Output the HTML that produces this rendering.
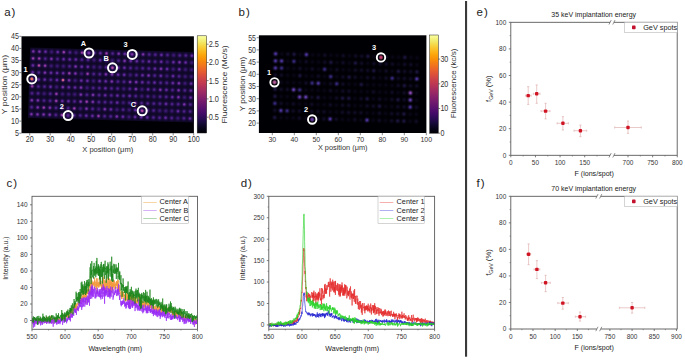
<!DOCTYPE html>
<html><head><meta charset="utf-8"><style>
html,body{margin:0;padding:0;background:#fff;}
svg{display:block;}
text{font-family:"Liberation Sans", sans-serif;}
</style></head><body>
<svg width="685" height="360" viewBox="0 0 685 360">
<defs><linearGradient id="cbar" x1="0" y1="0" x2="0" y2="1"><stop offset="0.00" stop-color="#fcffa4"/><stop offset="0.05" stop-color="#f1ef75"/><stop offset="0.10" stop-color="#f6d746"/><stop offset="0.15" stop-color="#fbbe23"/><stop offset="0.20" stop-color="#fca50a"/><stop offset="0.25" stop-color="#f98e09"/><stop offset="0.30" stop-color="#f37819"/><stop offset="0.35" stop-color="#ea632a"/><stop offset="0.40" stop-color="#dd513a"/><stop offset="0.45" stop-color="#cc4248"/><stop offset="0.50" stop-color="#bc3754"/><stop offset="0.55" stop-color="#a82e5f"/><stop offset="0.60" stop-color="#932667"/><stop offset="0.65" stop-color="#7f1e6c"/><stop offset="0.70" stop-color="#6a176e"/><stop offset="0.75" stop-color="#57106e"/><stop offset="0.80" stop-color="#420a68"/><stop offset="0.85" stop-color="#2b0b57"/><stop offset="0.90" stop-color="#160b39"/><stop offset="0.95" stop-color="#07051b"/><stop offset="1.00" stop-color="#000004"/></linearGradient><clipPath id="cpa"><rect x="21.5" y="36.3" width="172.40" height="96.90"/></clipPath><radialGradient id="ga0"><stop offset="0" stop-color="#3e1a74"/> <stop offset="0.22" stop-color="#3e1a74" stop-opacity="0.9"/><stop offset="0.6" stop-color="#2c1060" stop-opacity="0.55"/><stop offset="1" stop-color="#2c1060" stop-opacity="0"/></radialGradient><radialGradient id="ga1"><stop offset="0" stop-color="#50228c"/> <stop offset="0.22" stop-color="#50228c" stop-opacity="0.9"/><stop offset="0.6" stop-color="#2c1060" stop-opacity="0.55"/><stop offset="1" stop-color="#2c1060" stop-opacity="0"/></radialGradient><radialGradient id="ga2"><stop offset="0" stop-color="#662aa0"/> <stop offset="0.22" stop-color="#662aa0" stop-opacity="0.9"/><stop offset="0.6" stop-color="#2c1060" stop-opacity="0.55"/><stop offset="1" stop-color="#2c1060" stop-opacity="0"/></radialGradient><radialGradient id="ga3"><stop offset="0" stop-color="#7c32a8"/> <stop offset="0.22" stop-color="#7c32a8" stop-opacity="0.9"/><stop offset="0.6" stop-color="#2c1060" stop-opacity="0.55"/><stop offset="1" stop-color="#2c1060" stop-opacity="0"/></radialGradient><radialGradient id="ga4"><stop offset="0" stop-color="#9a3ca8"/> <stop offset="0.22" stop-color="#9a3ca8" stop-opacity="0.9"/><stop offset="0.6" stop-color="#2c1060" stop-opacity="0.55"/><stop offset="1" stop-color="#2c1060" stop-opacity="0"/></radialGradient><radialGradient id="ga5"><stop offset="0" stop-color="#bc4ca2"/> <stop offset="0.22" stop-color="#bc4ca2" stop-opacity="0.9"/><stop offset="0.6" stop-color="#2c1060" stop-opacity="0.55"/><stop offset="1" stop-color="#2c1060" stop-opacity="0"/></radialGradient><radialGradient id="ga6"><stop offset="0" stop-color="#e06694"/> <stop offset="0.22" stop-color="#e06694" stop-opacity="0.9"/><stop offset="0.6" stop-color="#2c1060" stop-opacity="0.55"/><stop offset="1" stop-color="#2c1060" stop-opacity="0"/></radialGradient><radialGradient id="gb0"><stop offset="0" stop-color="#0a0618"/><stop offset="0.2" stop-color="#0a0618" stop-opacity="0.85"/><stop offset="0.45" stop-color="#0a0618" stop-opacity="0.45"/><stop offset="0.7" stop-color="#0a0618" stop-opacity="0.15"/><stop offset="1" stop-color="#0a0618" stop-opacity="0"/></radialGradient><radialGradient id="gb1"><stop offset="0" stop-color="#120c28"/><stop offset="0.2" stop-color="#120c28" stop-opacity="0.85"/><stop offset="0.45" stop-color="#120c28" stop-opacity="0.45"/><stop offset="0.7" stop-color="#120c28" stop-opacity="0.15"/><stop offset="1" stop-color="#120c28" stop-opacity="0"/></radialGradient><radialGradient id="gb2"><stop offset="0" stop-color="#1e1642"/><stop offset="0.2" stop-color="#1e1642" stop-opacity="0.85"/><stop offset="0.45" stop-color="#1e1642" stop-opacity="0.45"/><stop offset="0.7" stop-color="#1e1642" stop-opacity="0.15"/><stop offset="1" stop-color="#1e1642" stop-opacity="0"/></radialGradient><radialGradient id="gb3"><stop offset="0" stop-color="#3a2c86"/><stop offset="0.2" stop-color="#3a2c86" stop-opacity="0.85"/><stop offset="0.45" stop-color="#3a2c86" stop-opacity="0.45"/><stop offset="0.7" stop-color="#3a2c86" stop-opacity="0.15"/><stop offset="1" stop-color="#3a2c86" stop-opacity="0"/></radialGradient><radialGradient id="gb4"><stop offset="0" stop-color="#5238a8"/><stop offset="0.2" stop-color="#5238a8" stop-opacity="0.85"/><stop offset="0.45" stop-color="#5238a8" stop-opacity="0.45"/><stop offset="0.7" stop-color="#5238a8" stop-opacity="0.15"/><stop offset="1" stop-color="#5238a8" stop-opacity="0"/></radialGradient><radialGradient id="gb5"><stop offset="0" stop-color="#6c44bc"/><stop offset="0.2" stop-color="#6c44bc" stop-opacity="0.85"/><stop offset="0.45" stop-color="#6c44bc" stop-opacity="0.45"/><stop offset="0.7" stop-color="#6c44bc" stop-opacity="0.15"/><stop offset="1" stop-color="#6c44bc" stop-opacity="0"/></radialGradient><radialGradient id="gb6"><stop offset="0" stop-color="#9450c4"/><stop offset="0.2" stop-color="#9450c4" stop-opacity="0.85"/><stop offset="0.45" stop-color="#9450c4" stop-opacity="0.45"/><stop offset="0.7" stop-color="#9450c4" stop-opacity="0.15"/><stop offset="1" stop-color="#9450c4" stop-opacity="0"/></radialGradient><radialGradient id="core1"><stop offset="0" stop-color="#c060a0"/><stop offset="0.45" stop-color="#c060a0" stop-opacity="0.8"/><stop offset="1" stop-color="#c060a0" stop-opacity="0"/></radialGradient><radialGradient id="core2"><stop offset="0" stop-color="#7040b0"/><stop offset="0.45" stop-color="#7040b0" stop-opacity="0.8"/><stop offset="1" stop-color="#7040b0" stop-opacity="0"/></radialGradient><radialGradient id="core3"><stop offset="0" stop-color="#d04070"/><stop offset="0.45" stop-color="#d04070" stop-opacity="0.8"/><stop offset="1" stop-color="#d04070" stop-opacity="0"/></radialGradient><clipPath id="cpc"><rect x="32.0" y="196.3" width="165.50" height="133.00"/></clipPath><clipPath id="cpd"><rect x="268.8" y="196.3" width="165.80" height="132.90"/></clipPath></defs>
<rect width="685" height="360" fill="#fff"/>
<text x="4.30" y="15.70" font-size="11.5" text-anchor="start" fill="#222" letter-spacing="0.9">a)</text>
<text x="238.60" y="15.70" font-size="11.5" text-anchor="start" fill="#222" letter-spacing="0.9">b)</text>
<text x="6.60" y="186.60" font-size="11.5" text-anchor="start" fill="#222" letter-spacing="0.9">c)</text>
<text x="240.70" y="186.60" font-size="11.5" text-anchor="start" fill="#222" letter-spacing="0.9">d)</text>
<text x="476.60" y="15.70" font-size="11.5" text-anchor="start" fill="#222" letter-spacing="0.9">e)</text>
<text x="476.60" y="186.60" font-size="11.5" text-anchor="start" fill="#222" letter-spacing="0.9">f)</text>
<rect x="465.00" y="1.00" width="2.10" height="355.70" fill="#3a3a3a"/>
<rect x="21.50" y="36.30" width="172.40" height="96.90" fill="#000004"/>
<g clip-path="url(#cpa)">
<polygon points="30.1,47.5 195.7,52.0 193.6,122.4 27.9,118.0" fill="#0f0826"/>
<circle cx="33.3" cy="51.4" r="3.4" fill="url(#ga3)"/>
<circle cx="39.4" cy="51.6" r="3.4" fill="url(#ga3)"/>
<circle cx="45.5" cy="51.7" r="3.4" fill="url(#ga2)"/>
<circle cx="51.6" cy="51.9" r="3.4" fill="url(#ga0)"/>
<circle cx="57.7" cy="52.1" r="3.4" fill="url(#ga2)"/>
<circle cx="63.8" cy="52.2" r="3.4" fill="url(#ga4)"/>
<circle cx="69.9" cy="52.4" r="3.4" fill="url(#ga1)"/>
<circle cx="76.0" cy="52.6" r="3.4" fill="url(#ga0)"/>
<circle cx="82.1" cy="52.7" r="3.4" fill="url(#ga4)"/>
<circle cx="88.2" cy="52.9" r="3.4" fill="url(#ga2)"/>
<circle cx="94.3" cy="53.0" r="3.4" fill="url(#ga1)"/>
<circle cx="100.4" cy="53.2" r="3.4" fill="url(#ga2)"/>
<circle cx="106.5" cy="53.4" r="3.4" fill="url(#ga4)"/>
<circle cx="112.6" cy="53.5" r="3.4" fill="url(#ga1)"/>
<circle cx="118.7" cy="53.7" r="3.4" fill="url(#ga3)"/>
<circle cx="124.8" cy="53.9" r="3.4" fill="url(#ga2)"/>
<circle cx="130.9" cy="54.0" r="3.4" fill="url(#ga1)"/>
<circle cx="137.0" cy="54.2" r="3.4" fill="url(#ga0)"/>
<circle cx="143.1" cy="54.4" r="3.4" fill="url(#ga3)"/>
<circle cx="149.2" cy="54.5" r="3.4" fill="url(#ga1)"/>
<circle cx="155.3" cy="54.7" r="3.4" fill="url(#ga1)"/>
<circle cx="161.4" cy="54.9" r="3.4" fill="url(#ga2)"/>
<circle cx="167.5" cy="55.0" r="3.4" fill="url(#ga1)"/>
<circle cx="173.6" cy="55.2" r="3.4" fill="url(#ga0)"/>
<circle cx="179.7" cy="55.4" r="3.4" fill="url(#ga1)"/>
<circle cx="185.8" cy="55.5" r="3.4" fill="url(#ga1)"/>
<circle cx="191.9" cy="55.7" r="3.4" fill="url(#ga2)"/>
<circle cx="33.1" cy="58.4" r="3.4" fill="url(#ga4)"/>
<circle cx="39.2" cy="58.5" r="3.4" fill="url(#ga4)"/>
<circle cx="45.3" cy="58.7" r="3.4" fill="url(#ga1)"/>
<circle cx="51.4" cy="58.9" r="3.4" fill="url(#ga3)"/>
<circle cx="57.5" cy="59.0" r="3.4" fill="url(#ga1)"/>
<circle cx="63.6" cy="59.2" r="3.4" fill="url(#ga2)"/>
<circle cx="69.7" cy="59.4" r="3.4" fill="url(#ga2)"/>
<circle cx="75.8" cy="59.5" r="3.4" fill="url(#ga2)"/>
<circle cx="81.9" cy="59.7" r="3.4" fill="url(#ga1)"/>
<circle cx="88.0" cy="59.9" r="3.4" fill="url(#ga1)"/>
<circle cx="94.1" cy="60.0" r="3.4" fill="url(#ga0)"/>
<circle cx="100.2" cy="60.2" r="3.4" fill="url(#ga2)"/>
<circle cx="106.3" cy="60.4" r="3.4" fill="url(#ga1)"/>
<circle cx="112.4" cy="60.5" r="3.4" fill="url(#ga0)"/>
<circle cx="118.5" cy="60.7" r="3.4" fill="url(#ga1)"/>
<circle cx="124.6" cy="60.9" r="3.4" fill="url(#ga3)"/>
<circle cx="130.7" cy="61.0" r="3.4" fill="url(#ga2)"/>
<circle cx="136.8" cy="61.2" r="3.4" fill="url(#ga2)"/>
<circle cx="142.9" cy="61.3" r="3.4" fill="url(#ga1)"/>
<circle cx="149.0" cy="61.5" r="3.4" fill="url(#ga2)"/>
<circle cx="155.1" cy="61.7" r="3.4" fill="url(#ga1)"/>
<circle cx="161.2" cy="61.8" r="3.4" fill="url(#ga2)"/>
<circle cx="167.3" cy="62.0" r="3.4" fill="url(#ga0)"/>
<circle cx="173.4" cy="62.2" r="3.4" fill="url(#ga2)"/>
<circle cx="179.5" cy="62.3" r="3.4" fill="url(#ga3)"/>
<circle cx="185.6" cy="62.5" r="3.4" fill="url(#ga2)"/>
<circle cx="191.7" cy="62.7" r="3.4" fill="url(#ga0)"/>
<circle cx="32.9" cy="65.4" r="3.4" fill="url(#ga2)"/>
<circle cx="39.0" cy="65.5" r="3.4" fill="url(#ga5)"/>
<circle cx="45.1" cy="65.7" r="3.4" fill="url(#ga4)"/>
<circle cx="51.2" cy="65.9" r="3.4" fill="url(#ga0)"/>
<circle cx="57.3" cy="66.0" r="3.4" fill="url(#ga0)"/>
<circle cx="63.4" cy="66.2" r="3.4" fill="url(#ga0)"/>
<circle cx="69.5" cy="66.3" r="3.4" fill="url(#ga1)"/>
<circle cx="75.6" cy="66.5" r="3.4" fill="url(#ga3)"/>
<circle cx="81.7" cy="66.7" r="3.4" fill="url(#ga2)"/>
<circle cx="87.8" cy="66.8" r="3.4" fill="url(#ga2)"/>
<circle cx="93.9" cy="67.0" r="3.4" fill="url(#ga0)"/>
<circle cx="100.0" cy="67.2" r="3.4" fill="url(#ga0)"/>
<circle cx="106.1" cy="67.3" r="3.4" fill="url(#ga1)"/>
<circle cx="112.2" cy="67.5" r="3.4" fill="url(#ga2)"/>
<circle cx="118.3" cy="67.7" r="3.4" fill="url(#ga2)"/>
<circle cx="124.4" cy="67.8" r="3.4" fill="url(#ga2)"/>
<circle cx="130.5" cy="68.0" r="3.4" fill="url(#ga1)"/>
<circle cx="136.6" cy="68.2" r="3.4" fill="url(#ga0)"/>
<circle cx="142.7" cy="68.3" r="3.4" fill="url(#ga1)"/>
<circle cx="148.8" cy="68.5" r="3.4" fill="url(#ga1)"/>
<circle cx="154.9" cy="68.7" r="3.4" fill="url(#ga2)"/>
<circle cx="161.0" cy="68.8" r="3.4" fill="url(#ga3)"/>
<circle cx="167.1" cy="69.0" r="3.4" fill="url(#ga2)"/>
<circle cx="173.2" cy="69.2" r="3.4" fill="url(#ga0)"/>
<circle cx="179.3" cy="69.3" r="3.4" fill="url(#ga2)"/>
<circle cx="185.4" cy="69.5" r="3.4" fill="url(#ga0)"/>
<circle cx="191.5" cy="69.7" r="3.4" fill="url(#ga0)"/>
<circle cx="32.7" cy="72.3" r="3.4" fill="url(#ga2)"/>
<circle cx="38.8" cy="72.5" r="3.4" fill="url(#ga1)"/>
<circle cx="44.9" cy="72.7" r="3.4" fill="url(#ga3)"/>
<circle cx="51.0" cy="72.8" r="3.4" fill="url(#ga2)"/>
<circle cx="57.1" cy="73.0" r="3.4" fill="url(#ga2)"/>
<circle cx="63.2" cy="73.2" r="3.4" fill="url(#ga2)"/>
<circle cx="69.3" cy="73.3" r="3.4" fill="url(#ga4)"/>
<circle cx="75.4" cy="73.5" r="3.4" fill="url(#ga3)"/>
<circle cx="81.5" cy="73.7" r="3.4" fill="url(#ga0)"/>
<circle cx="87.6" cy="73.8" r="3.4" fill="url(#ga4)"/>
<circle cx="93.7" cy="74.0" r="3.4" fill="url(#ga1)"/>
<circle cx="99.8" cy="74.2" r="3.4" fill="url(#ga1)"/>
<circle cx="105.9" cy="74.3" r="3.4" fill="url(#ga3)"/>
<circle cx="112.0" cy="74.5" r="3.4" fill="url(#ga3)"/>
<circle cx="118.1" cy="74.7" r="3.4" fill="url(#ga2)"/>
<circle cx="124.2" cy="74.8" r="3.4" fill="url(#ga2)"/>
<circle cx="130.3" cy="75.0" r="3.4" fill="url(#ga0)"/>
<circle cx="136.4" cy="75.1" r="3.4" fill="url(#ga1)"/>
<circle cx="142.5" cy="75.3" r="3.4" fill="url(#ga2)"/>
<circle cx="148.6" cy="75.5" r="3.4" fill="url(#ga3)"/>
<circle cx="154.7" cy="75.6" r="3.4" fill="url(#ga1)"/>
<circle cx="160.8" cy="75.8" r="3.4" fill="url(#ga2)"/>
<circle cx="166.9" cy="76.0" r="3.4" fill="url(#ga0)"/>
<circle cx="173.0" cy="76.1" r="3.4" fill="url(#ga2)"/>
<circle cx="179.1" cy="76.3" r="3.4" fill="url(#ga1)"/>
<circle cx="185.2" cy="76.5" r="3.4" fill="url(#ga0)"/>
<circle cx="191.3" cy="76.6" r="3.4" fill="url(#ga0)"/>
<circle cx="32.5" cy="79.3" r="3.4" fill="url(#ga6)"/>
<circle cx="38.6" cy="79.5" r="3.4" fill="url(#ga2)"/>
<circle cx="44.7" cy="79.6" r="3.4" fill="url(#ga2)"/>
<circle cx="50.8" cy="79.8" r="3.4" fill="url(#ga1)"/>
<circle cx="56.9" cy="80.0" r="3.4" fill="url(#ga2)"/>
<circle cx="63.0" cy="80.1" r="3.4" fill="url(#ga6)"/>
<circle cx="69.1" cy="80.3" r="3.4" fill="url(#ga3)"/>
<circle cx="75.2" cy="80.5" r="3.4" fill="url(#ga0)"/>
<circle cx="81.3" cy="80.6" r="3.4" fill="url(#ga2)"/>
<circle cx="87.4" cy="80.8" r="3.4" fill="url(#ga2)"/>
<circle cx="93.5" cy="81.0" r="3.4" fill="url(#ga0)"/>
<circle cx="99.6" cy="81.1" r="3.4" fill="url(#ga2)"/>
<circle cx="105.7" cy="81.3" r="3.4" fill="url(#ga2)"/>
<circle cx="111.8" cy="81.5" r="3.4" fill="url(#ga3)"/>
<circle cx="117.9" cy="81.6" r="3.4" fill="url(#ga1)"/>
<circle cx="124.0" cy="81.8" r="3.4" fill="url(#ga1)"/>
<circle cx="130.1" cy="82.0" r="3.4" fill="url(#ga3)"/>
<circle cx="136.2" cy="82.1" r="3.4" fill="url(#ga3)"/>
<circle cx="142.3" cy="82.3" r="3.4" fill="url(#ga2)"/>
<circle cx="148.4" cy="82.5" r="3.4" fill="url(#ga1)"/>
<circle cx="154.5" cy="82.6" r="3.4" fill="url(#ga2)"/>
<circle cx="160.6" cy="82.8" r="3.4" fill="url(#ga1)"/>
<circle cx="166.7" cy="82.9" r="3.4" fill="url(#ga1)"/>
<circle cx="172.8" cy="83.1" r="3.4" fill="url(#ga2)"/>
<circle cx="178.9" cy="83.3" r="3.4" fill="url(#ga3)"/>
<circle cx="185.0" cy="83.4" r="3.4" fill="url(#ga0)"/>
<circle cx="191.1" cy="83.6" r="3.4" fill="url(#ga2)"/>
<circle cx="32.2" cy="86.3" r="3.4" fill="url(#ga4)"/>
<circle cx="38.4" cy="86.5" r="3.4" fill="url(#ga1)"/>
<circle cx="44.5" cy="86.6" r="3.4" fill="url(#ga1)"/>
<circle cx="50.5" cy="86.8" r="3.4" fill="url(#ga2)"/>
<circle cx="56.6" cy="87.0" r="3.4" fill="url(#ga0)"/>
<circle cx="62.8" cy="87.1" r="3.4" fill="url(#ga3)"/>
<circle cx="68.8" cy="87.3" r="3.4" fill="url(#ga2)"/>
<circle cx="75.0" cy="87.5" r="3.4" fill="url(#ga2)"/>
<circle cx="81.0" cy="87.6" r="3.4" fill="url(#ga3)"/>
<circle cx="87.1" cy="87.8" r="3.4" fill="url(#ga0)"/>
<circle cx="93.2" cy="88.0" r="3.4" fill="url(#ga1)"/>
<circle cx="99.3" cy="88.1" r="3.4" fill="url(#ga1)"/>
<circle cx="105.4" cy="88.3" r="3.4" fill="url(#ga2)"/>
<circle cx="111.5" cy="88.4" r="3.4" fill="url(#ga1)"/>
<circle cx="117.6" cy="88.6" r="3.4" fill="url(#ga1)"/>
<circle cx="123.8" cy="88.8" r="3.4" fill="url(#ga0)"/>
<circle cx="129.8" cy="88.9" r="3.4" fill="url(#ga1)"/>
<circle cx="135.9" cy="89.1" r="3.4" fill="url(#ga3)"/>
<circle cx="142.0" cy="89.3" r="3.4" fill="url(#ga0)"/>
<circle cx="148.1" cy="89.4" r="3.4" fill="url(#ga2)"/>
<circle cx="154.2" cy="89.6" r="3.4" fill="url(#ga1)"/>
<circle cx="160.3" cy="89.8" r="3.4" fill="url(#ga3)"/>
<circle cx="166.4" cy="89.9" r="3.4" fill="url(#ga2)"/>
<circle cx="172.5" cy="90.1" r="3.4" fill="url(#ga1)"/>
<circle cx="178.6" cy="90.3" r="3.4" fill="url(#ga3)"/>
<circle cx="184.8" cy="90.4" r="3.4" fill="url(#ga1)"/>
<circle cx="190.8" cy="90.6" r="3.4" fill="url(#ga2)"/>
<circle cx="32.0" cy="93.3" r="3.4" fill="url(#ga1)"/>
<circle cx="38.1" cy="93.4" r="3.4" fill="url(#ga1)"/>
<circle cx="44.2" cy="93.6" r="3.4" fill="url(#ga0)"/>
<circle cx="50.3" cy="93.8" r="3.4" fill="url(#ga1)"/>
<circle cx="56.4" cy="93.9" r="3.4" fill="url(#ga4)"/>
<circle cx="62.5" cy="94.1" r="3.4" fill="url(#ga0)"/>
<circle cx="68.6" cy="94.3" r="3.4" fill="url(#ga0)"/>
<circle cx="74.7" cy="94.4" r="3.4" fill="url(#ga0)"/>
<circle cx="80.8" cy="94.6" r="3.4" fill="url(#ga3)"/>
<circle cx="86.9" cy="94.8" r="3.4" fill="url(#ga1)"/>
<circle cx="93.0" cy="94.9" r="3.4" fill="url(#ga3)"/>
<circle cx="99.1" cy="95.1" r="3.4" fill="url(#ga1)"/>
<circle cx="105.2" cy="95.3" r="3.4" fill="url(#ga2)"/>
<circle cx="111.3" cy="95.4" r="3.4" fill="url(#ga1)"/>
<circle cx="117.4" cy="95.6" r="3.4" fill="url(#ga2)"/>
<circle cx="123.5" cy="95.8" r="3.4" fill="url(#ga1)"/>
<circle cx="129.6" cy="95.9" r="3.4" fill="url(#ga2)"/>
<circle cx="135.7" cy="96.1" r="3.4" fill="url(#ga1)"/>
<circle cx="141.8" cy="96.2" r="3.4" fill="url(#ga0)"/>
<circle cx="147.9" cy="96.4" r="3.4" fill="url(#ga1)"/>
<circle cx="154.0" cy="96.6" r="3.4" fill="url(#ga0)"/>
<circle cx="160.1" cy="96.7" r="3.4" fill="url(#ga1)"/>
<circle cx="166.2" cy="96.9" r="3.4" fill="url(#ga1)"/>
<circle cx="172.3" cy="97.1" r="3.4" fill="url(#ga2)"/>
<circle cx="178.4" cy="97.2" r="3.4" fill="url(#ga3)"/>
<circle cx="184.5" cy="97.4" r="3.4" fill="url(#ga0)"/>
<circle cx="190.6" cy="97.6" r="3.4" fill="url(#ga2)"/>
<circle cx="31.8" cy="100.3" r="3.4" fill="url(#ga3)"/>
<circle cx="37.9" cy="100.4" r="3.4" fill="url(#ga3)"/>
<circle cx="44.0" cy="100.6" r="3.4" fill="url(#ga1)"/>
<circle cx="50.1" cy="100.8" r="3.4" fill="url(#ga1)"/>
<circle cx="56.2" cy="100.9" r="3.4" fill="url(#ga4)"/>
<circle cx="62.3" cy="101.1" r="3.4" fill="url(#ga2)"/>
<circle cx="68.4" cy="101.2" r="3.4" fill="url(#ga2)"/>
<circle cx="74.5" cy="101.4" r="3.4" fill="url(#ga1)"/>
<circle cx="80.6" cy="101.6" r="3.4" fill="url(#ga3)"/>
<circle cx="86.7" cy="101.7" r="3.4" fill="url(#ga4)"/>
<circle cx="92.8" cy="101.9" r="3.4" fill="url(#ga3)"/>
<circle cx="98.9" cy="102.1" r="3.4" fill="url(#ga1)"/>
<circle cx="105.0" cy="102.2" r="3.4" fill="url(#ga1)"/>
<circle cx="111.1" cy="102.4" r="3.4" fill="url(#ga1)"/>
<circle cx="117.2" cy="102.6" r="3.4" fill="url(#ga2)"/>
<circle cx="123.3" cy="102.7" r="3.4" fill="url(#ga0)"/>
<circle cx="129.4" cy="102.9" r="3.4" fill="url(#ga1)"/>
<circle cx="135.5" cy="103.1" r="3.4" fill="url(#ga2)"/>
<circle cx="141.6" cy="103.2" r="3.4" fill="url(#ga1)"/>
<circle cx="147.7" cy="103.4" r="3.4" fill="url(#ga1)"/>
<circle cx="153.8" cy="103.6" r="3.4" fill="url(#ga1)"/>
<circle cx="159.9" cy="103.7" r="3.4" fill="url(#ga1)"/>
<circle cx="166.0" cy="103.9" r="3.4" fill="url(#ga2)"/>
<circle cx="172.1" cy="104.1" r="3.4" fill="url(#ga1)"/>
<circle cx="178.2" cy="104.2" r="3.4" fill="url(#ga1)"/>
<circle cx="184.3" cy="104.4" r="3.4" fill="url(#ga3)"/>
<circle cx="190.4" cy="104.5" r="3.4" fill="url(#ga1)"/>
<circle cx="31.6" cy="107.2" r="3.4" fill="url(#ga1)"/>
<circle cx="37.7" cy="107.4" r="3.4" fill="url(#ga3)"/>
<circle cx="43.8" cy="107.6" r="3.4" fill="url(#ga4)"/>
<circle cx="49.9" cy="107.7" r="3.4" fill="url(#ga3)"/>
<circle cx="56.0" cy="107.9" r="3.4" fill="url(#ga1)"/>
<circle cx="62.1" cy="108.1" r="3.4" fill="url(#ga2)"/>
<circle cx="68.2" cy="108.2" r="3.4" fill="url(#ga1)"/>
<circle cx="74.3" cy="108.4" r="3.4" fill="url(#ga4)"/>
<circle cx="80.4" cy="108.6" r="3.4" fill="url(#ga0)"/>
<circle cx="86.5" cy="108.7" r="3.4" fill="url(#ga3)"/>
<circle cx="92.6" cy="108.9" r="3.4" fill="url(#ga1)"/>
<circle cx="98.7" cy="109.1" r="3.4" fill="url(#ga0)"/>
<circle cx="104.8" cy="109.2" r="3.4" fill="url(#ga3)"/>
<circle cx="110.9" cy="109.4" r="3.4" fill="url(#ga2)"/>
<circle cx="117.0" cy="109.6" r="3.4" fill="url(#ga0)"/>
<circle cx="123.1" cy="109.7" r="3.4" fill="url(#ga1)"/>
<circle cx="129.2" cy="109.9" r="3.4" fill="url(#ga0)"/>
<circle cx="135.3" cy="110.0" r="3.4" fill="url(#ga2)"/>
<circle cx="141.4" cy="110.2" r="3.4" fill="url(#ga3)"/>
<circle cx="147.5" cy="110.4" r="3.4" fill="url(#ga1)"/>
<circle cx="153.6" cy="110.5" r="3.4" fill="url(#ga1)"/>
<circle cx="159.7" cy="110.7" r="3.4" fill="url(#ga0)"/>
<circle cx="165.8" cy="110.9" r="3.4" fill="url(#ga0)"/>
<circle cx="171.9" cy="111.0" r="3.4" fill="url(#ga0)"/>
<circle cx="178.0" cy="111.2" r="3.4" fill="url(#ga2)"/>
<circle cx="184.1" cy="111.4" r="3.4" fill="url(#ga1)"/>
<circle cx="190.2" cy="111.5" r="3.4" fill="url(#ga1)"/>
<circle cx="31.4" cy="114.2" r="3.4" fill="url(#ga3)"/>
<circle cx="37.5" cy="114.4" r="3.4" fill="url(#ga3)"/>
<circle cx="43.6" cy="114.5" r="3.4" fill="url(#ga3)"/>
<circle cx="49.7" cy="114.7" r="3.4" fill="url(#ga3)"/>
<circle cx="55.8" cy="114.9" r="3.4" fill="url(#ga1)"/>
<circle cx="61.9" cy="115.0" r="3.4" fill="url(#ga4)"/>
<circle cx="68.0" cy="115.2" r="3.4" fill="url(#ga4)"/>
<circle cx="74.1" cy="115.4" r="3.4" fill="url(#ga1)"/>
<circle cx="80.2" cy="115.5" r="3.4" fill="url(#ga1)"/>
<circle cx="86.3" cy="115.7" r="3.4" fill="url(#ga2)"/>
<circle cx="92.4" cy="115.9" r="3.4" fill="url(#ga2)"/>
<circle cx="98.5" cy="116.0" r="3.4" fill="url(#ga4)"/>
<circle cx="104.6" cy="116.2" r="3.4" fill="url(#ga1)"/>
<circle cx="110.7" cy="116.4" r="3.4" fill="url(#ga1)"/>
<circle cx="116.8" cy="116.5" r="3.4" fill="url(#ga3)"/>
<circle cx="122.9" cy="116.7" r="3.4" fill="url(#ga2)"/>
<circle cx="129.0" cy="116.9" r="3.4" fill="url(#ga0)"/>
<circle cx="135.1" cy="117.0" r="3.4" fill="url(#ga2)"/>
<circle cx="141.2" cy="117.2" r="3.4" fill="url(#ga2)"/>
<circle cx="147.3" cy="117.4" r="3.4" fill="url(#ga2)"/>
<circle cx="153.4" cy="117.5" r="3.4" fill="url(#ga1)"/>
<circle cx="159.5" cy="117.7" r="3.4" fill="url(#ga1)"/>
<circle cx="165.6" cy="117.8" r="3.4" fill="url(#ga2)"/>
<circle cx="171.7" cy="118.0" r="3.4" fill="url(#ga1)"/>
<circle cx="177.8" cy="118.2" r="3.4" fill="url(#ga0)"/>
<circle cx="183.9" cy="118.3" r="3.4" fill="url(#ga1)"/>
<circle cx="190.0" cy="118.5" r="3.4" fill="url(#ga2)"/>
</g>
<circle cx="31.8" cy="78.9" r="3.4" fill="url(#ga6)"/>
<circle cx="31.8" cy="78.9" r="1.3" fill="#f07a58" opacity="0.85"/>
<circle cx="31.8" cy="78.9" r="4.5" fill="none" stroke="#fff" stroke-width="2.0"/>
<text x="25.60" y="72.30" font-size="7.4" text-anchor="middle" fill="#fff" font-weight="bold">1</text>
<circle cx="89.0" cy="53.0" r="3.4" fill="url(#ga3)"/>
<circle cx="89.0" cy="53.0" r="4.5" fill="none" stroke="#fff" stroke-width="2.0"/>
<text x="83.40" y="45.90" font-size="7.4" text-anchor="middle" fill="#fff" font-weight="bold">A</text>
<circle cx="112.5" cy="67.8" r="3.4" fill="url(#ga5)"/>
<circle cx="112.5" cy="67.8" r="4.5" fill="none" stroke="#fff" stroke-width="2.0"/>
<text x="106.10" y="61.20" font-size="7.4" text-anchor="middle" fill="#fff" font-weight="bold">B</text>
<circle cx="132.2" cy="54.4" r="3.4" fill="url(#ga3)"/>
<circle cx="132.2" cy="54.4" r="4.5" fill="none" stroke="#fff" stroke-width="2.0"/>
<text x="125.60" y="47.30" font-size="7.4" text-anchor="middle" fill="#fff" font-weight="bold">3</text>
<circle cx="68.1" cy="115.6" r="3.4" fill="url(#ga1)"/>
<circle cx="68.1" cy="115.6" r="4.5" fill="none" stroke="#fff" stroke-width="2.0"/>
<text x="61.70" y="109.30" font-size="7.4" text-anchor="middle" fill="#fff" font-weight="bold">2</text>
<circle cx="142.2" cy="110.8" r="3.4" fill="url(#ga5)"/>
<circle cx="142.2" cy="110.8" r="4.5" fill="none" stroke="#fff" stroke-width="2.0"/>
<text x="133.30" y="107.00" font-size="7.4" text-anchor="middle" fill="#fff" font-weight="bold">C</text>
<line x1="19.30" y1="133.20" x2="21.50" y2="133.20" stroke="#333" stroke-width="0.6"/>
<text x="18.90" y="136.10" font-size="8.2" text-anchor="end" fill="#333" textLength="3.97" lengthAdjust="spacingAndGlyphs">5</text>
<line x1="19.30" y1="121.09" x2="21.50" y2="121.09" stroke="#333" stroke-width="0.6"/>
<text x="18.90" y="123.99" font-size="8.2" text-anchor="end" fill="#333" textLength="7.93" lengthAdjust="spacingAndGlyphs">10</text>
<line x1="19.30" y1="108.97" x2="21.50" y2="108.97" stroke="#333" stroke-width="0.6"/>
<text x="18.90" y="111.87" font-size="8.2" text-anchor="end" fill="#333" textLength="7.93" lengthAdjust="spacingAndGlyphs">15</text>
<line x1="19.30" y1="96.86" x2="21.50" y2="96.86" stroke="#333" stroke-width="0.6"/>
<text x="18.90" y="99.76" font-size="8.2" text-anchor="end" fill="#333" textLength="7.93" lengthAdjust="spacingAndGlyphs">20</text>
<line x1="19.30" y1="84.75" x2="21.50" y2="84.75" stroke="#333" stroke-width="0.6"/>
<text x="18.90" y="87.65" font-size="8.2" text-anchor="end" fill="#333" textLength="7.93" lengthAdjust="spacingAndGlyphs">25</text>
<line x1="19.30" y1="72.64" x2="21.50" y2="72.64" stroke="#333" stroke-width="0.6"/>
<text x="18.90" y="75.54" font-size="8.2" text-anchor="end" fill="#333" textLength="7.93" lengthAdjust="spacingAndGlyphs">30</text>
<line x1="19.30" y1="60.52" x2="21.50" y2="60.52" stroke="#333" stroke-width="0.6"/>
<text x="18.90" y="63.42" font-size="8.2" text-anchor="end" fill="#333" textLength="7.93" lengthAdjust="spacingAndGlyphs">35</text>
<line x1="19.30" y1="48.41" x2="21.50" y2="48.41" stroke="#333" stroke-width="0.6"/>
<text x="18.90" y="51.31" font-size="8.2" text-anchor="end" fill="#333" textLength="7.93" lengthAdjust="spacingAndGlyphs">40</text>
<line x1="19.30" y1="36.30" x2="21.50" y2="36.30" stroke="#333" stroke-width="0.6"/>
<text x="18.90" y="39.20" font-size="8.2" text-anchor="end" fill="#333" textLength="7.93" lengthAdjust="spacingAndGlyphs">45</text>
<line x1="29.70" y1="133.20" x2="29.70" y2="135.40" stroke="#333" stroke-width="0.6"/>
<text x="29.70" y="142.00" font-size="8.2" text-anchor="middle" fill="#333" textLength="7.93" lengthAdjust="spacingAndGlyphs">20</text>
<line x1="50.20" y1="133.20" x2="50.20" y2="135.40" stroke="#333" stroke-width="0.6"/>
<text x="50.20" y="142.00" font-size="8.2" text-anchor="middle" fill="#333" textLength="7.93" lengthAdjust="spacingAndGlyphs">30</text>
<line x1="70.70" y1="133.20" x2="70.70" y2="135.40" stroke="#333" stroke-width="0.6"/>
<text x="70.70" y="142.00" font-size="8.2" text-anchor="middle" fill="#333" textLength="7.93" lengthAdjust="spacingAndGlyphs">40</text>
<line x1="91.20" y1="133.20" x2="91.20" y2="135.40" stroke="#333" stroke-width="0.6"/>
<text x="91.20" y="142.00" font-size="8.2" text-anchor="middle" fill="#333" textLength="7.93" lengthAdjust="spacingAndGlyphs">50</text>
<line x1="111.70" y1="133.20" x2="111.70" y2="135.40" stroke="#333" stroke-width="0.6"/>
<text x="111.70" y="142.00" font-size="8.2" text-anchor="middle" fill="#333" textLength="7.93" lengthAdjust="spacingAndGlyphs">60</text>
<line x1="132.20" y1="133.20" x2="132.20" y2="135.40" stroke="#333" stroke-width="0.6"/>
<text x="132.20" y="142.00" font-size="8.2" text-anchor="middle" fill="#333" textLength="7.93" lengthAdjust="spacingAndGlyphs">70</text>
<line x1="152.70" y1="133.20" x2="152.70" y2="135.40" stroke="#333" stroke-width="0.6"/>
<text x="152.70" y="142.00" font-size="8.2" text-anchor="middle" fill="#333" textLength="7.93" lengthAdjust="spacingAndGlyphs">80</text>
<line x1="173.20" y1="133.20" x2="173.20" y2="135.40" stroke="#333" stroke-width="0.6"/>
<text x="173.20" y="142.00" font-size="8.2" text-anchor="middle" fill="#333" textLength="7.93" lengthAdjust="spacingAndGlyphs">90</text>
<line x1="193.70" y1="133.20" x2="193.70" y2="135.40" stroke="#333" stroke-width="0.6"/>
<text x="193.70" y="142.00" font-size="8.2" text-anchor="middle" fill="#333" textLength="11.9" lengthAdjust="spacingAndGlyphs">100</text>
<text x="107.75" y="151.90" font-size="7.6" text-anchor="middle" fill="#333" textLength="51" lengthAdjust="spacingAndGlyphs">X position (μm)</text>
<text x="7.30" y="84.65" font-size="7.6" text-anchor="middle" fill="#333" transform="rotate(-90 7.30 84.65)" textLength="59.5" lengthAdjust="spacingAndGlyphs">Y position (μm)</text>
<rect x="197.20" y="35.80" width="9.50" height="97.20" fill="url(#cbar)" stroke="#222" stroke-width="0.5"/>
<line x1="206.70" y1="44.20" x2="208.60" y2="44.20" stroke="#333" stroke-width="0.6"/>
<text x="208.70" y="47.10" font-size="8.2" text-anchor="start" fill="#333" textLength="10.26" lengthAdjust="spacingAndGlyphs">2.5</text>
<line x1="206.70" y1="62.50" x2="208.60" y2="62.50" stroke="#333" stroke-width="0.6"/>
<text x="208.70" y="65.40" font-size="8.2" text-anchor="start" fill="#333" textLength="10.26" lengthAdjust="spacingAndGlyphs">2.0</text>
<line x1="206.70" y1="80.60" x2="208.60" y2="80.60" stroke="#333" stroke-width="0.6"/>
<text x="208.70" y="83.50" font-size="8.2" text-anchor="start" fill="#333" textLength="10.26" lengthAdjust="spacingAndGlyphs">1.5</text>
<line x1="206.70" y1="98.90" x2="208.60" y2="98.90" stroke="#333" stroke-width="0.6"/>
<text x="208.70" y="101.80" font-size="8.2" text-anchor="start" fill="#333" textLength="10.26" lengthAdjust="spacingAndGlyphs">1.0</text>
<line x1="206.70" y1="117.20" x2="208.60" y2="117.20" stroke="#333" stroke-width="0.6"/>
<text x="208.70" y="120.10" font-size="8.2" text-anchor="start" fill="#333" textLength="10.26" lengthAdjust="spacingAndGlyphs">0.5</text>
<text x="226.80" y="84.40" font-size="7.6" text-anchor="middle" fill="#333" transform="rotate(-90 226.80 84.40)" textLength="78" lengthAdjust="spacingAndGlyphs">Fluorescence (Mc/s)</text>
<rect x="258.90" y="35.30" width="167.50" height="97.70" fill="#000004"/>
<circle cx="275.6" cy="53.8" r="3.6" fill="url(#gb4)"/>
<circle cx="281.8" cy="54.0" r="3.6" fill="url(#gb0)"/>
<circle cx="287.9" cy="54.1" r="3.6" fill="url(#gb1)"/>
<circle cx="294.1" cy="54.3" r="3.6" fill="url(#gb2)"/>
<circle cx="300.2" cy="54.5" r="3.6" fill="url(#gb0)"/>
<circle cx="306.4" cy="54.6" r="3.6" fill="url(#gb4)"/>
<circle cx="312.5" cy="54.8" r="3.6" fill="url(#gb0)"/>
<circle cx="318.7" cy="55.0" r="3.6" fill="url(#gb0)"/>
<circle cx="324.8" cy="55.2" r="3.6" fill="url(#gb1)"/>
<circle cx="331.0" cy="55.3" r="3.6" fill="url(#gb0)"/>
<circle cx="337.1" cy="55.5" r="3.6" fill="url(#gb0)"/>
<circle cx="343.2" cy="55.7" r="3.6" fill="url(#gb1)"/>
<circle cx="349.4" cy="55.8" r="3.6" fill="url(#gb0)"/>
<circle cx="355.6" cy="56.0" r="3.6" fill="url(#gb1)"/>
<circle cx="361.7" cy="56.2" r="3.6" fill="url(#gb1)"/>
<circle cx="367.9" cy="56.3" r="3.6" fill="url(#gb2)"/>
<circle cx="374.0" cy="56.5" r="3.6" fill="url(#gb0)"/>
<circle cx="380.2" cy="56.7" r="3.6" fill="url(#gb1)"/>
<circle cx="386.3" cy="56.9" r="3.6" fill="url(#gb1)"/>
<circle cx="392.5" cy="57.0" r="3.6" fill="url(#gb0)"/>
<circle cx="398.6" cy="57.2" r="3.6" fill="url(#gb0)"/>
<circle cx="404.8" cy="57.4" r="3.6" fill="url(#gb2)"/>
<circle cx="410.9" cy="57.5" r="3.6" fill="url(#gb0)"/>
<circle cx="417.1" cy="57.7" r="3.6" fill="url(#gb0)"/>
<circle cx="275.5" cy="60.9" r="3.6" fill="url(#gb4)"/>
<circle cx="281.6" cy="61.0" r="3.6" fill="url(#gb4)"/>
<circle cx="287.8" cy="61.2" r="3.6" fill="url(#gb0)"/>
<circle cx="293.9" cy="61.4" r="3.6" fill="url(#gb3)"/>
<circle cx="300.1" cy="61.6" r="3.6" fill="url(#gb0)"/>
<circle cx="306.2" cy="61.7" r="3.6" fill="url(#gb1)"/>
<circle cx="312.4" cy="61.9" r="3.6" fill="url(#gb0)"/>
<circle cx="318.6" cy="62.1" r="3.6" fill="url(#gb0)"/>
<circle cx="324.7" cy="62.2" r="3.6" fill="url(#gb1)"/>
<circle cx="330.9" cy="62.4" r="3.6" fill="url(#gb2)"/>
<circle cx="337.0" cy="62.6" r="3.6" fill="url(#gb0)"/>
<circle cx="343.1" cy="62.7" r="3.6" fill="url(#gb1)"/>
<circle cx="349.3" cy="62.9" r="3.6" fill="url(#gb0)"/>
<circle cx="355.4" cy="63.1" r="3.6" fill="url(#gb2)"/>
<circle cx="361.6" cy="63.3" r="3.6" fill="url(#gb1)"/>
<circle cx="367.8" cy="63.4" r="3.6" fill="url(#gb0)"/>
<circle cx="373.9" cy="63.6" r="3.6" fill="url(#gb1)"/>
<circle cx="380.1" cy="63.8" r="3.6" fill="url(#gb1)"/>
<circle cx="386.2" cy="63.9" r="3.6" fill="url(#gb1)"/>
<circle cx="392.4" cy="64.1" r="3.6" fill="url(#gb1)"/>
<circle cx="398.5" cy="64.3" r="3.6" fill="url(#gb0)"/>
<circle cx="404.6" cy="64.4" r="3.6" fill="url(#gb1)"/>
<circle cx="410.8" cy="64.6" r="3.6" fill="url(#gb1)"/>
<circle cx="417.0" cy="64.8" r="3.6" fill="url(#gb0)"/>
<circle cx="275.4" cy="68.0" r="3.6" fill="url(#gb4)"/>
<circle cx="281.6" cy="68.1" r="3.6" fill="url(#gb3)"/>
<circle cx="287.7" cy="68.3" r="3.6" fill="url(#gb0)"/>
<circle cx="293.9" cy="68.5" r="3.6" fill="url(#gb0)"/>
<circle cx="300.0" cy="68.6" r="3.6" fill="url(#gb1)"/>
<circle cx="306.2" cy="68.8" r="3.6" fill="url(#gb0)"/>
<circle cx="312.3" cy="69.0" r="3.6" fill="url(#gb1)"/>
<circle cx="318.5" cy="69.1" r="3.6" fill="url(#gb0)"/>
<circle cx="324.6" cy="69.3" r="3.6" fill="url(#gb3)"/>
<circle cx="330.8" cy="69.5" r="3.6" fill="url(#gb0)"/>
<circle cx="336.9" cy="69.7" r="3.6" fill="url(#gb1)"/>
<circle cx="343.1" cy="69.8" r="3.6" fill="url(#gb0)"/>
<circle cx="349.2" cy="70.0" r="3.6" fill="url(#gb0)"/>
<circle cx="355.4" cy="70.2" r="3.6" fill="url(#gb1)"/>
<circle cx="361.5" cy="70.3" r="3.6" fill="url(#gb1)"/>
<circle cx="367.7" cy="70.5" r="3.6" fill="url(#gb1)"/>
<circle cx="373.8" cy="70.7" r="3.6" fill="url(#gb2)"/>
<circle cx="380.0" cy="70.8" r="3.6" fill="url(#gb0)"/>
<circle cx="386.1" cy="71.0" r="3.6" fill="url(#gb1)"/>
<circle cx="392.3" cy="71.2" r="3.6" fill="url(#gb0)"/>
<circle cx="398.4" cy="71.4" r="3.6" fill="url(#gb2)"/>
<circle cx="404.6" cy="71.5" r="3.6" fill="url(#gb1)"/>
<circle cx="410.7" cy="71.7" r="3.6" fill="url(#gb1)"/>
<circle cx="416.9" cy="71.9" r="3.6" fill="url(#gb2)"/>
<circle cx="275.3" cy="75.0" r="3.6" fill="url(#gb1)"/>
<circle cx="281.4" cy="75.2" r="3.6" fill="url(#gb1)"/>
<circle cx="287.6" cy="75.4" r="3.6" fill="url(#gb0)"/>
<circle cx="293.8" cy="75.5" r="3.6" fill="url(#gb0)"/>
<circle cx="299.9" cy="75.7" r="3.6" fill="url(#gb2)"/>
<circle cx="306.1" cy="75.9" r="3.6" fill="url(#gb0)"/>
<circle cx="312.2" cy="76.1" r="3.6" fill="url(#gb0)"/>
<circle cx="318.4" cy="76.2" r="3.6" fill="url(#gb1)"/>
<circle cx="324.5" cy="76.4" r="3.6" fill="url(#gb0)"/>
<circle cx="330.7" cy="76.6" r="3.6" fill="url(#gb3)"/>
<circle cx="336.8" cy="76.7" r="3.6" fill="url(#gb0)"/>
<circle cx="342.9" cy="76.9" r="3.6" fill="url(#gb1)"/>
<circle cx="349.1" cy="77.1" r="3.6" fill="url(#gb2)"/>
<circle cx="355.2" cy="77.2" r="3.6" fill="url(#gb1)"/>
<circle cx="361.4" cy="77.4" r="3.6" fill="url(#gb0)"/>
<circle cx="367.6" cy="77.6" r="3.6" fill="url(#gb1)"/>
<circle cx="373.7" cy="77.8" r="3.6" fill="url(#gb1)"/>
<circle cx="379.9" cy="77.9" r="3.6" fill="url(#gb0)"/>
<circle cx="386.0" cy="78.1" r="3.6" fill="url(#gb1)"/>
<circle cx="392.2" cy="78.3" r="3.6" fill="url(#gb3)"/>
<circle cx="398.3" cy="78.4" r="3.6" fill="url(#gb1)"/>
<circle cx="404.4" cy="78.6" r="3.6" fill="url(#gb1)"/>
<circle cx="410.6" cy="78.8" r="3.6" fill="url(#gb1)"/>
<circle cx="416.8" cy="78.9" r="3.6" fill="url(#gb4)"/>
<circle cx="275.2" cy="82.1" r="3.6" fill="url(#gb1)"/>
<circle cx="281.4" cy="82.3" r="3.6" fill="url(#gb0)"/>
<circle cx="287.5" cy="82.5" r="3.6" fill="url(#gb0)"/>
<circle cx="293.7" cy="82.6" r="3.6" fill="url(#gb0)"/>
<circle cx="299.8" cy="82.8" r="3.6" fill="url(#gb0)"/>
<circle cx="306.0" cy="83.0" r="3.6" fill="url(#gb1)"/>
<circle cx="312.1" cy="83.1" r="3.6" fill="url(#gb3)"/>
<circle cx="318.3" cy="83.3" r="3.6" fill="url(#gb4)"/>
<circle cx="324.4" cy="83.5" r="3.6" fill="url(#gb0)"/>
<circle cx="330.6" cy="83.7" r="3.6" fill="url(#gb1)"/>
<circle cx="336.7" cy="83.8" r="3.6" fill="url(#gb3)"/>
<circle cx="342.9" cy="84.0" r="3.6" fill="url(#gb1)"/>
<circle cx="349.0" cy="84.2" r="3.6" fill="url(#gb0)"/>
<circle cx="355.2" cy="84.3" r="3.6" fill="url(#gb0)"/>
<circle cx="361.3" cy="84.5" r="3.6" fill="url(#gb2)"/>
<circle cx="367.5" cy="84.7" r="3.6" fill="url(#gb0)"/>
<circle cx="373.6" cy="84.8" r="3.6" fill="url(#gb0)"/>
<circle cx="379.8" cy="85.0" r="3.6" fill="url(#gb0)"/>
<circle cx="385.9" cy="85.2" r="3.6" fill="url(#gb0)"/>
<circle cx="392.1" cy="85.4" r="3.6" fill="url(#gb0)"/>
<circle cx="398.2" cy="85.5" r="3.6" fill="url(#gb1)"/>
<circle cx="404.4" cy="85.7" r="3.6" fill="url(#gb2)"/>
<circle cx="410.5" cy="85.9" r="3.6" fill="url(#gb1)"/>
<circle cx="416.7" cy="86.0" r="3.6" fill="url(#gb1)"/>
<circle cx="275.1" cy="89.2" r="3.6" fill="url(#gb2)"/>
<circle cx="281.2" cy="89.4" r="3.6" fill="url(#gb1)"/>
<circle cx="287.4" cy="89.5" r="3.6" fill="url(#gb1)"/>
<circle cx="293.6" cy="89.7" r="3.6" fill="url(#gb5)"/>
<circle cx="299.7" cy="89.9" r="3.6" fill="url(#gb3)"/>
<circle cx="305.9" cy="90.0" r="3.6" fill="url(#gb0)"/>
<circle cx="312.0" cy="90.2" r="3.6" fill="url(#gb0)"/>
<circle cx="318.2" cy="90.4" r="3.6" fill="url(#gb0)"/>
<circle cx="324.3" cy="90.6" r="3.6" fill="url(#gb0)"/>
<circle cx="330.5" cy="90.7" r="3.6" fill="url(#gb1)"/>
<circle cx="336.6" cy="90.9" r="3.6" fill="url(#gb0)"/>
<circle cx="342.8" cy="91.1" r="3.6" fill="url(#gb1)"/>
<circle cx="348.9" cy="91.2" r="3.6" fill="url(#gb1)"/>
<circle cx="355.1" cy="91.4" r="3.6" fill="url(#gb0)"/>
<circle cx="361.2" cy="91.6" r="3.6" fill="url(#gb0)"/>
<circle cx="367.4" cy="91.7" r="3.6" fill="url(#gb0)"/>
<circle cx="373.5" cy="91.9" r="3.6" fill="url(#gb1)"/>
<circle cx="379.7" cy="92.1" r="3.6" fill="url(#gb0)"/>
<circle cx="385.8" cy="92.3" r="3.6" fill="url(#gb0)"/>
<circle cx="392.0" cy="92.4" r="3.6" fill="url(#gb1)"/>
<circle cx="398.1" cy="92.6" r="3.6" fill="url(#gb0)"/>
<circle cx="404.2" cy="92.8" r="3.6" fill="url(#gb1)"/>
<circle cx="410.4" cy="92.9" r="3.6" fill="url(#gb6)"/>
<circle cx="416.6" cy="93.1" r="3.6" fill="url(#gb0)"/>
<circle cx="275.0" cy="96.3" r="3.6" fill="url(#gb2)"/>
<circle cx="281.1" cy="96.5" r="3.6" fill="url(#gb0)"/>
<circle cx="287.3" cy="96.6" r="3.6" fill="url(#gb0)"/>
<circle cx="293.4" cy="96.8" r="3.6" fill="url(#gb0)"/>
<circle cx="299.6" cy="97.0" r="3.6" fill="url(#gb5)"/>
<circle cx="305.8" cy="97.1" r="3.6" fill="url(#gb5)"/>
<circle cx="311.9" cy="97.3" r="3.6" fill="url(#gb1)"/>
<circle cx="318.1" cy="97.5" r="3.6" fill="url(#gb2)"/>
<circle cx="324.2" cy="97.6" r="3.6" fill="url(#gb0)"/>
<circle cx="330.4" cy="97.8" r="3.6" fill="url(#gb0)"/>
<circle cx="336.5" cy="98.0" r="3.6" fill="url(#gb1)"/>
<circle cx="342.6" cy="98.2" r="3.6" fill="url(#gb2)"/>
<circle cx="348.8" cy="98.3" r="3.6" fill="url(#gb2)"/>
<circle cx="354.9" cy="98.5" r="3.6" fill="url(#gb0)"/>
<circle cx="361.1" cy="98.7" r="3.6" fill="url(#gb1)"/>
<circle cx="367.2" cy="98.8" r="3.6" fill="url(#gb2)"/>
<circle cx="373.4" cy="99.0" r="3.6" fill="url(#gb0)"/>
<circle cx="379.6" cy="99.2" r="3.6" fill="url(#gb1)"/>
<circle cx="385.7" cy="99.3" r="3.6" fill="url(#gb0)"/>
<circle cx="391.9" cy="99.5" r="3.6" fill="url(#gb1)"/>
<circle cx="398.0" cy="99.7" r="3.6" fill="url(#gb2)"/>
<circle cx="404.1" cy="99.8" r="3.6" fill="url(#gb1)"/>
<circle cx="410.3" cy="100.0" r="3.6" fill="url(#gb5)"/>
<circle cx="416.5" cy="100.2" r="3.6" fill="url(#gb0)"/>
<circle cx="274.9" cy="103.4" r="3.6" fill="url(#gb3)"/>
<circle cx="281.1" cy="103.5" r="3.6" fill="url(#gb1)"/>
<circle cx="287.2" cy="103.7" r="3.6" fill="url(#gb0)"/>
<circle cx="293.4" cy="103.9" r="3.6" fill="url(#gb1)"/>
<circle cx="299.5" cy="104.0" r="3.6" fill="url(#gb0)"/>
<circle cx="305.7" cy="104.2" r="3.6" fill="url(#gb0)"/>
<circle cx="311.8" cy="104.4" r="3.6" fill="url(#gb1)"/>
<circle cx="318.0" cy="104.5" r="3.6" fill="url(#gb0)"/>
<circle cx="324.1" cy="104.7" r="3.6" fill="url(#gb0)"/>
<circle cx="330.3" cy="104.9" r="3.6" fill="url(#gb1)"/>
<circle cx="336.4" cy="105.1" r="3.6" fill="url(#gb0)"/>
<circle cx="342.6" cy="105.2" r="3.6" fill="url(#gb1)"/>
<circle cx="348.7" cy="105.4" r="3.6" fill="url(#gb1)"/>
<circle cx="354.9" cy="105.6" r="3.6" fill="url(#gb0)"/>
<circle cx="361.0" cy="105.7" r="3.6" fill="url(#gb0)"/>
<circle cx="367.2" cy="105.9" r="3.6" fill="url(#gb1)"/>
<circle cx="373.3" cy="106.1" r="3.6" fill="url(#gb1)"/>
<circle cx="379.5" cy="106.2" r="3.6" fill="url(#gb2)"/>
<circle cx="385.6" cy="106.4" r="3.6" fill="url(#gb0)"/>
<circle cx="391.8" cy="106.6" r="3.6" fill="url(#gb0)"/>
<circle cx="397.9" cy="106.8" r="3.6" fill="url(#gb1)"/>
<circle cx="404.1" cy="106.9" r="3.6" fill="url(#gb1)"/>
<circle cx="410.2" cy="107.1" r="3.6" fill="url(#gb4)"/>
<circle cx="416.4" cy="107.3" r="3.6" fill="url(#gb1)"/>
<circle cx="274.8" cy="110.4" r="3.6" fill="url(#gb1)"/>
<circle cx="280.9" cy="110.6" r="3.6" fill="url(#gb4)"/>
<circle cx="287.1" cy="110.8" r="3.6" fill="url(#gb3)"/>
<circle cx="293.2" cy="111.0" r="3.6" fill="url(#gb1)"/>
<circle cx="299.4" cy="111.1" r="3.6" fill="url(#gb1)"/>
<circle cx="305.6" cy="111.3" r="3.6" fill="url(#gb0)"/>
<circle cx="311.7" cy="111.5" r="3.6" fill="url(#gb1)"/>
<circle cx="317.9" cy="111.6" r="3.6" fill="url(#gb1)"/>
<circle cx="324.0" cy="111.8" r="3.6" fill="url(#gb1)"/>
<circle cx="330.2" cy="112.0" r="3.6" fill="url(#gb0)"/>
<circle cx="336.3" cy="112.1" r="3.6" fill="url(#gb0)"/>
<circle cx="342.4" cy="112.3" r="3.6" fill="url(#gb1)"/>
<circle cx="348.6" cy="112.5" r="3.6" fill="url(#gb1)"/>
<circle cx="354.8" cy="112.6" r="3.6" fill="url(#gb1)"/>
<circle cx="360.9" cy="112.8" r="3.6" fill="url(#gb1)"/>
<circle cx="367.1" cy="113.0" r="3.6" fill="url(#gb0)"/>
<circle cx="373.2" cy="113.2" r="3.6" fill="url(#gb0)"/>
<circle cx="379.4" cy="113.3" r="3.6" fill="url(#gb1)"/>
<circle cx="385.5" cy="113.5" r="3.6" fill="url(#gb0)"/>
<circle cx="391.7" cy="113.7" r="3.6" fill="url(#gb1)"/>
<circle cx="397.8" cy="113.8" r="3.6" fill="url(#gb1)"/>
<circle cx="403.9" cy="114.0" r="3.6" fill="url(#gb2)"/>
<circle cx="410.1" cy="114.2" r="3.6" fill="url(#gb0)"/>
<circle cx="416.3" cy="114.3" r="3.6" fill="url(#gb0)"/>
<circle cx="274.7" cy="117.5" r="3.6" fill="url(#gb2)"/>
<circle cx="280.9" cy="117.7" r="3.6" fill="url(#gb0)"/>
<circle cx="287.0" cy="117.9" r="3.6" fill="url(#gb0)"/>
<circle cx="293.2" cy="118.0" r="3.6" fill="url(#gb0)"/>
<circle cx="299.3" cy="118.2" r="3.6" fill="url(#gb1)"/>
<circle cx="305.5" cy="118.4" r="3.6" fill="url(#gb0)"/>
<circle cx="311.6" cy="118.5" r="3.6" fill="url(#gb0)"/>
<circle cx="317.8" cy="118.7" r="3.6" fill="url(#gb1)"/>
<circle cx="323.9" cy="118.9" r="3.6" fill="url(#gb1)"/>
<circle cx="330.1" cy="119.0" r="3.6" fill="url(#gb4)"/>
<circle cx="336.2" cy="119.2" r="3.6" fill="url(#gb1)"/>
<circle cx="342.4" cy="119.4" r="3.6" fill="url(#gb0)"/>
<circle cx="348.5" cy="119.6" r="3.6" fill="url(#gb0)"/>
<circle cx="354.7" cy="119.7" r="3.6" fill="url(#gb1)"/>
<circle cx="360.8" cy="119.9" r="3.6" fill="url(#gb0)"/>
<circle cx="367.0" cy="120.1" r="3.6" fill="url(#gb4)"/>
<circle cx="373.1" cy="120.2" r="3.6" fill="url(#gb0)"/>
<circle cx="379.3" cy="120.4" r="3.6" fill="url(#gb1)"/>
<circle cx="385.4" cy="120.6" r="3.6" fill="url(#gb0)"/>
<circle cx="391.6" cy="120.8" r="3.6" fill="url(#gb1)"/>
<circle cx="397.7" cy="120.9" r="3.6" fill="url(#gb2)"/>
<circle cx="403.9" cy="121.1" r="3.6" fill="url(#gb2)"/>
<circle cx="410.0" cy="121.3" r="3.6" fill="url(#gb0)"/>
<circle cx="416.2" cy="121.4" r="3.6" fill="url(#gb1)"/>
<circle cx="274.5" cy="82.3" r="2.6" fill="url(#core1)"/>
<circle cx="274.5" cy="82.3" r="4.2" fill="none" stroke="#fff" stroke-width="1.9"/>
<text x="269.00" y="74.70" font-size="7.4" text-anchor="middle" fill="#fff" font-weight="bold">1</text>
<circle cx="312.2" cy="119.5" r="2.6" fill="url(#core2)"/>
<circle cx="312.2" cy="119.5" r="4.2" fill="none" stroke="#fff" stroke-width="1.9"/>
<text x="306.10" y="111.90" font-size="7.4" text-anchor="middle" fill="#fff" font-weight="bold">2</text>
<circle cx="381.0" cy="57.4" r="2.6" fill="url(#core3)"/>
<circle cx="381.0" cy="57.4" r="4.2" fill="none" stroke="#fff" stroke-width="1.9"/>
<text x="374.10" y="50.00" font-size="7.4" text-anchor="middle" fill="#fff" font-weight="bold">3</text>
<line x1="256.70" y1="123.10" x2="258.90" y2="123.10" stroke="#333" stroke-width="0.6"/>
<text x="256.00" y="126.00" font-size="8.2" text-anchor="end" fill="#333" textLength="7.75" lengthAdjust="spacingAndGlyphs">20</text>
<line x1="256.70" y1="110.90" x2="258.90" y2="110.90" stroke="#333" stroke-width="0.6"/>
<text x="256.00" y="113.80" font-size="8.2" text-anchor="end" fill="#333" textLength="7.75" lengthAdjust="spacingAndGlyphs">25</text>
<line x1="256.70" y1="98.70" x2="258.90" y2="98.70" stroke="#333" stroke-width="0.6"/>
<text x="256.00" y="101.60" font-size="8.2" text-anchor="end" fill="#333" textLength="7.75" lengthAdjust="spacingAndGlyphs">30</text>
<line x1="256.70" y1="86.50" x2="258.90" y2="86.50" stroke="#333" stroke-width="0.6"/>
<text x="256.00" y="89.40" font-size="8.2" text-anchor="end" fill="#333" textLength="7.75" lengthAdjust="spacingAndGlyphs">35</text>
<line x1="256.70" y1="74.30" x2="258.90" y2="74.30" stroke="#333" stroke-width="0.6"/>
<text x="256.00" y="77.20" font-size="8.2" text-anchor="end" fill="#333" textLength="7.75" lengthAdjust="spacingAndGlyphs">40</text>
<line x1="256.70" y1="62.10" x2="258.90" y2="62.10" stroke="#333" stroke-width="0.6"/>
<text x="256.00" y="65.00" font-size="8.2" text-anchor="end" fill="#333" textLength="7.75" lengthAdjust="spacingAndGlyphs">45</text>
<line x1="256.70" y1="49.90" x2="258.90" y2="49.90" stroke="#333" stroke-width="0.6"/>
<text x="256.00" y="52.80" font-size="8.2" text-anchor="end" fill="#333" textLength="7.75" lengthAdjust="spacingAndGlyphs">50</text>
<line x1="256.70" y1="37.70" x2="258.90" y2="37.70" stroke="#333" stroke-width="0.6"/>
<text x="256.00" y="40.60" font-size="8.2" text-anchor="end" fill="#333" textLength="7.75" lengthAdjust="spacingAndGlyphs">55</text>
<line x1="272.30" y1="133.00" x2="272.30" y2="135.20" stroke="#333" stroke-width="0.6"/>
<text x="272.30" y="141.60" font-size="8.0" text-anchor="middle" fill="#333" textLength="7.74" lengthAdjust="spacingAndGlyphs">30</text>
<line x1="294.30" y1="133.00" x2="294.30" y2="135.20" stroke="#333" stroke-width="0.6"/>
<text x="294.30" y="141.60" font-size="8.0" text-anchor="middle" fill="#333" textLength="7.74" lengthAdjust="spacingAndGlyphs">40</text>
<line x1="316.30" y1="133.00" x2="316.30" y2="135.20" stroke="#333" stroke-width="0.6"/>
<text x="316.30" y="141.60" font-size="8.0" text-anchor="middle" fill="#333" textLength="7.74" lengthAdjust="spacingAndGlyphs">50</text>
<line x1="338.30" y1="133.00" x2="338.30" y2="135.20" stroke="#333" stroke-width="0.6"/>
<text x="338.30" y="141.60" font-size="8.0" text-anchor="middle" fill="#333" textLength="7.74" lengthAdjust="spacingAndGlyphs">60</text>
<line x1="360.30" y1="133.00" x2="360.30" y2="135.20" stroke="#333" stroke-width="0.6"/>
<text x="360.30" y="141.60" font-size="8.0" text-anchor="middle" fill="#333" textLength="7.74" lengthAdjust="spacingAndGlyphs">70</text>
<line x1="382.30" y1="133.00" x2="382.30" y2="135.20" stroke="#333" stroke-width="0.6"/>
<text x="382.30" y="141.60" font-size="8.0" text-anchor="middle" fill="#333" textLength="7.74" lengthAdjust="spacingAndGlyphs">80</text>
<line x1="404.30" y1="133.00" x2="404.30" y2="135.20" stroke="#333" stroke-width="0.6"/>
<text x="404.30" y="141.60" font-size="8.0" text-anchor="middle" fill="#333" textLength="7.74" lengthAdjust="spacingAndGlyphs">90</text>
<line x1="426.30" y1="133.00" x2="426.30" y2="135.20" stroke="#333" stroke-width="0.6"/>
<text x="426.30" y="141.60" font-size="8.0" text-anchor="middle" fill="#333" textLength="11.61" lengthAdjust="spacingAndGlyphs">100</text>
<text x="342.70" y="149.80" font-size="7.3" text-anchor="middle" fill="#333" textLength="49.5" lengthAdjust="spacingAndGlyphs">X position (μm)</text>
<text x="244.70" y="84.00" font-size="7.3" text-anchor="middle" fill="#333" transform="rotate(-90 244.70 84.00)" textLength="54.3" lengthAdjust="spacingAndGlyphs">Y position (μm)</text>
<rect x="429.70" y="35.00" width="8.60" height="98.20" fill="url(#cbar)" stroke="#222" stroke-width="0.5"/>
<line x1="438.30" y1="133.20" x2="440.20" y2="133.20" stroke="#333" stroke-width="0.6"/>
<text x="440.40" y="136.10" font-size="8.2" text-anchor="start" fill="#333" textLength="3.97" lengthAdjust="spacingAndGlyphs">0</text>
<line x1="438.30" y1="108.50" x2="440.20" y2="108.50" stroke="#333" stroke-width="0.6"/>
<text x="440.40" y="111.40" font-size="8.2" text-anchor="start" fill="#333" textLength="7.93" lengthAdjust="spacingAndGlyphs">10</text>
<line x1="438.30" y1="83.80" x2="440.20" y2="83.80" stroke="#333" stroke-width="0.6"/>
<text x="440.40" y="86.70" font-size="8.2" text-anchor="start" fill="#333" textLength="7.93" lengthAdjust="spacingAndGlyphs">20</text>
<line x1="438.30" y1="59.10" x2="440.20" y2="59.10" stroke="#333" stroke-width="0.6"/>
<text x="440.40" y="62.00" font-size="8.2" text-anchor="start" fill="#333" textLength="7.93" lengthAdjust="spacingAndGlyphs">30</text>
<text x="455.60" y="83.50" font-size="7.3" text-anchor="middle" fill="#333" transform="rotate(-90 455.60 83.50)" textLength="69.7" lengthAdjust="spacingAndGlyphs">Fluorescence (kc/s)</text>
<g clip-path="url(#cpc)">
<polyline points="32.0,320.5 32.2,318.3 32.3,318.5 32.5,321.4 32.7,321.0 32.8,321.4 33.0,319.6 33.2,320.6 33.3,319.3 33.5,323.6 33.7,317.9 33.8,320.6 34.0,319.3 34.2,320.7 34.3,321.1 34.5,319.7 34.7,319.1 34.8,320.8 35.0,320.7 35.1,319.3 35.3,321.9 35.5,322.9 35.6,319.8 35.8,321.5 36.0,323.6 36.1,321.8 36.3,321.2 36.5,322.4 36.6,322.9 36.8,320.3 37.0,318.9 37.1,320.8 37.3,321.6 37.5,319.7 37.6,319.2 37.8,320.9 38.0,319.4 38.1,318.6 38.3,320.7 38.5,321.7 38.6,319.8 38.8,319.9 39.0,318.5 39.1,322.5 39.3,321.4 39.5,321.7 39.6,323.2 39.8,320.1 40.0,319.4 40.1,321.5 40.3,318.0 40.4,318.9 40.6,319.2 40.8,319.6 40.9,318.7 41.1,322.5 41.3,319.2 41.4,319.2 41.6,323.2 41.8,319.7 41.9,320.6 42.1,318.9 42.3,321.0 42.4,320.2 42.6,319.6 42.8,321.7 42.9,319.2 43.1,320.4 43.3,319.4 43.4,321.1 43.6,318.4 43.8,319.2 43.9,320.5 44.1,319.1 44.3,318.0 44.4,317.1 44.6,322.8 44.8,318.7 44.9,319.4 45.1,320.3 45.3,321.8 45.4,318.0 45.6,322.2 45.8,319.2 45.9,317.9 46.1,322.8 46.2,320.6 46.4,322.3 46.6,319.7 46.7,317.5 46.9,316.7 47.1,323.1 47.2,321.0 47.4,318.9 47.6,317.4 47.7,319.3 47.9,321.3 48.1,319.5 48.2,320.1 48.4,320.4 48.6,321.3 48.7,319.4 48.9,319.5 49.1,320.2 49.2,320.4 49.4,322.2 49.6,320.8 49.7,318.0 49.9,320.3 50.1,322.4 50.2,317.7 50.4,319.1 50.6,316.4 50.7,319.8 50.9,320.7 51.1,322.4 51.2,317.7 51.4,315.6 51.5,321.3 51.7,321.0 51.9,318.9 52.0,321.3 52.2,320.4 52.4,320.5 52.5,319.6 52.7,318.0 52.9,319.8 53.0,318.3 53.2,320.6 53.4,319.3 53.5,323.5 53.7,322.3 53.9,318.5 54.0,320.9 54.2,318.9 54.4,318.9 54.5,317.6 54.7,318.5 54.9,318.1 55.0,320.0 55.2,321.0 55.4,321.1 55.5,320.6 55.7,321.7 55.9,320.7 56.0,319.9 56.2,319.4 56.4,320.4 56.5,323.0 56.7,319.9 56.8,319.4 57.0,317.9 57.2,318.8 57.3,320.8 57.5,321.0 57.7,316.3 57.8,318.4 58.0,316.6 58.2,316.1 58.3,321.1 58.5,319.0 58.7,318.9 58.8,318.6 59.0,318.6 59.2,319.1 59.3,319.1 59.5,321.9 59.7,319.6 59.8,320.5 60.0,318.9 60.2,319.9 60.3,317.9 60.5,317.5 60.7,318.4 60.8,318.3 61.0,318.6 61.2,319.5 61.3,318.9 61.5,319.5 61.7,317.8 61.8,318.4 62.0,317.4 62.2,320.7 62.3,316.7 62.5,319.6 62.6,319.5 62.8,318.4 63.0,319.0 63.1,317.4 63.3,318.9 63.5,319.8 63.6,319.3 63.8,315.3 64.0,317.6 64.1,319.7 64.3,317.5 64.5,320.3 64.6,314.1 64.8,320.2 65.0,316.4 65.1,316.2 65.3,319.8 65.5,316.4 65.6,314.9 65.8,315.8 66.0,316.1 66.1,314.6 66.3,316.0 66.5,315.5 66.6,316.3 66.8,314.7 67.0,317.6 67.1,314.1 67.3,316.5 67.5,317.5 67.6,314.5 67.8,311.8 67.9,313.1 68.1,315.9 68.3,313.4 68.4,315.5 68.6,314.7 68.8,314.2 68.9,318.9 69.1,313.7 69.3,316.1 69.4,315.3 69.6,316.8 69.8,316.7 69.9,315.4 70.1,311.6 70.3,309.7 70.4,313.1 70.6,310.6 70.8,313.3 70.9,316.6 71.1,312.0 71.3,311.2 71.4,312.9 71.6,311.2 71.8,310.4 71.9,313.4 72.1,314.5 72.3,311.6 72.4,311.4 72.6,311.5 72.8,308.4 72.9,306.5 73.1,311.2 73.3,308.4 73.4,307.7 73.6,308.0 73.7,307.1 73.9,310.2 74.1,307.4 74.2,304.2 74.4,306.9 74.6,310.1 74.7,307.0 74.9,305.3 75.1,307.2 75.2,309.2 75.4,303.9 75.6,310.5 75.7,306.0 75.9,307.1 76.1,309.8 76.2,303.6 76.4,305.6 76.6,309.2 76.7,304.5 76.9,306.9 77.1,310.5 77.2,307.2 77.4,304.5 77.6,303.3 77.7,304.3 77.9,304.5 78.1,303.1 78.2,304.7 78.4,300.8 78.6,303.1 78.7,302.4 78.9,301.3 79.0,305.4 79.2,304.1 79.4,297.5 79.5,300.4 79.7,301.8 79.9,299.7 80.0,301.7 80.2,299.1 80.4,301.5 80.5,298.4 80.7,303.5 80.9,294.5 81.0,299.7 81.2,302.8 81.4,298.6 81.5,298.9 81.7,297.3 81.9,301.1 82.0,296.3 82.2,286.3 82.4,301.1 82.5,296.1 82.7,298.0 82.9,296.3 83.0,302.3 83.2,300.2 83.4,295.1 83.5,296.5 83.7,291.2 83.9,298.4 84.0,295.5 84.2,286.8 84.4,298.2 84.5,298.5 84.7,295.7 84.8,295.6 85.0,292.7 85.2,294.8 85.3,297.5 85.5,294.3 85.7,286.5 85.8,290.7 86.0,303.6 86.2,295.0 86.3,297.3 86.5,292.4 86.7,294.8 86.8,287.9 87.0,291.0 87.2,291.1 87.3,293.2 87.5,293.9 87.7,292.5 87.8,289.3 88.0,291.7 88.2,294.5 88.3,288.8 88.5,291.7 88.7,292.0 88.8,293.8 89.0,292.4 89.2,292.0 89.3,299.0 89.5,284.9 89.7,285.8 89.8,288.0 90.0,282.7 90.1,284.3 90.3,283.8 90.5,294.0 90.6,285.1 90.8,282.1 91.0,278.0 91.1,277.1 91.3,278.7 91.5,288.6 91.6,292.6 91.8,282.0 92.0,284.1 92.1,280.5 92.3,284.7 92.5,283.4 92.6,290.0 92.8,282.5 93.0,285.9 93.1,282.9 93.3,282.5 93.5,284.7 93.6,283.0 93.8,284.3 94.0,281.4 94.1,282.4 94.3,286.4 94.5,286.5 94.6,277.6 94.8,284.7 95.0,280.5 95.1,282.8 95.3,286.5 95.4,287.2 95.6,283.9 95.8,283.3 95.9,282.0 96.1,289.2 96.3,286.6 96.4,284.7 96.6,278.2 96.8,293.4 96.9,282.7 97.1,286.4 97.3,282.7 97.4,286.2 97.6,283.0 97.8,278.4 97.9,283.0 98.1,282.7 98.3,283.0 98.4,287.3 98.6,282.3 98.8,285.2 98.9,287.5 99.1,284.6 99.3,285.3 99.4,281.5 99.6,284.6 99.8,286.5 99.9,278.9 100.1,280.7 100.3,279.6 100.4,282.1 100.6,284.9 100.8,286.1 100.9,285.5 101.1,280.9 101.2,284.1 101.4,290.1 101.6,284.6 101.7,289.9 101.9,283.9 102.1,289.1 102.2,289.3 102.4,284.1 102.6,284.8 102.7,290.9 102.9,281.7 103.1,276.3 103.2,290.2 103.4,277.6 103.6,287.2 103.7,286.4 103.9,285.2 104.1,290.1 104.2,279.6 104.4,282.7 104.6,287.4 104.7,285.6 104.9,290.4 105.1,285.9 105.2,281.0 105.4,291.1 105.6,286.3 105.7,284.1 105.9,280.6 106.1,279.5 106.2,286.4 106.4,287.5 106.5,282.9 106.7,286.0 106.9,285.8 107.0,280.5 107.2,278.2 107.4,283.6 107.5,285.4 107.7,282.5 107.9,291.9 108.0,284.7 108.2,288.7 108.4,275.6 108.5,282.0 108.7,284.2 108.9,285.4 109.0,294.3 109.2,282.0 109.4,278.5 109.5,287.5 109.7,282.1 109.9,282.0 110.0,290.6 110.2,281.2 110.4,279.6 110.5,283.9 110.7,285.0 110.9,281.8 111.0,290.6 111.2,284.4 111.4,280.8 111.5,289.5 111.7,281.0 111.9,286.4 112.0,292.7 112.2,285.2 112.3,288.5 112.5,283.6 112.7,289.3 112.8,280.8 113.0,287.6 113.2,283.5 113.3,287.1 113.5,286.1 113.7,280.3 113.8,284.0 114.0,286.4 114.2,289.6 114.3,280.5 114.5,282.1 114.7,286.1 114.8,284.0 115.0,288.8 115.2,288.7 115.3,288.0 115.5,283.6 115.7,283.8 115.8,287.7 116.0,282.1 116.2,281.9 116.3,284.3 116.5,281.0 116.7,286.0 116.8,285.4 117.0,283.2 117.2,285.1 117.3,281.9 117.5,289.7 117.6,279.6 117.8,287.9 118.0,285.6 118.1,290.2 118.3,282.7 118.5,280.2 118.6,280.9 118.8,282.3 119.0,291.9 119.1,289.8 119.3,289.3 119.5,291.8 119.6,285.2 119.8,289.3 120.0,290.8 120.1,289.8 120.3,295.4 120.5,296.0 120.6,296.6 120.8,292.5 121.0,293.1 121.1,292.5 121.3,291.0 121.5,298.9 121.6,296.5 121.8,294.3 122.0,299.2 122.1,296.7 122.3,291.8 122.5,291.7 122.6,291.9 122.8,295.2 123.0,296.2 123.1,292.2 123.3,296.9 123.4,294.7 123.6,291.8 123.8,297.2 123.9,298.0 124.1,296.2 124.3,294.5 124.4,294.9 124.6,296.0 124.8,294.9 124.9,301.6 125.1,299.4 125.3,296.3 125.4,299.8 125.6,301.1 125.8,300.8 125.9,300.0 126.1,297.8 126.3,300.4 126.4,296.7 126.6,292.3 126.8,298.0 126.9,293.8 127.1,296.8 127.3,301.2 127.4,298.6 127.6,300.9 127.8,295.7 127.9,301.5 128.1,294.2 128.3,296.5 128.4,304.4 128.6,296.1 128.7,293.8 128.9,300.9 129.1,295.7 129.2,304.0 129.4,298.0 129.6,303.8 129.7,297.5 129.9,304.3 130.1,306.8 130.2,298.0 130.4,292.5 130.6,301.0 130.7,296.9 130.9,299.0 131.1,300.4 131.2,297.7 131.4,294.8 131.6,303.2 131.7,298.0 131.9,298.7 132.1,303.9 132.2,295.2 132.4,294.3 132.6,302.7 132.7,295.0 132.9,299.9 133.1,300.6 133.2,295.9 133.4,299.6 133.6,299.4 133.7,296.0 133.9,296.7 134.1,297.9 134.2,304.5 134.4,305.1 134.5,297.5 134.7,303.4 134.9,300.4 135.0,303.9 135.2,301.4 135.4,304.6 135.5,296.4 135.7,303.9 135.9,301.5 136.0,301.7 136.2,297.9 136.4,305.3 136.5,301.5 136.7,302.0 136.9,300.0 137.0,300.2 137.2,302.9 137.4,301.0 137.5,302.8 137.7,300.5 137.9,302.1 138.0,303.7 138.2,302.0 138.4,301.0 138.5,295.8 138.7,303.5 138.9,301.3 139.0,298.2 139.2,308.0 139.4,307.1 139.5,305.7 139.7,302.8 139.8,295.9 140.0,301.5 140.2,299.4 140.3,303.3 140.5,309.5 140.7,309.1 140.8,300.1 141.0,302.4 141.2,306.5 141.3,300.0 141.5,307.3 141.7,300.1 141.8,299.3 142.0,305.3 142.2,306.3 142.3,301.1 142.5,306.4 142.7,301.2 142.8,306.8 143.0,301.5 143.2,303.4 143.3,304.9 143.5,306.2 143.7,303.2 143.8,308.9 144.0,304.7 144.2,305.1 144.3,302.3 144.5,307.5 144.7,299.7 144.8,305.1 145.0,307.3 145.1,300.8 145.3,300.1 145.5,305.0 145.6,306.9 145.8,304.6 146.0,306.5 146.1,305.6 146.3,300.8 146.5,303.9 146.6,304.6 146.8,304.1 147.0,305.2 147.1,302.9 147.3,302.9 147.5,306.2 147.6,305.0 147.8,299.1 148.0,304.3 148.1,305.9 148.3,300.3 148.5,305.5 148.6,308.4 148.8,304.0 149.0,308.0 149.1,307.1 149.3,305.0 149.5,306.2 149.6,307.9 149.8,307.4 150.0,307.6 150.1,303.2 150.3,308.0 150.5,307.7 150.6,301.2 150.8,307.8 150.9,302.7 151.1,303.2 151.3,306.9 151.4,310.2 151.6,305.6 151.8,305.1 151.9,304.4 152.1,306.7 152.3,303.9 152.4,303.5 152.6,309.6 152.8,303.6 152.9,306.7 153.1,308.6 153.3,308.0 153.4,302.7 153.6,305.0 153.8,311.8 153.9,307.3 154.1,307.9 154.3,308.0 154.4,308.9 154.6,311.3 154.8,305.7 154.9,310.1 155.1,308.8 155.3,309.4 155.4,309.8 155.6,306.3 155.8,307.2 155.9,309.8 156.1,310.5 156.2,309.4 156.4,306.1 156.6,308.1 156.7,307.9 156.9,309.3 157.1,309.2 157.2,308.2 157.4,313.1 157.6,305.0 157.7,310.7 157.9,310.2 158.1,305.8 158.2,308.5 158.4,309.0 158.6,310.5 158.7,312.8 158.9,308.8 159.1,306.5 159.2,311.5 159.4,306.3 159.6,312.1 159.7,311.2 159.9,308.4 160.1,309.7 160.2,308.1 160.4,311.5 160.6,312.2 160.7,314.2 160.9,312.7 161.1,312.4 161.2,313.3 161.4,309.4 161.6,311.6 161.7,314.7 161.9,304.6 162.0,312.2 162.2,313.2 162.4,307.6 162.5,307.8 162.7,313.1 162.9,313.8 163.0,312.8 163.2,308.1 163.4,311.3 163.5,312.5 163.7,310.8 163.9,308.1 164.0,313.9 164.2,311.7 164.4,314.0 164.5,306.1 164.7,307.0 164.9,309.0 165.0,311.4 165.2,309.7 165.4,315.9 165.5,310.7 165.7,314.3 165.9,314.3 166.0,313.0 166.2,312.2 166.4,310.2 166.5,310.0 166.7,311.0 166.9,313.7 167.0,310.2 167.2,312.0 167.3,309.2 167.5,313.8 167.7,317.9 167.8,313.0 168.0,307.3 168.2,311.0 168.3,312.5 168.5,310.2 168.7,311.1 168.8,311.2 169.0,313.4 169.2,312.2 169.3,311.9 169.5,313.8 169.7,314.9 169.8,312.2 170.0,310.5 170.2,311.2 170.3,311.6 170.5,311.6 170.7,307.3 170.8,312.3 171.0,310.7 171.2,308.8 171.3,312.8 171.5,312.4 171.7,310.9 171.8,309.6 172.0,312.5 172.2,312.4 172.3,313.0 172.5,315.8 172.7,311.0 172.8,313.9 173.0,317.0 173.1,313.8 173.3,317.1 173.5,315.7 173.6,313.6 173.8,315.6 174.0,311.5 174.1,316.8 174.3,313.3 174.5,312.7 174.6,310.9 174.8,312.1 175.0,313.5 175.1,313.9 175.3,314.2 175.5,311.8 175.6,315.5 175.8,313.2 176.0,314.5 176.1,313.8 176.3,314.9 176.5,310.1 176.6,315.8 176.8,314.0 177.0,314.0 177.1,313.4 177.3,313.8 177.5,313.9 177.6,312.8 177.8,317.8 178.0,314.8 178.1,317.4 178.3,314.5 178.4,317.3 178.6,316.9 178.8,315.2 178.9,312.4 179.1,314.0 179.3,314.6 179.4,312.5 179.6,317.2 179.8,319.5 179.9,316.3 180.1,316.0 180.3,313.1 180.4,311.4 180.6,318.2 180.8,310.8 180.9,312.7 181.1,314.1 181.3,315.1 181.4,311.2 181.6,315.7 181.8,316.9 181.9,315.7 182.1,318.7 182.3,315.2 182.4,316.4 182.6,315.6 182.8,315.5 182.9,318.3 183.1,313.8 183.3,318.3 183.4,314.7 183.6,319.5 183.7,315.8 183.9,318.1 184.1,316.5 184.2,317.9 184.4,320.8 184.6,318.9 184.7,316.7 184.9,315.7 185.1,319.7 185.2,320.9 185.4,318.6 185.6,317.4 185.7,318.3 185.9,318.6 186.1,315.6 186.2,315.5 186.4,315.9 186.6,319.1 186.7,317.2 186.9,317.8 187.1,320.1 187.2,315.9 187.4,317.4 187.6,318.5 187.7,315.1 187.9,316.3 188.1,316.2 188.2,315.6 188.4,316.6 188.6,320.2 188.7,318.7 188.9,316.2 189.1,319.4 189.2,318.0 189.4,317.4 189.5,315.6 189.7,315.9 189.9,316.7 190.0,318.7 190.2,316.8 190.4,317.5 190.5,318.8 190.7,316.1 190.9,317.7 191.0,320.0 191.2,316.5 191.4,319.2 191.5,317.7 191.7,321.5 191.9,318.9 192.0,320.6 192.2,320.7 192.4,322.4 192.5,315.3 192.7,319.4 192.9,318.8 193.0,317.3 193.2,319.5 193.4,318.4 193.5,321.7 193.7,319.1 193.9,320.2 194.0,318.7 194.2,319.3 194.4,322.0 194.5,322.8 194.7,321.4 194.8,318.5 195.0,319.1 195.2,319.2 195.3,323.3 195.5,324.5 195.7,321.0 195.8,320.6 196.0,321.1 196.2,319.5 196.3,320.5 196.5,322.2 196.7,321.8 196.8,320.1 197.0,320.3 197.2,320.6 197.3,316.7 197.5,321.0" fill="none" stroke="#f39a3c" stroke-width="0.7" stroke-linejoin="bevel"/>
<polyline points="32.0,322.0 32.2,323.8 32.3,322.8 32.5,321.3 32.7,321.2 32.8,322.4 33.0,321.5 33.2,322.1 33.3,325.3 33.5,327.6 33.7,318.3 33.8,320.8 34.0,322.2 34.2,325.0 34.3,324.2 34.5,319.9 34.7,326.7 34.8,322.6 35.0,320.7 35.1,321.9 35.3,320.8 35.5,322.3 35.6,318.1 35.8,323.8 36.0,324.3 36.1,321.6 36.3,319.7 36.5,322.1 36.6,320.3 36.8,322.9 37.0,324.0 37.1,319.7 37.3,319.4 37.5,319.5 37.6,322.7 37.8,323.9 38.0,323.9 38.1,322.4 38.3,321.0 38.5,321.1 38.6,324.4 38.8,321.7 39.0,321.9 39.1,321.8 39.3,322.0 39.5,322.3 39.6,321.0 39.8,321.7 40.0,321.6 40.1,323.1 40.3,321.3 40.4,322.1 40.6,325.4 40.8,321.1 40.9,322.3 41.1,320.4 41.3,322.2 41.4,322.1 41.6,321.5 41.8,321.9 41.9,322.6 42.1,324.8 42.3,318.8 42.4,324.5 42.6,322.4 42.8,320.8 42.9,321.2 43.1,320.9 43.3,320.6 43.4,319.7 43.6,321.3 43.8,317.0 43.9,323.5 44.1,321.4 44.3,322.4 44.4,322.7 44.6,321.3 44.8,319.4 44.9,323.0 45.1,323.0 45.3,320.6 45.4,320.9 45.6,318.5 45.8,320.1 45.9,321.4 46.1,322.3 46.2,321.4 46.4,322.0 46.6,324.0 46.7,321.7 46.9,322.0 47.1,322.1 47.2,322.4 47.4,318.9 47.6,320.6 47.7,320.2 47.9,322.7 48.1,323.4 48.2,322.2 48.4,321.3 48.6,322.2 48.7,322.0 48.9,320.1 49.1,321.2 49.2,323.3 49.4,322.4 49.6,322.7 49.7,321.3 49.9,323.6 50.1,321.9 50.2,320.5 50.4,321.6 50.6,323.1 50.7,322.6 50.9,321.4 51.1,320.8 51.2,320.2 51.4,321.8 51.5,323.8 51.7,319.2 51.9,321.1 52.0,320.9 52.2,321.1 52.4,323.3 52.5,322.1 52.7,321.1 52.9,319.8 53.0,321.4 53.2,326.7 53.4,321.9 53.5,320.9 53.7,319.4 53.9,320.3 54.0,317.4 54.2,319.1 54.4,319.3 54.5,319.9 54.7,323.8 54.9,320.1 55.0,320.5 55.2,322.3 55.4,320.5 55.5,320.8 55.7,322.2 55.9,321.7 56.0,321.9 56.2,321.1 56.4,322.1 56.5,320.5 56.7,324.6 56.8,321.9 57.0,324.2 57.2,322.2 57.3,320.5 57.5,321.4 57.7,321.6 57.8,321.3 58.0,318.8 58.2,323.2 58.3,319.9 58.5,323.9 58.7,322.1 58.8,321.0 59.0,322.6 59.2,320.9 59.3,319.9 59.5,323.1 59.7,321.2 59.8,321.6 60.0,324.2 60.2,321.3 60.3,322.2 60.5,318.6 60.7,322.3 60.8,318.0 61.0,321.6 61.2,317.5 61.3,319.8 61.5,319.9 61.7,319.2 61.8,319.0 62.0,318.2 62.2,317.6 62.3,321.0 62.5,322.4 62.6,324.8 62.8,320.9 63.0,319.0 63.1,319.6 63.3,320.0 63.5,320.7 63.6,321.2 63.8,320.5 64.0,319.3 64.1,322.9 64.3,318.7 64.5,322.3 64.6,320.1 64.8,320.9 65.0,320.4 65.1,321.5 65.3,321.6 65.5,319.9 65.6,321.3 65.8,315.1 66.0,320.0 66.1,320.4 66.3,320.1 66.5,321.0 66.6,323.3 66.8,319.4 67.0,318.3 67.1,321.5 67.3,318.7 67.5,320.8 67.6,318.6 67.8,317.8 67.9,317.5 68.1,317.5 68.3,319.5 68.4,316.6 68.6,318.9 68.8,317.4 68.9,316.6 69.1,318.4 69.3,320.1 69.4,316.6 69.6,319.7 69.8,319.2 69.9,319.5 70.1,315.8 70.3,317.6 70.4,321.4 70.6,315.6 70.8,312.8 70.9,313.1 71.1,317.5 71.3,316.0 71.4,315.0 71.6,314.0 71.8,315.5 71.9,317.6 72.1,313.6 72.3,313.7 72.4,317.5 72.6,315.3 72.8,313.7 72.9,314.1 73.1,312.8 73.3,312.0 73.4,312.3 73.6,313.5 73.7,316.0 73.9,311.5 74.1,309.6 74.2,308.1 74.4,312.3 74.6,312.1 74.7,308.6 74.9,308.3 75.1,310.6 75.2,309.6 75.4,312.8 75.6,309.4 75.7,312.5 75.9,310.7 76.1,310.5 76.2,311.1 76.4,314.9 76.6,311.6 76.7,308.5 76.9,309.3 77.1,309.9 77.2,307.7 77.4,306.8 77.6,306.2 77.7,310.2 77.9,307.9 78.1,308.6 78.2,309.8 78.4,311.1 78.6,307.2 78.7,308.9 78.9,300.6 79.0,306.3 79.2,306.3 79.4,306.5 79.5,300.0 79.7,307.4 79.9,304.9 80.0,306.3 80.2,304.2 80.4,303.7 80.5,300.1 80.7,307.0 80.9,302.7 81.0,297.6 81.2,303.8 81.4,302.7 81.5,304.7 81.7,309.8 81.9,302.2 82.0,298.4 82.2,303.1 82.4,307.2 82.5,300.8 82.7,301.3 82.9,298.4 83.0,298.6 83.2,302.0 83.4,299.9 83.5,306.5 83.7,297.6 83.9,300.3 84.0,297.5 84.2,297.5 84.4,301.5 84.5,301.0 84.7,303.1 84.8,306.7 85.0,300.7 85.2,299.7 85.3,303.4 85.5,297.8 85.7,299.6 85.8,298.3 86.0,302.0 86.2,304.9 86.3,296.8 86.5,297.2 86.7,299.3 86.8,300.1 87.0,299.5 87.2,298.9 87.3,300.0 87.5,304.7 87.7,295.5 87.8,302.7 88.0,298.8 88.2,298.6 88.3,296.5 88.5,302.3 88.7,292.6 88.8,294.1 89.0,293.3 89.2,291.2 89.3,297.9 89.5,305.7 89.7,293.3 89.8,289.5 90.0,289.7 90.1,295.3 90.3,293.4 90.5,291.7 90.6,299.0 90.8,294.9 91.0,294.8 91.1,286.7 91.3,294.8 91.5,286.8 91.6,292.4 91.8,298.5 92.0,284.5 92.1,296.0 92.3,290.3 92.5,286.3 92.6,294.4 92.8,296.9 93.0,288.7 93.1,292.3 93.3,296.9 93.5,296.4 93.6,293.9 93.8,289.0 94.0,293.6 94.1,290.2 94.3,286.6 94.5,288.0 94.6,287.4 94.8,288.1 95.0,298.4 95.1,288.2 95.3,291.4 95.4,293.0 95.6,296.5 95.8,298.3 95.9,296.6 96.1,292.7 96.3,296.8 96.4,295.6 96.6,294.8 96.8,290.2 96.9,293.7 97.1,293.2 97.3,287.8 97.4,293.8 97.6,290.5 97.8,296.5 97.9,291.5 98.1,292.2 98.3,292.0 98.4,294.3 98.6,296.4 98.8,293.8 98.9,294.4 99.1,289.0 99.3,289.4 99.4,297.0 99.6,290.4 99.8,294.4 99.9,291.1 100.1,294.4 100.3,298.0 100.4,289.1 100.6,291.1 100.8,297.1 100.9,299.5 101.1,294.7 101.2,297.0 101.4,294.1 101.6,290.5 101.7,287.5 101.9,294.0 102.1,287.8 102.2,288.6 102.4,294.3 102.6,298.8 102.7,289.7 102.9,290.6 103.1,284.3 103.2,287.7 103.4,290.0 103.6,286.7 103.7,296.6 103.9,292.1 104.1,293.8 104.2,286.6 104.4,290.8 104.6,303.8 104.7,287.9 104.9,296.1 105.1,290.0 105.2,294.6 105.4,292.0 105.6,290.6 105.7,292.1 105.9,296.3 106.1,287.8 106.2,291.4 106.4,292.9 106.5,290.3 106.7,294.8 106.9,286.1 107.0,292.1 107.2,291.6 107.4,291.6 107.5,296.1 107.7,297.1 107.9,292.1 108.0,291.6 108.2,288.1 108.4,291.3 108.5,296.8 108.7,291.0 108.9,289.9 109.0,289.3 109.2,291.7 109.4,297.3 109.5,288.8 109.7,295.5 109.9,290.9 110.0,298.6 110.2,290.2 110.4,295.8 110.5,289.1 110.7,286.6 110.9,288.8 111.0,297.1 111.2,296.4 111.4,296.1 111.5,290.6 111.7,291.8 111.9,292.4 112.0,291.9 112.2,290.9 112.3,290.7 112.5,287.0 112.7,293.2 112.8,292.3 113.0,299.7 113.2,297.8 113.3,295.5 113.5,297.3 113.7,292.3 113.8,289.4 114.0,294.6 114.2,294.8 114.3,294.9 114.5,292.6 114.7,295.1 114.8,291.6 115.0,292.1 115.2,291.9 115.3,290.4 115.5,293.0 115.7,292.6 115.8,286.9 116.0,293.3 116.2,290.3 116.3,293.0 116.5,294.8 116.7,294.8 116.8,296.1 117.0,293.2 117.2,295.4 117.3,294.7 117.5,288.9 117.6,293.7 117.8,289.2 118.0,292.3 118.1,290.2 118.3,295.4 118.5,292.7 118.6,283.9 118.8,290.7 119.0,290.7 119.1,294.0 119.3,292.5 119.5,300.0 119.6,299.5 119.8,295.9 120.0,295.3 120.1,299.9 120.3,299.8 120.5,300.9 120.6,301.0 120.8,304.4 121.0,305.2 121.1,301.2 121.3,306.3 121.5,304.1 121.6,303.3 121.8,304.6 122.0,300.8 122.1,303.0 122.3,302.0 122.5,304.8 122.6,304.1 122.8,300.5 123.0,301.1 123.1,303.6 123.3,301.3 123.4,301.9 123.6,302.1 123.8,298.1 123.9,304.0 124.1,301.7 124.3,301.8 124.4,303.8 124.6,306.6 124.8,301.3 124.9,302.6 125.1,303.2 125.3,303.3 125.4,303.3 125.6,306.0 125.8,302.6 125.9,308.6 126.1,303.6 126.3,307.8 126.4,304.6 126.6,301.6 126.8,304.4 126.9,305.0 127.1,302.2 127.3,304.5 127.4,304.9 127.6,304.9 127.8,299.5 127.9,301.9 128.1,302.5 128.3,307.3 128.4,302.2 128.6,307.6 128.7,302.6 128.9,307.1 129.1,298.5 129.2,308.8 129.4,300.6 129.6,301.9 129.7,309.1 129.9,304.8 130.1,300.1 130.2,301.1 130.4,309.0 130.6,305.8 130.7,307.7 130.9,307.3 131.1,306.3 131.2,299.4 131.4,304.3 131.6,305.3 131.7,305.7 131.9,302.9 132.1,302.9 132.2,307.4 132.4,300.9 132.6,308.0 132.7,305.8 132.9,303.9 133.1,300.5 133.2,306.1 133.4,304.5 133.6,301.7 133.7,303.7 133.9,302.3 134.1,302.6 134.2,304.8 134.4,303.8 134.5,303.1 134.7,305.7 134.9,301.4 135.0,311.1 135.2,308.3 135.4,302.0 135.5,304.8 135.7,307.7 135.9,305.0 136.0,303.2 136.2,307.6 136.4,304.1 136.5,306.6 136.7,306.6 136.9,306.5 137.0,303.4 137.2,309.4 137.4,307.5 137.5,304.8 137.7,309.8 137.9,310.8 138.0,305.2 138.2,306.7 138.4,307.2 138.5,306.5 138.7,309.4 138.9,299.3 139.0,309.6 139.2,308.2 139.4,310.8 139.5,308.2 139.7,303.2 139.8,307.2 140.0,305.8 140.2,308.6 140.3,302.7 140.5,307.0 140.7,310.7 140.8,305.6 141.0,308.6 141.2,306.1 141.3,307.4 141.5,307.1 141.7,307.5 141.8,310.2 142.0,311.7 142.2,305.5 142.3,308.4 142.5,307.4 142.7,309.3 142.8,313.3 143.0,311.5 143.2,304.8 143.3,310.3 143.5,309.3 143.7,312.1 143.8,309.8 144.0,309.5 144.2,309.1 144.3,308.8 144.5,310.3 144.7,310.2 144.8,308.8 145.0,308.1 145.1,309.3 145.3,304.6 145.5,308.5 145.6,308.7 145.8,310.7 146.0,306.6 146.1,311.7 146.3,313.2 146.5,311.7 146.6,307.9 146.8,312.2 147.0,306.3 147.1,309.6 147.3,313.3 147.5,310.2 147.6,305.4 147.8,311.8 148.0,313.0 148.1,308.6 148.3,306.7 148.5,307.5 148.6,310.8 148.8,309.6 149.0,309.3 149.1,307.3 149.3,305.1 149.5,310.5 149.6,307.2 149.8,311.2 150.0,309.0 150.1,312.7 150.3,312.3 150.5,309.6 150.6,312.7 150.8,308.6 150.9,312.0 151.1,310.6 151.3,311.0 151.4,311.7 151.6,310.6 151.8,308.5 151.9,303.8 152.1,313.8 152.3,310.4 152.4,311.6 152.6,313.4 152.8,310.6 152.9,313.4 153.1,311.6 153.3,308.6 153.4,316.1 153.6,311.0 153.8,310.6 153.9,313.8 154.1,310.5 154.3,310.9 154.4,312.6 154.6,309.1 154.8,314.9 154.9,310.5 155.1,312.5 155.3,314.4 155.4,312.5 155.6,312.9 155.8,310.4 155.9,315.6 156.1,312.8 156.2,313.4 156.4,308.9 156.6,315.0 156.7,310.2 156.9,316.5 157.1,311.9 157.2,313.0 157.4,311.9 157.6,314.3 157.7,317.1 157.9,316.3 158.1,310.1 158.2,312.5 158.4,314.9 158.6,311.1 158.7,314.8 158.9,314.8 159.1,315.9 159.2,310.8 159.4,309.1 159.6,315.5 159.7,312.9 159.9,311.4 160.1,309.0 160.2,318.8 160.4,313.4 160.6,312.4 160.7,316.9 160.9,313.0 161.1,313.4 161.2,312.4 161.4,315.2 161.6,313.1 161.7,315.3 161.9,312.8 162.0,313.8 162.2,315.0 162.4,317.2 162.5,310.8 162.7,312.0 162.9,312.5 163.0,315.8 163.2,315.2 163.4,311.0 163.5,313.0 163.7,316.3 163.9,314.5 164.0,314.3 164.2,315.1 164.4,316.7 164.5,312.2 164.7,313.6 164.9,315.2 165.0,318.1 165.2,316.1 165.4,315.0 165.5,313.2 165.7,315.8 165.9,312.8 166.0,314.8 166.2,316.7 166.4,320.9 166.5,317.6 166.7,318.3 166.9,315.6 167.0,314.7 167.2,312.6 167.3,315.5 167.5,317.8 167.7,310.8 167.8,314.9 168.0,316.1 168.2,316.2 168.3,318.4 168.5,314.5 168.7,315.0 168.8,312.6 169.0,313.7 169.2,314.2 169.3,313.4 169.5,316.5 169.7,316.9 169.8,316.2 170.0,318.6 170.2,316.4 170.3,316.8 170.5,314.9 170.7,316.3 170.8,320.0 171.0,316.3 171.2,313.6 171.3,320.0 171.5,317.9 171.7,316.5 171.8,319.1 172.0,317.6 172.2,316.5 172.3,319.2 172.5,316.1 172.7,316.0 172.8,319.2 173.0,316.8 173.1,314.8 173.3,317.2 173.5,316.1 173.6,315.8 173.8,317.5 174.0,315.2 174.1,316.4 174.3,319.0 174.5,316.2 174.6,315.6 174.8,315.8 175.0,318.5 175.1,316.5 175.3,314.8 175.5,317.0 175.6,315.3 175.8,315.1 176.0,317.6 176.1,316.4 176.3,318.2 176.5,315.7 176.6,317.9 176.8,318.8 177.0,317.8 177.1,318.0 177.3,317.2 177.5,317.1 177.6,320.1 177.8,319.2 178.0,317.4 178.1,317.2 178.3,318.0 178.4,313.4 178.6,316.2 178.8,318.4 178.9,317.0 179.1,315.9 179.3,317.7 179.4,321.6 179.6,318.3 179.8,318.4 179.9,314.7 180.1,321.9 180.3,315.8 180.4,318.9 180.6,317.0 180.8,319.2 180.9,318.5 181.1,316.8 181.3,318.7 181.4,317.0 181.6,319.1 181.8,319.7 181.9,319.4 182.1,319.9 182.3,319.3 182.4,316.8 182.6,321.2 182.8,322.1 182.9,319.3 183.1,316.4 183.3,317.5 183.4,317.1 183.6,317.3 183.7,320.7 183.9,319.3 184.1,324.1 184.2,320.6 184.4,318.6 184.6,322.3 184.7,323.2 184.9,322.0 185.1,319.4 185.2,317.8 185.4,315.5 185.6,317.5 185.7,322.5 185.9,323.9 186.1,319.8 186.2,318.3 186.4,322.8 186.6,321.0 186.7,320.9 186.9,320.2 187.1,320.6 187.2,319.4 187.4,318.6 187.6,320.3 187.7,319.2 187.9,317.2 188.1,322.2 188.2,322.3 188.4,319.7 188.6,317.6 188.7,320.4 188.9,318.9 189.1,321.3 189.2,319.3 189.4,321.9 189.5,319.7 189.7,320.2 189.9,320.3 190.0,318.7 190.2,319.3 190.4,322.0 190.5,319.6 190.7,323.9 190.9,319.5 191.0,316.7 191.2,320.4 191.4,320.4 191.5,321.2 191.7,320.0 191.9,322.1 192.0,320.3 192.2,321.9 192.4,322.2 192.5,321.3 192.7,321.7 192.9,324.5 193.0,318.2 193.2,321.5 193.4,324.6 193.5,320.0 193.7,321.9 193.9,321.5 194.0,320.8 194.2,323.4 194.4,326.9 194.5,322.2 194.7,321.7 194.8,320.5 195.0,323.4 195.2,322.7 195.3,321.6 195.5,322.8 195.7,322.8 195.8,322.0 196.0,324.1 196.2,319.9 196.3,324.0 196.5,322.5 196.7,323.1 196.8,323.8 197.0,321.8 197.2,321.1 197.3,320.4 197.5,321.9" fill="none" stroke="#9a2cf6" stroke-width="0.7" stroke-linejoin="bevel"/>
<polyline points="32.0,320.3 32.2,317.9 32.3,322.2 32.5,319.4 32.7,318.5 32.8,318.4 33.0,321.6 33.2,322.2 33.3,316.3 33.5,320.4 33.7,322.5 33.8,321.7 34.0,319.4 34.2,317.2 34.3,319.4 34.5,317.1 34.7,318.9 34.8,318.5 35.0,317.5 35.1,320.0 35.3,318.8 35.5,320.1 35.6,320.5 35.8,318.1 36.0,320.8 36.1,319.1 36.3,320.8 36.5,319.4 36.6,320.3 36.8,317.2 37.0,319.1 37.1,319.1 37.3,316.1 37.5,324.7 37.6,321.4 37.8,324.4 38.0,319.2 38.1,318.4 38.3,318.0 38.5,318.7 38.6,320.9 38.8,315.9 39.0,318.6 39.1,319.7 39.3,321.3 39.5,318.4 39.6,320.1 39.8,320.0 40.0,318.7 40.1,318.7 40.3,320.7 40.4,316.7 40.6,321.0 40.8,321.2 40.9,318.5 41.1,318.8 41.3,318.9 41.4,319.9 41.6,319.0 41.8,320.1 41.9,322.2 42.1,317.6 42.3,321.0 42.4,319.5 42.6,317.6 42.8,319.0 42.9,313.7 43.1,321.7 43.3,320.4 43.4,318.8 43.6,316.3 43.8,319.4 43.9,321.7 44.1,316.7 44.3,320.7 44.4,319.3 44.6,317.2 44.8,320.2 44.9,319.8 45.1,317.9 45.3,319.3 45.4,318.3 45.6,320.7 45.8,319.1 45.9,320.9 46.1,321.8 46.2,315.4 46.4,317.9 46.6,317.0 46.7,320.7 46.9,318.8 47.1,319.2 47.2,321.5 47.4,317.7 47.6,320.1 47.7,319.1 47.9,321.7 48.1,316.8 48.2,317.2 48.4,317.9 48.6,320.4 48.7,319.7 48.9,316.3 49.1,319.2 49.2,318.1 49.4,318.3 49.6,320.8 49.7,315.6 49.9,322.5 50.1,318.1 50.2,318.7 50.4,321.7 50.6,317.9 50.7,317.5 50.9,318.4 51.1,320.1 51.2,317.6 51.4,316.3 51.5,318.0 51.7,315.1 51.9,316.8 52.0,316.9 52.2,315.7 52.4,319.7 52.5,319.4 52.7,317.4 52.9,317.4 53.0,315.4 53.2,316.1 53.4,318.0 53.5,317.9 53.7,318.9 53.9,319.0 54.0,319.2 54.2,316.5 54.4,319.2 54.5,319.0 54.7,318.0 54.9,319.3 55.0,318.7 55.2,322.5 55.4,317.5 55.5,318.8 55.7,317.8 55.9,317.4 56.0,321.8 56.2,313.4 56.4,317.8 56.5,317.7 56.7,321.6 56.8,316.8 57.0,317.2 57.2,318.7 57.3,317.4 57.5,315.4 57.7,318.5 57.8,319.7 58.0,315.2 58.2,317.3 58.3,318.1 58.5,313.2 58.7,317.4 58.8,318.0 59.0,317.0 59.2,318.3 59.3,317.0 59.5,317.1 59.7,318.6 59.8,317.8 60.0,316.6 60.2,316.4 60.3,315.9 60.5,315.4 60.7,316.5 60.8,315.8 61.0,317.6 61.2,317.3 61.3,314.6 61.5,320.8 61.7,315.8 61.8,310.0 62.0,320.4 62.2,313.3 62.3,320.1 62.5,315.6 62.6,312.9 62.8,313.1 63.0,318.1 63.1,318.9 63.3,319.1 63.5,314.5 63.6,316.8 63.8,315.9 64.0,315.3 64.1,314.9 64.3,314.6 64.5,315.4 64.6,319.1 64.8,312.4 65.0,321.5 65.1,312.8 65.3,316.6 65.5,315.6 65.6,316.1 65.8,315.6 66.0,314.7 66.1,315.1 66.3,316.8 66.5,312.3 66.6,315.4 66.8,310.9 67.0,314.1 67.1,315.2 67.3,312.4 67.5,311.2 67.6,315.3 67.8,313.6 67.9,309.5 68.1,315.0 68.3,314.5 68.4,312.0 68.6,315.1 68.8,318.0 68.9,315.9 69.1,310.8 69.3,310.0 69.4,310.0 69.6,310.3 69.8,314.2 69.9,309.3 70.1,307.9 70.3,312.4 70.4,308.1 70.6,311.1 70.8,309.4 70.9,308.7 71.1,313.2 71.3,305.3 71.4,311.1 71.6,308.9 71.8,309.6 71.9,306.8 72.1,306.6 72.3,307.5 72.4,303.4 72.6,306.2 72.8,307.8 72.9,314.5 73.1,307.0 73.3,306.7 73.4,308.1 73.6,307.9 73.7,303.4 73.9,301.8 74.1,299.0 74.2,301.0 74.4,306.1 74.6,303.0 74.7,307.6 74.9,301.0 75.1,301.9 75.2,304.6 75.4,302.8 75.6,303.0 75.7,304.0 75.9,297.6 76.1,291.7 76.2,298.6 76.4,297.6 76.6,300.2 76.7,301.6 76.9,293.2 77.1,301.2 77.2,298.5 77.4,299.9 77.6,297.3 77.7,299.2 77.9,296.8 78.1,302.7 78.2,298.6 78.4,293.3 78.6,301.1 78.7,299.4 78.9,292.0 79.0,294.9 79.2,292.1 79.4,303.4 79.5,294.5 79.7,299.3 79.9,299.3 80.0,292.3 80.2,289.0 80.4,298.6 80.5,296.7 80.7,294.4 80.9,292.2 81.0,296.5 81.2,282.5 81.4,288.8 81.5,292.4 81.7,292.8 81.9,281.6 82.0,281.8 82.2,292.3 82.4,288.9 82.5,285.1 82.7,294.6 82.9,292.1 83.0,284.3 83.2,292.3 83.4,291.1 83.5,294.6 83.7,292.1 83.9,286.2 84.0,292.1 84.2,294.0 84.4,291.1 84.5,281.1 84.7,287.5 84.8,290.4 85.0,287.3 85.2,286.0 85.3,287.1 85.5,295.0 85.7,286.1 85.8,288.0 86.0,283.4 86.2,292.4 86.3,282.1 86.5,288.4 86.7,293.4 86.8,280.2 87.0,287.9 87.2,283.9 87.3,286.0 87.5,280.4 87.7,280.1 87.8,279.8 88.0,281.4 88.2,291.4 88.3,291.3 88.5,282.1 88.7,286.4 88.8,279.1 89.0,279.5 89.2,286.1 89.3,283.5 89.5,283.2 89.7,281.1 89.8,276.9 90.0,271.6 90.1,267.3 90.3,278.3 90.5,275.3 90.6,263.6 90.8,267.0 91.0,270.5 91.1,284.1 91.3,277.0 91.5,270.8 91.6,274.8 91.8,261.1 92.0,271.1 92.1,270.1 92.3,277.4 92.5,277.1 92.6,275.1 92.8,274.8 93.0,272.8 93.1,269.5 93.3,270.2 93.5,266.1 93.6,278.6 93.8,270.3 94.0,270.1 94.1,262.9 94.3,272.5 94.5,269.6 94.6,275.7 94.8,269.0 95.0,269.2 95.1,274.6 95.3,273.6 95.4,271.4 95.6,268.1 95.8,277.3 95.9,266.4 96.1,272.9 96.3,261.0 96.4,263.3 96.6,273.2 96.8,274.4 96.9,257.9 97.1,267.7 97.3,268.0 97.4,273.3 97.6,271.7 97.8,266.6 97.9,267.6 98.1,275.3 98.3,264.2 98.4,269.2 98.6,275.9 98.8,265.5 98.9,271.8 99.1,266.6 99.3,273.7 99.4,268.8 99.6,279.4 99.8,268.7 99.9,278.8 100.1,269.8 100.3,284.3 100.4,271.0 100.6,266.7 100.8,268.0 100.9,264.2 101.1,276.3 101.2,262.1 101.4,261.9 101.6,277.0 101.7,274.8 101.9,273.5 102.1,270.6 102.2,269.4 102.4,283.7 102.6,267.2 102.7,271.7 102.9,275.8 103.1,265.2 103.2,272.2 103.4,264.2 103.6,267.4 103.7,272.0 103.9,263.9 104.1,265.9 104.2,272.9 104.4,278.9 104.6,273.1 104.7,266.8 104.9,271.4 105.1,260.7 105.2,268.8 105.4,269.2 105.6,268.1 105.7,275.0 105.9,270.9 106.1,273.8 106.2,282.9 106.4,279.9 106.5,266.4 106.7,272.8 106.9,271.0 107.0,278.4 107.2,273.6 107.4,266.2 107.5,269.9 107.7,273.3 107.9,262.3 108.0,270.9 108.2,272.4 108.4,264.4 108.5,279.9 108.7,267.7 108.9,276.6 109.0,274.9 109.2,274.3 109.4,270.0 109.5,270.1 109.7,269.1 109.9,269.6 110.0,263.3 110.2,261.7 110.4,267.0 110.5,266.8 110.7,272.8 110.9,276.7 111.0,267.7 111.2,270.7 111.4,266.3 111.5,280.7 111.7,256.7 111.9,277.8 112.0,270.8 112.2,265.7 112.3,278.4 112.5,274.0 112.7,281.8 112.8,278.7 113.0,281.4 113.2,270.6 113.3,269.6 113.5,272.9 113.7,264.5 113.8,263.8 114.0,271.3 114.2,272.4 114.3,272.7 114.5,273.7 114.7,264.4 114.8,270.1 115.0,273.1 115.2,272.6 115.3,268.5 115.5,273.5 115.7,269.7 115.8,271.6 116.0,264.3 116.2,265.3 116.3,279.0 116.5,272.3 116.7,267.8 116.8,273.9 117.0,267.3 117.2,269.8 117.3,268.5 117.5,271.9 117.6,270.0 117.8,268.9 118.0,279.4 118.1,276.5 118.3,277.1 118.5,262.9 118.6,270.2 118.8,270.4 119.0,272.5 119.1,277.2 119.3,279.4 119.5,272.6 119.6,279.7 119.8,271.4 120.0,279.1 120.1,280.7 120.3,283.2 120.5,283.7 120.6,284.3 120.8,278.5 121.0,275.2 121.1,290.5 121.3,284.6 121.5,282.9 121.6,290.0 121.8,289.0 122.0,288.5 122.1,296.9 122.3,284.2 122.5,287.3 122.6,287.7 122.8,287.2 123.0,286.7 123.1,278.4 123.3,287.4 123.4,285.0 123.6,290.7 123.8,287.4 123.9,290.3 124.1,289.8 124.3,293.0 124.4,292.9 124.6,288.0 124.8,287.0 124.9,288.2 125.1,292.8 125.3,289.0 125.4,300.4 125.6,286.8 125.8,290.7 125.9,289.6 126.1,286.2 126.3,292.5 126.4,287.2 126.6,292.8 126.8,289.1 126.9,292.9 127.1,290.2 127.3,285.9 127.4,294.1 127.6,294.0 127.8,293.0 127.9,290.7 128.1,281.5 128.3,294.3 128.4,300.0 128.6,294.8 128.7,298.4 128.9,294.6 129.1,292.5 129.2,296.3 129.4,295.4 129.6,299.9 129.7,292.3 129.9,295.9 130.1,289.1 130.2,289.3 130.4,296.6 130.6,294.8 130.7,293.3 130.9,290.7 131.1,299.8 131.2,293.9 131.4,286.8 131.6,294.1 131.7,293.0 131.9,293.9 132.1,298.4 132.2,290.5 132.4,293.1 132.6,293.6 132.7,291.6 132.9,291.4 133.1,301.3 133.2,292.7 133.4,296.6 133.6,294.0 133.7,297.2 133.9,297.8 134.1,291.3 134.2,294.9 134.4,295.9 134.5,296.0 134.7,294.7 134.9,295.1 135.0,303.6 135.2,298.3 135.4,296.1 135.5,292.7 135.7,290.5 135.9,298.8 136.0,288.6 136.2,295.2 136.4,293.9 136.5,297.6 136.7,297.9 136.9,290.7 137.0,296.7 137.2,296.3 137.4,291.9 137.5,290.0 137.7,301.4 137.9,296.9 138.0,296.3 138.2,290.0 138.4,287.8 138.5,296.6 138.7,295.2 138.9,293.6 139.0,292.6 139.2,297.8 139.4,293.8 139.5,299.2 139.7,306.1 139.8,301.7 140.0,296.3 140.2,294.4 140.3,304.9 140.5,303.4 140.7,297.4 140.8,308.9 141.0,295.5 141.2,293.9 141.3,307.7 141.5,295.0 141.7,298.3 141.8,292.9 142.0,296.8 142.2,298.6 142.3,297.5 142.5,294.8 142.7,297.4 142.8,297.9 143.0,303.0 143.2,296.6 143.3,298.1 143.5,292.2 143.7,298.4 143.8,298.7 144.0,300.6 144.2,296.2 144.3,299.3 144.5,301.0 144.7,293.5 144.8,292.9 145.0,300.4 145.1,302.3 145.3,295.3 145.5,301.8 145.6,289.9 145.8,299.7 146.0,296.1 146.1,303.6 146.3,299.5 146.5,295.9 146.6,298.1 146.8,301.4 147.0,291.7 147.1,297.4 147.3,300.6 147.5,301.9 147.6,300.8 147.8,295.7 148.0,302.6 148.1,300.1 148.3,302.9 148.5,296.3 148.6,300.9 148.8,297.7 149.0,298.7 149.1,302.4 149.3,298.4 149.5,297.7 149.6,304.4 149.8,298.6 150.0,289.6 150.1,301.9 150.3,299.0 150.5,305.3 150.6,299.7 150.8,303.1 150.9,298.9 151.1,301.5 151.3,305.1 151.4,298.1 151.6,302.3 151.8,304.8 151.9,301.5 152.1,304.8 152.3,300.6 152.4,302.1 152.6,303.1 152.8,300.0 152.9,306.1 153.1,299.2 153.3,308.5 153.4,297.4 153.6,301.8 153.8,303.3 153.9,304.8 154.1,300.9 154.3,303.2 154.4,303.3 154.6,299.7 154.8,304.2 154.9,303.7 155.1,301.7 155.3,299.8 155.4,303.6 155.6,302.7 155.8,303.1 155.9,301.1 156.1,298.9 156.2,306.3 156.4,304.0 156.6,303.8 156.7,301.9 156.9,299.3 157.1,303.9 157.2,303.3 157.4,300.6 157.6,307.7 157.7,306.4 157.9,305.5 158.1,304.3 158.2,303.6 158.4,305.9 158.6,299.3 158.7,306.6 158.9,305.2 159.1,301.5 159.2,302.5 159.4,304.8 159.6,303.8 159.7,302.6 159.9,305.0 160.1,303.2 160.2,307.8 160.4,305.0 160.6,310.0 160.7,307.9 160.9,308.7 161.1,301.9 161.2,306.9 161.4,304.7 161.6,308.3 161.7,306.3 161.9,306.6 162.0,308.3 162.2,303.5 162.4,310.7 162.5,304.3 162.7,298.5 162.9,308.5 163.0,306.1 163.2,310.7 163.4,306.4 163.5,311.3 163.7,304.7 163.9,308.0 164.0,311.8 164.2,310.3 164.4,311.2 164.5,307.6 164.7,304.5 164.9,308.1 165.0,310.3 165.2,309.4 165.4,306.9 165.5,314.0 165.7,305.7 165.9,306.3 166.0,314.3 166.2,304.3 166.4,312.1 166.5,308.3 166.7,304.5 166.9,312.3 167.0,312.9 167.2,311.0 167.3,311.0 167.5,308.4 167.7,309.6 167.8,309.5 168.0,309.6 168.2,308.8 168.3,310.7 168.5,307.5 168.7,308.5 168.8,311.3 169.0,303.7 169.2,312.1 169.3,306.8 169.5,310.8 169.7,307.9 169.8,307.5 170.0,306.7 170.2,305.2 170.3,311.3 170.5,301.5 170.7,308.1 170.8,311.4 171.0,312.9 171.2,303.1 171.3,305.0 171.5,309.5 171.7,307.5 171.8,306.1 172.0,309.3 172.2,310.8 172.3,309.8 172.5,307.6 172.7,309.8 172.8,313.1 173.0,308.0 173.1,314.5 173.3,312.0 173.5,306.9 173.6,309.6 173.8,309.6 174.0,310.0 174.1,307.7 174.3,310.5 174.5,315.5 174.6,309.9 174.8,318.4 175.0,315.9 175.1,306.7 175.3,308.1 175.5,312.0 175.6,311.1 175.8,310.7 176.0,308.5 176.1,313.0 176.3,313.4 176.5,312.8 176.6,310.9 176.8,310.7 177.0,312.4 177.1,309.5 177.3,314.1 177.5,311.8 177.6,313.3 177.8,314.2 178.0,308.7 178.1,312.6 178.3,314.3 178.4,311.8 178.6,314.4 178.8,310.6 178.9,310.0 179.1,309.6 179.3,314.8 179.4,312.6 179.6,307.8 179.8,312.9 179.9,309.4 180.1,308.8 180.3,315.9 180.4,309.7 180.6,310.9 180.8,310.6 180.9,308.7 181.1,311.8 181.3,312.7 181.4,311.5 181.6,313.9 181.8,311.9 181.9,317.9 182.1,309.1 182.3,314.5 182.4,312.1 182.6,312.7 182.8,313.2 182.9,313.2 183.1,313.4 183.3,317.5 183.4,315.0 183.6,311.0 183.7,316.2 183.9,316.3 184.1,309.0 184.2,311.2 184.4,310.4 184.6,314.1 184.7,313.6 184.9,312.5 185.1,313.0 185.2,314.6 185.4,317.8 185.6,316.1 185.7,318.0 185.9,311.0 186.1,315.6 186.2,315.1 186.4,314.1 186.6,314.8 186.7,313.7 186.9,316.4 187.1,318.5 187.2,311.2 187.4,316.8 187.6,316.3 187.7,317.1 187.9,316.6 188.1,315.4 188.2,313.8 188.4,317.9 188.6,315.0 188.7,317.1 188.9,313.1 189.1,318.5 189.2,315.6 189.4,314.4 189.5,318.9 189.7,315.8 189.9,315.8 190.0,317.9 190.2,316.7 190.4,314.2 190.5,315.8 190.7,317.3 190.9,316.9 191.0,315.6 191.2,313.9 191.4,315.0 191.5,315.2 191.7,313.5 191.9,320.1 192.0,319.9 192.2,321.7 192.4,315.3 192.5,321.8 192.7,317.2 192.9,315.6 193.0,320.1 193.2,318.7 193.4,317.9 193.5,315.9 193.7,320.6 193.9,316.9 194.0,316.2 194.2,317.4 194.4,317.4 194.5,315.3 194.7,317.4 194.8,318.0 195.0,318.7 195.2,316.7 195.3,318.7 195.5,316.9 195.7,318.0 195.8,316.0 196.0,319.9 196.2,318.3 196.3,317.8 196.5,317.7 196.7,316.4 196.8,317.9 197.0,316.9 197.2,314.9 197.3,317.2 197.5,320.9" fill="none" stroke="#1c861c" stroke-width="0.7" stroke-linejoin="bevel"/>
</g>
<rect x="32.00" y="196.30" width="165.50" height="133.00" fill="none" stroke="#5a5a5a" stroke-width="0.9"/>
<line x1="30.00" y1="320.54" x2="32.00" y2="320.54" stroke="#5a5a5a" stroke-width="0.8"/>
<text x="27.50" y="322.94" font-size="7.6" text-anchor="end" fill="#333" textLength="3.59" lengthAdjust="spacingAndGlyphs">0</text>
<line x1="30.00" y1="304.01" x2="32.00" y2="304.01" stroke="#5a5a5a" stroke-width="0.8"/>
<text x="27.50" y="306.41" font-size="7.6" text-anchor="end" fill="#333" textLength="7.18" lengthAdjust="spacingAndGlyphs">20</text>
<line x1="30.00" y1="287.47" x2="32.00" y2="287.47" stroke="#5a5a5a" stroke-width="0.8"/>
<text x="27.50" y="289.87" font-size="7.6" text-anchor="end" fill="#333" textLength="7.18" lengthAdjust="spacingAndGlyphs">40</text>
<line x1="30.00" y1="270.94" x2="32.00" y2="270.94" stroke="#5a5a5a" stroke-width="0.8"/>
<text x="27.50" y="273.34" font-size="7.6" text-anchor="end" fill="#333" textLength="7.18" lengthAdjust="spacingAndGlyphs">60</text>
<line x1="30.00" y1="254.41" x2="32.00" y2="254.41" stroke="#5a5a5a" stroke-width="0.8"/>
<text x="27.50" y="256.81" font-size="7.6" text-anchor="end" fill="#333" textLength="7.18" lengthAdjust="spacingAndGlyphs">80</text>
<line x1="30.00" y1="237.88" x2="32.00" y2="237.88" stroke="#5a5a5a" stroke-width="0.8"/>
<text x="27.50" y="240.28" font-size="7.6" text-anchor="end" fill="#333" textLength="10.78" lengthAdjust="spacingAndGlyphs">100</text>
<line x1="30.00" y1="221.35" x2="32.00" y2="221.35" stroke="#5a5a5a" stroke-width="0.8"/>
<text x="27.50" y="223.75" font-size="7.6" text-anchor="end" fill="#333" textLength="10.78" lengthAdjust="spacingAndGlyphs">120</text>
<line x1="30.00" y1="204.81" x2="32.00" y2="204.81" stroke="#5a5a5a" stroke-width="0.8"/>
<text x="27.50" y="207.21" font-size="7.6" text-anchor="end" fill="#333" textLength="10.78" lengthAdjust="spacingAndGlyphs">140</text>
<line x1="30.80" y1="312.27" x2="32.00" y2="312.27" stroke="#5a5a5a" stroke-width="0.6"/>
<line x1="30.80" y1="295.74" x2="32.00" y2="295.74" stroke="#5a5a5a" stroke-width="0.6"/>
<line x1="30.80" y1="279.21" x2="32.00" y2="279.21" stroke="#5a5a5a" stroke-width="0.6"/>
<line x1="30.80" y1="262.68" x2="32.00" y2="262.68" stroke="#5a5a5a" stroke-width="0.6"/>
<line x1="30.80" y1="246.14" x2="32.00" y2="246.14" stroke="#5a5a5a" stroke-width="0.6"/>
<line x1="30.80" y1="229.61" x2="32.00" y2="229.61" stroke="#5a5a5a" stroke-width="0.6"/>
<line x1="30.80" y1="213.08" x2="32.00" y2="213.08" stroke="#5a5a5a" stroke-width="0.6"/>
<line x1="32.00" y1="329.30" x2="32.00" y2="331.30" stroke="#5a5a5a" stroke-width="0.8"/>
<text x="32.00" y="339.20" font-size="7.6" text-anchor="middle" fill="#333" textLength="10.78" lengthAdjust="spacingAndGlyphs">550</text>
<line x1="65.10" y1="329.30" x2="65.10" y2="331.30" stroke="#5a5a5a" stroke-width="0.8"/>
<text x="65.10" y="339.20" font-size="7.6" text-anchor="middle" fill="#333" textLength="10.78" lengthAdjust="spacingAndGlyphs">600</text>
<line x1="98.20" y1="329.30" x2="98.20" y2="331.30" stroke="#5a5a5a" stroke-width="0.8"/>
<text x="98.20" y="339.20" font-size="7.6" text-anchor="middle" fill="#333" textLength="10.78" lengthAdjust="spacingAndGlyphs">650</text>
<line x1="131.30" y1="329.30" x2="131.30" y2="331.30" stroke="#5a5a5a" stroke-width="0.8"/>
<text x="131.30" y="339.20" font-size="7.6" text-anchor="middle" fill="#333" textLength="10.78" lengthAdjust="spacingAndGlyphs">700</text>
<line x1="164.40" y1="329.30" x2="164.40" y2="331.30" stroke="#5a5a5a" stroke-width="0.8"/>
<text x="164.40" y="339.20" font-size="7.6" text-anchor="middle" fill="#333" textLength="10.78" lengthAdjust="spacingAndGlyphs">750</text>
<line x1="197.50" y1="329.30" x2="197.50" y2="331.30" stroke="#5a5a5a" stroke-width="0.8"/>
<text x="197.50" y="339.20" font-size="7.6" text-anchor="middle" fill="#333" textLength="10.78" lengthAdjust="spacingAndGlyphs">800</text>
<line x1="48.55" y1="329.30" x2="48.55" y2="330.50" stroke="#5a5a5a" stroke-width="0.6"/>
<line x1="81.65" y1="329.30" x2="81.65" y2="330.50" stroke="#5a5a5a" stroke-width="0.6"/>
<line x1="114.75" y1="329.30" x2="114.75" y2="330.50" stroke="#5a5a5a" stroke-width="0.6"/>
<line x1="147.85" y1="329.30" x2="147.85" y2="330.50" stroke="#5a5a5a" stroke-width="0.6"/>
<line x1="180.95" y1="329.30" x2="180.95" y2="330.50" stroke="#5a5a5a" stroke-width="0.6"/>
<text x="115.25" y="351.00" font-size="7.1" text-anchor="middle" fill="#222">Wavelength (nm)</text>
<text x="8.30" y="258.20" font-size="7.2" text-anchor="middle" fill="#222" transform="rotate(-90 8.30 258.20)" textLength="43.2" lengthAdjust="spacingAndGlyphs">Intensity (a.u.)</text>
<rect x="141.30" y="196.30" width="47.00" height="27.00" fill="#fff" stroke="#aaa" stroke-width="0.5"/>
<line x1="143.30" y1="202.50" x2="156.70" y2="202.50" stroke="#f7d09a" stroke-width="0.9"/>
<text x="159.60" y="204.30" font-size="7.3" text-anchor="start" fill="#222">Center A</text>
<line x1="143.30" y1="210.50" x2="156.70" y2="210.50" stroke="#d0a8f4" stroke-width="0.9"/>
<text x="159.60" y="212.60" font-size="7.3" text-anchor="start" fill="#222">Center B</text>
<line x1="143.30" y1="218.50" x2="156.70" y2="218.50" stroke="#a8d4a8" stroke-width="0.9"/>
<text x="159.60" y="220.90" font-size="7.3" text-anchor="start" fill="#222">Center C</text>
<g clip-path="url(#cpd)">
<polyline points="268.8,325.5 269.0,326.0 269.1,325.0 269.3,324.4 269.5,323.7 269.6,324.7 269.8,325.3 270.0,325.5 270.1,324.0 270.3,323.2 270.5,324.5 270.6,325.9 270.8,325.6 271.0,323.2 271.1,324.5 271.3,326.3 271.5,324.8 271.6,325.8 271.8,325.3 272.0,325.1 272.1,325.3 272.3,324.1 272.5,324.7 272.6,325.2 272.8,324.2 272.9,323.8 273.1,326.2 273.3,324.8 273.4,325.5 273.6,324.7 273.8,325.8 273.9,324.5 274.1,324.6 274.3,324.8 274.4,325.5 274.6,324.9 274.8,325.6 274.9,325.8 275.1,324.3 275.3,325.6 275.4,323.4 275.6,323.8 275.8,326.4 275.9,324.2 276.1,325.5 276.3,324.4 276.4,324.4 276.6,326.4 276.8,324.6 276.9,324.7 277.1,323.5 277.3,325.5 277.4,323.7 277.6,325.4 277.8,324.7 277.9,325.2 278.1,322.9 278.3,323.8 278.4,322.0 278.6,323.7 278.8,323.5 278.9,323.5 279.1,324.9 279.3,324.3 279.4,322.9 279.6,324.6 279.8,324.1 279.9,324.3 280.1,323.6 280.3,324.6 280.4,324.4 280.6,324.0 280.7,324.1 280.9,325.0 281.1,323.3 281.2,325.4 281.4,325.3 281.6,325.4 281.7,323.2 281.9,324.5 282.1,325.1 282.2,325.2 282.4,323.7 282.6,325.1 282.7,325.3 282.9,323.4 283.1,325.2 283.2,324.3 283.4,324.0 283.6,324.4 283.7,324.0 283.9,322.7 284.1,324.5 284.2,325.2 284.4,325.8 284.6,324.1 284.7,324.3 284.9,323.6 285.1,324.4 285.2,324.4 285.4,324.6 285.6,324.4 285.7,323.7 285.9,324.2 286.1,323.7 286.2,321.9 286.4,323.3 286.6,325.3 286.7,322.0 286.9,323.4 287.1,324.7 287.2,322.8 287.4,323.7 287.6,324.3 287.7,324.3 287.9,324.6 288.1,323.6 288.2,322.5 288.4,323.9 288.5,323.1 288.7,321.6 288.9,324.7 289.0,323.2 289.2,323.8 289.4,324.5 289.5,324.5 289.7,323.4 289.9,322.9 290.0,323.9 290.2,323.3 290.4,322.6 290.5,323.0 290.7,322.4 290.9,322.8 291.0,322.7 291.2,321.3 291.4,322.5 291.5,323.0 291.7,322.4 291.9,324.0 292.0,323.3 292.2,322.1 292.4,322.2 292.5,321.2 292.7,322.7 292.9,324.1 293.0,320.5 293.2,321.3 293.4,323.5 293.5,320.8 293.7,322.2 293.9,324.0 294.0,322.5 294.2,322.5 294.4,320.1 294.5,322.6 294.7,321.9 294.9,321.8 295.0,321.8 295.2,322.3 295.4,320.9 295.5,319.8 295.7,320.2 295.9,321.8 296.0,321.9 296.2,320.4 296.4,321.1 296.5,320.9 296.7,321.9 296.8,317.5 297.0,318.4 297.2,320.3 297.3,317.7 297.5,316.9 297.7,321.1 297.8,318.5 298.0,317.9 298.2,316.3 298.3,316.8 298.5,316.6 298.7,315.9 298.8,312.9 299.0,312.0 299.2,315.1 299.3,315.1 299.5,309.5 299.7,314.0 299.8,312.7 300.0,311.1 300.2,309.7 300.3,308.0 300.5,308.0 300.7,308.8 300.8,305.3 301.0,304.2 301.2,299.9 301.3,301.1 301.5,301.4 301.7,298.7 301.8,291.9 302.0,292.7 302.2,292.6 302.3,286.6 302.5,281.9 302.7,275.6 302.8,275.7 303.0,268.0 303.2,263.3 303.3,262.1 303.5,257.2 303.7,249.9 303.8,248.0 303.9,251.0 304.0,250.2 304.2,249.6 304.3,255.6 304.5,259.8 304.6,266.5 304.8,269.4 305.0,274.1 305.1,271.0 305.3,281.8 305.5,280.9 305.6,283.1 305.8,289.1 306.0,287.1 306.1,297.5 306.3,292.5 306.5,291.4 306.6,301.2 306.8,298.4 307.0,292.7 307.1,296.8 307.3,299.6 307.5,297.8 307.6,298.5 307.8,294.8 308.0,295.7 308.1,298.0 308.3,299.2 308.5,297.3 308.6,292.9 308.8,295.9 309.0,294.9 309.1,297.3 309.3,300.8 309.5,298.8 309.6,294.2 309.8,295.8 310.0,299.1 310.1,301.5 310.3,295.8 310.5,297.4 310.6,297.5 310.8,297.5 311.0,295.5 311.1,295.5 311.3,293.3 311.5,293.4 311.6,292.1 311.8,293.9 312.0,297.7 312.1,296.8 312.3,295.0 312.4,297.7 312.6,294.8 312.8,292.7 312.9,299.4 313.1,302.7 313.3,292.6 313.4,296.6 313.6,294.2 313.8,301.2 313.9,290.7 314.1,294.1 314.3,297.0 314.4,297.8 314.6,296.2 314.8,297.1 314.9,297.5 315.1,300.4 315.3,292.2 315.4,296.6 315.6,296.2 315.8,296.2 315.9,304.6 316.1,294.6 316.3,297.5 316.4,297.4 316.6,296.1 316.8,299.7 316.9,293.4 317.1,298.7 317.3,299.4 317.4,299.3 317.6,295.7 317.8,293.6 317.9,298.2 318.1,301.4 318.3,292.4 318.4,299.8 318.6,291.8 318.8,296.2 318.9,298.4 319.1,298.2 319.3,294.2 319.4,292.7 319.6,296.5 319.8,292.4 319.9,288.3 320.1,296.4 320.2,299.7 320.4,299.3 320.6,300.5 320.7,297.8 320.9,298.0 321.1,300.1 321.2,293.5 321.4,304.7 321.6,300.0 321.7,288.0 321.9,291.5 322.1,293.3 322.2,293.5 322.4,288.7 322.6,293.1 322.7,294.7 322.9,299.4 323.1,295.2 323.2,297.5 323.4,297.4 323.6,297.4 323.7,294.9 323.9,295.7 324.1,290.6 324.2,298.2 324.4,293.2 324.6,284.7 324.7,291.1 324.9,285.8 325.1,285.4 325.2,283.9 325.4,285.6 325.6,293.9 325.7,288.6 325.9,288.6 326.1,293.5 326.2,288.6 326.4,291.9 326.6,293.6 326.7,285.2 326.9,286.1 327.1,288.8 327.2,289.8 327.4,287.9 327.6,287.0 327.7,286.9 327.9,285.2 328.0,286.7 328.2,282.8 328.4,282.0 328.5,282.6 328.7,287.1 328.9,286.8 329.0,281.7 329.2,284.6 329.4,284.0 329.5,295.5 329.7,296.6 329.9,282.8 330.0,282.9 330.2,278.3 330.4,281.5 330.5,283.9 330.7,285.0 330.9,291.7 331.0,281.4 331.2,288.2 331.4,283.4 331.5,285.0 331.7,284.8 331.9,282.2 332.0,288.5 332.2,288.2 332.4,290.4 332.5,288.4 332.7,279.7 332.9,288.7 333.0,282.1 333.2,283.8 333.4,284.4 333.5,284.3 333.7,292.2 333.9,286.4 334.0,281.3 334.2,291.0 334.4,288.3 334.5,291.1 334.7,286.9 334.9,292.8 335.0,281.5 335.2,289.9 335.4,294.9 335.5,280.9 335.7,284.4 335.9,286.4 336.0,286.4 336.2,290.2 336.3,289.6 336.5,285.7 336.7,285.0 336.8,284.9 337.0,288.0 337.2,290.9 337.3,289.8 337.5,284.4 337.7,283.1 337.8,290.6 338.0,291.2 338.2,284.1 338.3,286.3 338.5,286.4 338.7,294.8 338.8,291.0 339.0,291.6 339.2,288.7 339.3,296.5 339.5,284.4 339.7,288.4 339.8,287.9 340.0,294.6 340.2,290.0 340.3,284.4 340.5,296.4 340.7,288.8 340.8,287.2 341.0,293.0 341.2,286.9 341.3,291.6 341.5,285.4 341.7,288.3 341.8,289.6 342.0,282.4 342.2,287.2 342.3,285.4 342.5,295.5 342.7,293.4 342.8,287.5 343.0,287.3 343.2,291.2 343.3,287.9 343.5,295.3 343.7,290.3 343.8,295.8 344.0,289.9 344.1,293.3 344.3,293.9 344.5,291.2 344.6,284.3 344.8,295.6 345.0,294.0 345.1,287.5 345.3,293.4 345.5,284.9 345.6,291.0 345.8,291.6 346.0,290.6 346.1,285.3 346.3,289.6 346.5,290.2 346.6,291.3 346.8,298.4 347.0,295.8 347.1,286.7 347.3,289.3 347.5,290.6 347.6,290.2 347.8,294.8 348.0,291.4 348.1,296.3 348.3,291.4 348.5,295.7 348.6,293.8 348.8,291.3 349.0,294.4 349.1,290.7 349.3,291.5 349.5,292.0 349.6,288.5 349.8,299.1 350.0,299.6 350.1,291.4 350.3,290.3 350.5,286.4 350.6,291.1 350.8,291.0 351.0,297.4 351.1,291.4 351.3,291.8 351.5,298.3 351.6,297.8 351.8,295.0 351.9,293.6 352.1,305.5 352.3,294.6 352.4,294.1 352.6,295.6 352.8,294.1 352.9,293.5 353.1,298.9 353.3,293.8 353.4,296.3 353.6,298.9 353.8,294.9 353.9,290.4 354.1,301.0 354.3,301.7 354.4,301.8 354.6,289.0 354.8,297.0 354.9,296.4 355.1,299.1 355.3,299.7 355.4,303.6 355.6,296.0 355.8,295.9 355.9,304.0 356.1,301.2 356.3,300.6 356.4,298.6 356.6,298.2 356.8,295.7 356.9,295.5 357.1,296.9 357.3,296.5 357.4,304.7 357.6,303.2 357.8,298.5 357.9,301.5 358.1,302.8 358.3,309.0 358.4,309.0 358.6,302.1 358.8,303.6 358.9,305.8 359.1,306.3 359.3,309.9 359.4,304.3 359.6,302.6 359.7,301.0 359.9,305.4 360.1,306.1 360.2,308.6 360.4,302.4 360.6,301.2 360.7,307.4 360.9,305.1 361.1,305.7 361.2,307.5 361.4,312.6 361.6,307.1 361.7,304.6 361.9,310.0 362.1,308.5 362.2,314.9 362.4,303.1 362.6,305.2 362.7,306.4 362.9,307.3 363.1,308.3 363.2,306.9 363.4,307.6 363.6,307.5 363.7,307.0 363.9,306.7 364.1,303.1 364.2,310.8 364.4,306.5 364.6,308.8 364.7,310.2 364.9,313.3 365.1,305.9 365.2,310.0 365.4,309.4 365.6,306.4 365.7,310.4 365.9,307.7 366.1,308.0 366.2,305.9 366.4,305.4 366.6,310.1 366.7,305.8 366.9,308.3 367.1,307.9 367.2,308.8 367.4,306.4 367.5,311.3 367.7,307.8 367.9,305.6 368.0,309.2 368.2,303.7 368.4,310.4 368.5,308.2 368.7,309.9 368.9,310.3 369.0,311.5 369.2,310.2 369.4,309.0 369.5,310.9 369.7,306.9 369.9,305.4 370.0,312.7 370.2,307.2 370.4,308.7 370.5,308.6 370.7,303.5 370.9,306.5 371.0,308.6 371.2,309.0 371.4,314.5 371.5,307.6 371.7,311.2 371.9,309.1 372.0,309.3 372.2,307.4 372.4,305.0 372.5,307.4 372.7,306.8 372.9,310.3 373.0,308.8 373.2,308.1 373.4,313.2 373.5,305.3 373.7,311.6 373.9,313.0 374.0,306.4 374.2,305.3 374.4,311.8 374.5,311.6 374.7,303.2 374.9,310.1 375.0,314.8 375.2,311.8 375.4,305.9 375.5,309.0 375.7,308.8 375.8,307.8 376.0,309.1 376.2,311.4 376.3,314.2 376.5,309.7 376.7,313.2 376.8,310.9 377.0,307.0 377.2,309.7 377.3,310.8 377.5,310.8 377.7,309.4 377.8,309.1 378.0,314.0 378.2,310.8 378.3,307.5 378.5,309.6 378.7,313.0 378.8,312.8 379.0,315.8 379.2,313.1 379.3,308.0 379.5,311.7 379.7,313.4 379.8,312.8 380.0,311.9 380.2,311.9 380.3,312.5 380.5,313.4 380.7,310.5 380.8,308.6 381.0,313.1 381.2,313.1 381.3,309.5 381.5,315.1 381.7,313.3 381.8,312.9 382.0,311.8 382.2,312.8 382.3,314.1 382.5,311.6 382.7,314.8 382.8,316.0 383.0,316.6 383.2,310.9 383.3,316.1 383.5,311.6 383.6,311.2 383.8,311.0 384.0,313.0 384.1,313.8 384.3,312.6 384.5,314.0 384.6,315.4 384.8,310.3 385.0,314.7 385.1,309.3 385.3,312.0 385.5,314.0 385.6,312.2 385.8,310.7 386.0,315.9 386.1,315.1 386.3,315.4 386.5,313.0 386.6,312.6 386.8,313.3 387.0,314.9 387.1,314.5 387.3,311.2 387.5,311.4 387.6,313.4 387.8,316.2 388.0,312.5 388.1,313.2 388.3,313.3 388.5,310.5 388.6,312.3 388.8,315.8 389.0,315.8 389.1,311.3 389.3,313.6 389.5,312.4 389.6,314.3 389.8,316.0 390.0,313.6 390.1,311.2 390.3,313.5 390.5,316.4 390.6,314.9 390.8,315.2 391.0,314.0 391.1,312.5 391.3,310.7 391.4,314.0 391.6,315.3 391.8,314.4 391.9,314.5 392.1,315.4 392.3,314.6 392.4,314.7 392.6,316.9 392.8,313.8 392.9,315.5 393.1,316.7 393.3,314.0 393.4,315.8 393.6,311.8 393.8,314.2 393.9,314.9 394.1,316.5 394.3,315.9 394.4,313.7 394.6,316.5 394.8,313.9 394.9,319.1 395.1,315.0 395.3,314.0 395.4,314.9 395.6,315.5 395.8,313.7 395.9,317.1 396.1,317.3 396.3,315.4 396.4,313.5 396.6,314.9 396.8,316.1 396.9,315.2 397.1,315.0 397.3,318.0 397.4,320.8 397.6,317.7 397.8,318.5 397.9,317.0 398.1,318.1 398.3,317.5 398.4,315.3 398.6,315.9 398.8,316.1 398.9,313.3 399.1,317.0 399.2,316.8 399.4,314.1 399.6,318.1 399.7,319.1 399.9,314.1 400.1,315.8 400.2,315.3 400.4,315.3 400.6,314.9 400.7,317.3 400.9,316.6 401.1,318.4 401.2,316.3 401.4,316.2 401.6,317.4 401.7,315.5 401.9,311.7 402.1,318.6 402.2,315.3 402.4,315.2 402.6,315.0 402.7,318.1 402.9,314.9 403.1,315.8 403.2,317.1 403.4,317.5 403.6,316.5 403.7,315.4 403.9,315.6 404.1,313.3 404.2,317.6 404.4,316.1 404.6,317.8 404.7,315.9 404.9,317.0 405.1,318.2 405.2,319.4 405.4,318.5 405.6,316.9 405.7,315.0 405.9,316.1 406.1,319.3 406.2,318.2 406.4,317.4 406.6,317.7 406.7,317.5 406.9,316.4 407.0,317.4 407.2,318.8 407.4,320.8 407.5,318.4 407.7,320.5 407.9,318.2 408.0,317.5 408.2,320.1 408.4,318.3 408.5,318.6 408.7,315.2 408.9,317.5 409.0,321.2 409.2,317.6 409.4,317.7 409.5,318.7 409.7,319.0 409.9,317.5 410.0,317.5 410.2,317.9 410.4,320.1 410.5,319.0 410.7,321.0 410.9,321.0 411.0,319.6 411.2,320.4 411.4,319.4 411.5,315.1 411.7,318.1 411.9,320.2 412.0,322.2 412.2,320.2 412.4,321.2 412.5,322.3 412.7,318.0 412.9,319.9 413.0,318.5 413.2,314.7 413.4,318.9 413.5,319.1 413.7,318.8 413.9,319.7 414.0,320.6 414.2,319.7 414.4,317.8 414.5,319.9 414.7,321.5 414.9,321.3 415.0,321.0 415.2,319.6 415.3,318.9 415.5,319.0 415.7,318.0 415.8,320.0 416.0,318.5 416.2,319.3 416.3,318.8 416.5,322.4 416.7,318.1 416.8,322.0 417.0,321.4 417.2,318.8 417.3,320.4 417.5,317.5 417.7,319.7 417.8,321.4 418.0,319.8 418.2,320.6 418.3,317.9 418.5,317.9 418.7,319.1 418.8,320.7 419.0,320.1 419.2,318.8 419.3,321.3 419.5,321.4 419.7,319.2 419.8,319.3 420.0,320.7 420.2,320.8 420.3,323.1 420.5,318.9 420.7,320.7 420.8,322.4 421.0,322.1 421.2,321.8 421.3,318.4 421.5,319.7 421.7,322.5 421.8,318.3 422.0,319.0 422.2,322.2 422.3,324.3 422.5,319.6 422.7,321.7 422.8,321.1 423.0,321.6 423.1,319.3 423.3,319.1 423.5,320.0 423.6,321.3 423.8,320.8 424.0,320.3 424.1,323.2 424.3,319.6 424.5,321.6 424.6,320.9 424.8,321.1 425.0,320.2 425.1,320.0 425.3,318.6 425.5,321.9 425.6,322.6 425.8,321.3 426.0,322.3 426.1,320.5 426.3,322.6 426.5,321.4 426.6,320.5 426.8,320.4 427.0,321.4 427.1,320.0 427.3,320.2 427.5,323.9 427.6,321.4 427.8,321.6 428.0,322.2 428.1,322.7 428.3,321.9 428.5,321.5 428.6,321.7 428.8,320.4 429.0,320.9 429.1,322.8 429.3,323.0 429.5,321.1 429.6,323.0 429.8,322.0 430.0,321.7 430.1,321.1 430.3,321.7 430.5,320.7 430.6,322.9 430.8,321.6 430.9,323.2 431.1,322.3 431.3,322.4 431.4,323.6 431.6,325.6 431.8,321.5 431.9,322.2 432.1,322.5 432.3,323.5 432.4,323.1 432.6,322.2 432.8,322.8 432.9,321.5 433.1,322.7 433.3,323.8 433.4,322.2 433.6,323.7 433.8,322.7 433.9,325.0 434.1,323.4 434.3,322.5 434.4,323.8 434.6,323.2" fill="none" stroke="#e42a2a" stroke-width="0.65" stroke-linejoin="bevel"/>
<polyline points="268.8,325.2 269.0,325.6 269.1,324.3 269.3,325.9 269.5,325.8 269.6,325.8 269.8,327.2 270.0,326.9 270.1,325.3 270.3,325.9 270.5,324.6 270.6,325.7 270.8,325.8 271.0,324.9 271.1,325.4 271.3,324.4 271.5,326.5 271.6,325.3 271.8,325.1 272.0,325.2 272.1,324.7 272.3,324.8 272.5,325.6 272.6,326.0 272.8,324.9 272.9,325.6 273.1,324.9 273.3,324.5 273.4,325.4 273.6,326.3 273.8,325.8 273.9,325.0 274.1,325.7 274.3,324.6 274.4,325.5 274.6,325.4 274.8,326.0 274.9,325.6 275.1,324.7 275.3,325.8 275.4,325.8 275.6,326.1 275.8,324.9 275.9,326.7 276.1,326.0 276.3,324.8 276.4,324.4 276.6,325.7 276.8,324.8 276.9,327.0 277.1,324.9 277.3,325.3 277.4,326.4 277.6,326.9 277.8,325.9 277.9,325.3 278.1,325.2 278.3,325.4 278.4,324.9 278.6,324.9 278.8,326.5 278.9,325.8 279.1,325.8 279.3,324.7 279.4,325.8 279.6,324.7 279.8,325.4 279.9,323.6 280.1,325.5 280.3,325.4 280.4,325.5 280.6,325.3 280.7,323.5 280.9,325.8 281.1,326.1 281.2,325.6 281.4,324.9 281.6,326.2 281.7,324.8 281.9,324.8 282.1,325.5 282.2,325.6 282.4,326.0 282.6,325.6 282.7,326.0 282.9,324.4 283.1,324.1 283.2,325.6 283.4,325.4 283.6,326.8 283.7,325.7 283.9,325.1 284.1,325.1 284.2,325.2 284.4,324.7 284.6,325.2 284.7,325.6 284.9,324.1 285.1,326.8 285.2,326.2 285.4,325.9 285.6,325.8 285.7,325.9 285.9,325.4 286.1,325.8 286.2,325.3 286.4,324.8 286.6,325.2 286.7,325.1 286.9,326.0 287.1,326.1 287.2,325.5 287.4,324.5 287.6,324.9 287.7,324.4 287.9,324.4 288.1,324.3 288.2,325.8 288.4,324.2 288.5,324.6 288.7,323.6 288.9,324.7 289.0,324.9 289.2,325.2 289.4,325.0 289.5,326.4 289.7,325.3 289.9,325.1 290.0,324.3 290.2,325.6 290.4,325.0 290.5,323.7 290.7,325.5 290.9,324.4 291.0,325.4 291.2,325.1 291.4,324.7 291.5,324.3 291.7,325.4 291.9,325.8 292.0,323.8 292.2,324.7 292.4,324.2 292.5,324.0 292.7,324.1 292.9,324.8 293.0,324.6 293.2,325.6 293.4,324.2 293.5,324.7 293.7,324.2 293.9,322.7 294.0,323.5 294.2,323.9 294.4,325.0 294.5,323.2 294.7,322.5 294.9,324.3 295.0,323.2 295.2,323.9 295.4,323.5 295.5,323.6 295.7,324.5 295.9,323.5 296.0,324.4 296.2,321.8 296.4,322.0 296.5,322.7 296.7,322.4 296.8,322.5 297.0,322.2 297.2,322.1 297.3,322.3 297.5,322.1 297.7,322.9 297.8,322.5 298.0,322.0 298.2,321.1 298.3,321.5 298.5,319.3 298.7,320.9 298.8,320.9 299.0,320.0 299.2,319.2 299.3,318.3 299.5,318.8 299.7,319.9 299.8,319.3 300.0,317.9 300.2,318.3 300.3,317.4 300.5,317.8 300.7,315.9 300.8,315.5 301.0,315.2 301.2,315.4 301.3,316.4 301.5,315.4 301.7,313.0 301.8,311.7 302.0,314.1 302.2,310.5 302.3,307.6 302.5,306.3 302.7,306.1 302.8,303.1 303.0,301.8 303.2,300.1 303.3,296.7 303.5,294.9 303.7,295.2 303.8,294.7 303.9,293.4 304.0,294.9 304.2,292.6 304.3,293.6 304.5,297.6 304.6,299.0 304.8,303.2 305.0,304.5 305.1,305.1 305.3,307.2 305.5,308.7 305.6,311.5 305.8,312.0 306.0,311.4 306.1,312.2 306.3,312.1 306.5,313.1 306.6,313.0 306.8,312.9 307.0,312.6 307.1,313.3 307.3,314.2 307.5,314.1 307.6,312.8 307.8,314.2 308.0,315.2 308.1,315.3 308.3,313.8 308.5,313.5 308.6,312.7 308.8,314.6 309.0,312.6 309.1,314.7 309.3,314.6 309.5,315.0 309.6,313.6 309.8,313.0 310.0,314.3 310.1,314.9 310.3,316.3 310.5,314.2 310.6,314.9 310.8,314.7 311.0,315.3 311.1,315.6 311.3,315.1 311.5,314.1 311.6,313.5 311.8,314.7 312.0,314.3 312.1,315.0 312.3,314.9 312.4,316.5 312.6,313.7 312.8,314.1 312.9,313.1 313.1,315.6 313.3,314.7 313.4,316.0 313.6,314.6 313.8,315.1 313.9,314.1 314.1,315.2 314.3,314.2 314.4,315.6 314.6,314.3 314.8,315.4 314.9,315.6 315.1,315.0 315.3,314.7 315.4,316.8 315.6,317.0 315.8,314.9 315.9,315.2 316.1,317.6 316.3,317.2 316.4,316.1 316.6,314.8 316.8,315.0 316.9,314.0 317.1,313.8 317.3,312.4 317.4,317.0 317.6,315.3 317.8,314.0 317.9,316.8 318.1,317.0 318.3,315.1 318.4,314.0 318.6,313.8 318.8,317.5 318.9,316.8 319.1,315.4 319.3,316.0 319.4,314.9 319.6,315.2 319.8,313.2 319.9,315.4 320.1,315.1 320.2,315.2 320.4,314.0 320.6,316.7 320.7,314.9 320.9,316.3 321.1,317.1 321.2,313.9 321.4,314.7 321.6,313.7 321.7,315.0 321.9,314.6 322.1,315.2 322.2,314.7 322.4,315.8 322.6,313.3 322.7,316.4 322.9,313.3 323.1,315.6 323.2,314.3 323.4,315.2 323.6,314.8 323.7,313.5 323.9,315.2 324.1,316.4 324.2,314.9 324.4,314.4 324.6,318.1 324.7,313.8 324.9,313.6 325.1,317.1 325.2,315.0 325.4,313.8 325.6,316.2 325.7,315.2 325.9,315.0 326.1,313.8 326.2,313.1 326.4,314.5 326.6,314.3 326.7,313.1 326.9,313.5 327.1,314.3 327.2,312.4 327.4,315.9 327.6,313.8 327.7,314.5 327.9,314.5 328.0,313.6 328.2,313.7 328.4,310.5 328.5,312.8 328.7,313.3 328.9,311.7 329.0,312.6 329.2,316.4 329.4,313.9 329.5,313.2 329.7,315.0 329.9,313.9 330.0,314.9 330.2,313.9 330.4,316.5 330.5,317.0 330.7,315.3 330.9,314.4 331.0,313.1 331.2,315.2 331.4,315.9 331.5,313.9 331.7,315.0 331.9,312.9 332.0,315.3 332.2,317.7 332.4,316.3 332.5,316.6 332.7,317.2 332.9,316.5 333.0,316.5 333.2,316.1 333.4,316.5 333.5,315.4 333.7,315.5 333.9,315.9 334.0,315.9 334.2,318.5 334.4,318.3 334.5,317.4 334.7,316.2 334.9,318.3 335.0,317.1 335.2,316.4 335.4,314.5 335.5,316.6 335.7,317.6 335.9,315.8 336.0,316.9 336.2,317.5 336.3,316.0 336.5,318.4 336.7,317.2 336.8,317.4 337.0,316.6 337.2,318.9 337.3,319.2 337.5,318.3 337.7,318.2 337.8,317.9 338.0,318.5 338.2,317.7 338.3,317.5 338.5,318.1 338.7,319.5 338.8,317.2 339.0,320.2 339.2,318.8 339.3,317.7 339.5,319.4 339.7,317.5 339.8,316.9 340.0,317.3 340.2,318.5 340.3,317.9 340.5,319.5 340.7,318.6 340.8,318.6 341.0,319.0 341.2,318.9 341.3,319.3 341.5,321.2 341.7,318.7 341.8,318.8 342.0,317.0 342.2,318.5 342.3,319.2 342.5,318.4 342.7,318.6 342.8,319.3 343.0,319.7 343.2,320.9 343.3,319.3 343.5,317.7 343.7,321.4 343.8,320.4 344.0,318.7 344.1,319.3 344.3,319.1 344.5,321.5 344.6,320.2 344.8,319.1 345.0,319.0 345.1,319.3 345.3,320.6 345.5,319.1 345.6,320.9 345.8,320.7 346.0,320.9 346.1,318.3 346.3,320.2 346.5,319.8 346.6,322.1 346.8,318.7 347.0,319.4 347.1,321.6 347.3,321.6 347.5,318.3 347.6,320.9 347.8,318.1 348.0,320.5 348.1,322.5 348.3,318.9 348.5,319.6 348.6,319.4 348.8,320.6 349.0,320.4 349.1,319.2 349.3,321.0 349.5,322.2 349.6,319.3 349.8,320.9 350.0,319.0 350.1,320.8 350.3,320.8 350.5,320.6 350.6,322.7 350.8,319.2 351.0,321.0 351.1,320.6 351.3,319.0 351.5,320.4 351.6,319.6 351.8,320.2 351.9,319.8 352.1,320.3 352.3,319.5 352.4,320.8 352.6,320.2 352.8,321.4 352.9,319.5 353.1,322.9 353.3,320.6 353.4,320.4 353.6,320.4 353.8,320.8 353.9,319.5 354.1,318.8 354.3,321.4 354.4,322.7 354.6,322.0 354.8,321.7 354.9,321.1 355.1,321.0 355.3,320.0 355.4,321.4 355.6,321.1 355.8,321.0 355.9,321.9 356.1,321.4 356.3,318.4 356.4,321.2 356.6,322.0 356.8,323.2 356.9,320.1 357.1,321.4 357.3,321.7 357.4,318.8 357.6,319.7 357.8,322.8 357.9,321.5 358.1,320.2 358.3,320.3 358.4,322.2 358.6,319.5 358.8,319.4 358.9,322.2 359.1,322.9 359.3,322.5 359.4,320.5 359.6,320.2 359.7,321.0 359.9,321.8 360.1,321.3 360.2,320.7 360.4,322.4 360.6,322.9 360.7,321.3 360.9,320.1 361.1,321.1 361.2,321.1 361.4,321.9 361.6,320.4 361.7,322.9 361.9,321.3 362.1,321.9 362.2,321.4 362.4,322.2 362.6,320.6 362.7,321.4 362.9,321.9 363.1,320.8 363.2,321.4 363.4,321.8 363.6,321.9 363.7,320.6 363.9,322.3 364.1,321.6 364.2,321.6 364.4,321.1 364.6,321.6 364.7,319.3 364.9,323.1 365.1,320.8 365.2,321.4 365.4,320.4 365.6,323.0 365.7,320.3 365.9,322.7 366.1,320.8 366.2,321.0 366.4,321.4 366.6,322.2 366.7,322.2 366.9,321.4 367.1,322.2 367.2,323.3 367.4,323.2 367.5,320.7 367.7,320.7 367.9,321.0 368.0,321.5 368.2,321.1 368.4,321.0 368.5,321.3 368.7,322.3 368.9,322.2 369.0,322.6 369.2,321.4 369.4,322.4 369.5,321.7 369.7,320.3 369.9,321.9 370.0,320.6 370.2,320.0 370.4,323.2 370.5,322.8 370.7,321.0 370.9,322.2 371.0,321.0 371.2,320.8 371.4,322.0 371.5,320.7 371.7,319.8 371.9,320.6 372.0,322.3 372.2,321.6 372.4,322.0 372.5,320.0 372.7,321.7 372.9,322.1 373.0,321.4 373.2,321.0 373.4,321.8 373.5,321.4 373.7,321.5 373.9,320.8 374.0,320.6 374.2,321.2 374.4,321.9 374.5,321.1 374.7,322.3 374.9,320.5 375.0,321.1 375.2,321.2 375.4,323.8 375.5,319.2 375.7,320.1 375.8,320.3 376.0,321.3 376.2,320.8 376.3,318.8 376.5,322.1 376.7,320.7 376.8,320.9 377.0,321.3 377.2,321.1 377.3,322.4 377.5,320.8 377.7,322.7 377.8,319.7 378.0,320.7 378.2,322.2 378.3,323.4 378.5,321.3 378.7,320.9 378.8,322.4 379.0,319.8 379.2,321.2 379.3,321.9 379.5,322.7 379.7,321.5 379.8,321.6 380.0,320.8 380.2,320.4 380.3,321.4 380.5,321.0 380.7,320.1 380.8,320.8 381.0,321.6 381.2,320.8 381.3,321.9 381.5,321.0 381.7,321.4 381.8,322.4 382.0,320.8 382.2,321.3 382.3,320.7 382.5,322.7 382.7,320.4 382.8,320.3 383.0,321.7 383.2,321.5 383.3,321.4 383.5,321.4 383.6,320.6 383.8,322.1 384.0,322.5 384.1,321.6 384.3,319.6 384.5,321.8 384.6,322.4 384.8,322.3 385.0,321.3 385.1,320.3 385.3,322.1 385.5,321.3 385.6,321.2 385.8,321.0 386.0,321.3 386.1,320.4 386.3,320.8 386.5,322.0 386.6,319.2 386.8,322.7 387.0,322.7 387.1,320.5 387.3,321.3 387.5,321.7 387.6,321.3 387.8,320.8 388.0,321.8 388.1,322.0 388.3,322.4 388.5,322.3 388.6,322.2 388.8,320.4 389.0,321.2 389.1,320.9 389.3,322.0 389.5,320.5 389.6,322.9 389.8,321.0 390.0,320.8 390.1,322.0 390.3,322.4 390.5,321.0 390.6,322.1 390.8,322.3 391.0,321.5 391.1,322.5 391.3,321.6 391.4,319.5 391.6,321.9 391.8,320.6 391.9,322.5 392.1,321.4 392.3,321.7 392.4,321.6 392.6,320.7 392.8,319.4 392.9,321.6 393.1,320.2 393.3,321.1 393.4,320.8 393.6,321.9 393.8,322.1 393.9,321.7 394.1,322.2 394.3,321.5 394.4,322.5 394.6,321.5 394.8,321.3 394.9,319.8 395.1,319.8 395.3,321.0 395.4,321.9 395.6,320.9 395.8,320.7 395.9,321.6 396.1,322.3 396.3,323.2 396.4,321.5 396.6,319.6 396.8,321.7 396.9,321.1 397.1,321.1 397.3,321.0 397.4,320.7 397.6,323.4 397.8,321.6 397.9,321.1 398.1,321.5 398.3,320.3 398.4,321.8 398.6,320.6 398.8,319.8 398.9,321.7 399.1,321.4 399.2,321.7 399.4,320.7 399.6,323.5 399.7,322.8 399.9,321.7 400.1,320.6 400.2,320.9 400.4,322.3 400.6,320.1 400.7,321.5 400.9,322.2 401.1,321.2 401.2,320.5 401.4,321.9 401.6,323.2 401.7,322.4 401.9,321.8 402.1,321.1 402.2,322.9 402.4,321.8 402.6,323.2 402.7,322.1 402.9,323.4 403.1,322.7 403.2,323.7 403.4,323.2 403.6,323.8 403.7,324.2 403.9,321.4 404.1,321.5 404.2,322.1 404.4,322.9 404.6,321.3 404.7,322.9 404.9,322.3 405.1,321.8 405.2,322.6 405.4,321.6 405.6,323.0 405.7,323.1 405.9,322.9 406.1,324.0 406.2,324.0 406.4,322.4 406.6,324.6 406.7,322.2 406.9,323.0 407.0,322.3 407.2,322.7 407.4,322.9 407.5,322.0 407.7,323.5 407.9,323.6 408.0,322.6 408.2,324.1 408.4,322.6 408.5,323.0 408.7,324.0 408.9,324.6 409.0,325.3 409.2,322.0 409.4,324.8 409.5,324.6 409.7,322.9 409.9,323.2 410.0,323.4 410.2,323.5 410.4,324.0 410.5,324.4 410.7,324.2 410.9,323.1 411.0,322.7 411.2,322.6 411.4,323.7 411.5,325.5 411.7,323.2 411.9,323.8 412.0,325.9 412.2,322.5 412.4,323.5 412.5,323.7 412.7,323.5 412.9,323.6 413.0,323.5 413.2,323.6 413.4,323.6 413.5,323.2 413.7,323.4 413.9,321.7 414.0,323.6 414.2,324.1 414.4,324.2 414.5,323.3 414.7,323.6 414.9,323.5 415.0,323.8 415.2,323.8 415.3,323.1 415.5,322.5 415.7,323.4 415.8,323.8 416.0,324.7 416.2,324.7 416.3,323.7 416.5,323.9 416.7,323.8 416.8,324.6 417.0,323.8 417.2,325.3 417.3,324.7 417.5,324.4 417.7,323.3 417.8,324.3 418.0,324.5 418.2,323.5 418.3,323.8 418.5,323.0 418.7,323.5 418.8,323.6 419.0,323.9 419.2,323.2 419.3,324.4 419.5,325.1 419.7,323.1 419.8,324.2 420.0,323.8 420.2,323.3 420.3,323.0 420.5,326.2 420.7,324.7 420.8,322.8 421.0,325.2 421.2,323.4 421.3,324.1 421.5,324.6 421.7,324.0 421.8,325.2 422.0,323.5 422.2,322.9 422.3,325.0 422.5,324.4 422.7,322.9 422.8,323.6 423.0,324.1 423.1,322.7 423.3,325.3 423.5,324.1 423.6,323.8 423.8,324.1 424.0,323.2 424.1,325.3 424.3,323.9 424.5,324.5 424.6,322.9 424.8,323.0 425.0,324.5 425.1,324.8 425.3,323.9 425.5,324.6 425.6,324.4 425.8,323.6 426.0,324.3 426.1,322.4 426.3,323.9 426.5,324.4 426.6,324.9 426.8,324.4 427.0,323.0 427.1,323.5 427.3,322.8 427.5,322.9 427.6,323.5 427.8,324.5 428.0,324.1 428.1,323.9 428.3,325.3 428.5,323.7 428.6,324.8 428.8,324.0 429.0,324.4 429.1,323.5 429.3,321.8 429.5,325.0 429.6,324.0 429.8,322.3 430.0,324.7 430.1,324.2 430.3,324.1 430.5,323.7 430.6,325.3 430.8,323.7 430.9,323.5 431.1,321.9 431.3,324.1 431.4,324.5 431.6,323.9 431.8,326.2 431.9,323.7 432.1,322.7 432.3,324.0 432.4,324.0 432.6,324.2 432.8,323.9 432.9,325.0 433.1,322.8 433.3,324.4 433.4,324.4 433.6,322.7 433.8,324.0 433.9,324.4 434.1,322.7 434.3,323.9 434.4,323.3 434.6,324.5" fill="none" stroke="#2424d2" stroke-width="0.65" stroke-linejoin="bevel"/>
<polyline points="268.8,326.2 269.0,324.5 269.1,323.4 269.3,325.0 269.5,324.3 269.6,324.0 269.8,324.4 270.0,324.5 270.1,323.9 270.3,324.4 270.5,325.0 270.6,323.6 270.8,323.8 271.0,324.2 271.1,323.9 271.3,326.8 271.5,324.2 271.6,324.4 271.8,326.2 272.0,322.6 272.1,324.1 272.3,324.8 272.5,324.7 272.6,324.1 272.8,324.3 272.9,325.7 273.1,324.6 273.3,323.9 273.4,323.7 273.6,323.5 273.8,325.2 273.9,324.8 274.1,323.9 274.3,324.7 274.4,324.0 274.6,324.9 274.8,323.6 274.9,324.1 275.1,323.6 275.3,324.0 275.4,324.8 275.6,325.1 275.8,324.0 275.9,324.6 276.1,325.3 276.3,324.5 276.4,323.3 276.6,322.8 276.8,323.2 276.9,322.7 277.1,324.2 277.3,324.0 277.4,324.7 277.6,324.5 277.8,322.4 277.9,323.4 278.1,323.2 278.3,321.4 278.4,322.0 278.6,324.5 278.8,322.8 278.9,324.4 279.1,322.8 279.3,325.4 279.4,324.5 279.6,324.4 279.8,321.8 279.9,325.2 280.1,322.5 280.3,322.6 280.4,323.4 280.6,322.7 280.7,321.1 280.9,323.2 281.1,323.7 281.2,322.2 281.4,322.7 281.6,324.4 281.7,323.2 281.9,323.1 282.1,324.4 282.2,324.2 282.4,323.9 282.6,324.4 282.7,322.8 282.9,322.9 283.1,325.3 283.2,323.6 283.4,323.0 283.6,324.4 283.7,323.4 283.9,322.8 284.1,324.7 284.2,323.4 284.4,325.3 284.6,322.3 284.7,323.7 284.9,324.3 285.1,324.7 285.2,324.5 285.4,321.7 285.6,323.7 285.7,323.4 285.9,323.2 286.1,324.3 286.2,322.1 286.4,325.2 286.6,321.9 286.7,323.5 286.9,322.7 287.1,322.4 287.2,321.9 287.4,323.8 287.6,322.0 287.7,322.6 287.9,322.7 288.1,322.8 288.2,321.4 288.4,322.0 288.5,321.2 288.7,321.5 288.9,324.2 289.0,322.4 289.2,321.3 289.4,323.1 289.5,323.8 289.7,324.4 289.9,320.2 290.0,323.0 290.2,321.9 290.4,323.0 290.5,321.5 290.7,320.3 290.9,323.3 291.0,321.9 291.2,322.5 291.4,323.5 291.5,322.5 291.7,321.6 291.9,320.3 292.0,320.2 292.2,321.4 292.4,322.9 292.5,320.5 292.7,321.1 292.9,321.0 293.0,322.0 293.2,320.9 293.4,318.7 293.5,319.0 293.7,319.1 293.9,319.6 294.0,320.6 294.2,320.0 294.4,319.8 294.5,319.4 294.7,320.0 294.9,320.4 295.0,318.2 295.2,319.6 295.4,318.1 295.5,319.0 295.7,317.9 295.9,317.9 296.0,317.5 296.2,317.3 296.4,318.8 296.5,319.1 296.7,317.4 296.8,315.3 297.0,317.7 297.2,317.5 297.3,313.7 297.5,317.4 297.7,316.0 297.8,315.4 298.0,315.3 298.2,314.8 298.3,312.4 298.5,312.9 298.7,312.4 298.8,313.9 299.0,310.5 299.2,310.5 299.3,309.8 299.5,308.2 299.7,307.9 299.8,307.4 300.0,305.8 300.2,306.0 300.3,305.0 300.5,304.1 300.7,299.8 300.8,299.8 301.0,296.7 301.2,293.2 301.3,289.7 301.5,289.5 301.7,285.6 301.8,282.0 302.0,279.8 302.2,274.2 302.3,264.6 302.5,262.9 302.7,254.3 302.8,249.1 303.0,240.8 303.2,234.4 303.3,229.3 303.5,225.6 303.7,216.9 303.8,215.1 303.9,215.3 304.0,213.9 304.2,218.9 304.3,222.9 304.5,230.7 304.6,241.6 304.8,249.6 305.0,255.8 305.1,266.3 305.3,267.4 305.5,272.5 305.6,278.3 305.8,281.3 306.0,288.1 306.1,287.2 306.3,288.4 306.5,290.7 306.6,291.5 306.8,294.6 307.0,291.9 307.1,295.7 307.3,295.9 307.5,296.0 307.6,300.1 307.8,301.3 308.0,298.0 308.1,302.3 308.3,301.3 308.5,298.4 308.6,302.7 308.8,302.7 309.0,303.3 309.1,303.0 309.3,297.1 309.5,299.9 309.6,299.0 309.8,305.1 310.0,306.1 310.1,303.7 310.3,299.3 310.5,299.2 310.6,306.0 310.8,305.7 311.0,300.9 311.1,301.9 311.3,301.6 311.5,301.3 311.6,304.9 311.8,302.7 312.0,303.7 312.1,300.7 312.3,304.0 312.4,307.4 312.6,300.9 312.8,299.9 312.9,301.7 313.1,304.5 313.3,305.9 313.4,302.0 313.6,305.2 313.8,303.1 313.9,302.7 314.1,304.7 314.3,308.6 314.4,303.5 314.6,306.7 314.8,307.9 314.9,304.9 315.1,304.5 315.3,305.1 315.4,303.7 315.6,308.9 315.8,303.9 315.9,301.9 316.1,305.4 316.3,306.3 316.4,305.7 316.6,302.9 316.8,305.8 316.9,307.1 317.1,309.0 317.3,302.8 317.4,302.8 317.6,305.7 317.8,301.6 317.9,306.6 318.1,304.4 318.3,308.5 318.4,308.0 318.6,306.0 318.8,305.1 318.9,304.9 319.1,307.9 319.3,307.3 319.4,306.5 319.6,306.9 319.8,306.9 319.9,304.8 320.1,304.2 320.2,310.1 320.4,304.0 320.6,306.2 320.7,306.0 320.9,306.0 321.1,304.9 321.2,305.4 321.4,309.8 321.6,305.2 321.7,309.1 321.9,306.2 322.1,306.6 322.2,310.0 322.4,307.0 322.6,307.6 322.7,308.4 322.9,303.3 323.1,306.9 323.2,308.0 323.4,304.0 323.6,307.4 323.7,307.6 323.9,311.3 324.1,306.2 324.2,305.4 324.4,303.7 324.6,309.3 324.7,305.3 324.9,304.6 325.1,305.8 325.2,307.2 325.4,310.4 325.6,306.8 325.7,308.2 325.9,310.5 326.1,305.9 326.2,307.3 326.4,307.5 326.6,303.2 326.7,308.0 326.9,311.0 327.1,311.3 327.2,305.9 327.4,307.3 327.6,308.3 327.7,311.0 327.9,308.4 328.0,309.0 328.2,307.0 328.4,308.4 328.5,308.5 328.7,307.0 328.9,308.5 329.0,306.5 329.2,313.8 329.4,309.7 329.5,305.1 329.7,307.1 329.9,309.7 330.0,308.1 330.2,309.0 330.4,308.7 330.5,305.4 330.7,309.0 330.9,307.9 331.0,310.0 331.2,309.9 331.4,311.5 331.5,310.0 331.7,309.6 331.9,309.5 332.0,309.0 332.2,309.0 332.4,308.1 332.5,309.8 332.7,307.2 332.9,308.7 333.0,307.4 333.2,310.1 333.4,308.1 333.5,310.2 333.7,313.4 333.9,310.7 334.0,311.1 334.2,313.5 334.4,312.8 334.5,312.3 334.7,307.6 334.9,311.1 335.0,308.8 335.2,310.4 335.4,310.3 335.5,310.9 335.7,314.8 335.9,310.5 336.0,314.3 336.2,312.2 336.3,313.2 336.5,310.6 336.7,311.5 336.8,310.6 337.0,312.9 337.2,313.8 337.3,312.8 337.5,310.5 337.7,313.5 337.8,314.4 338.0,316.4 338.2,315.8 338.3,315.0 338.5,314.1 338.7,314.3 338.8,315.5 339.0,315.3 339.2,313.5 339.3,313.2 339.5,314.3 339.7,314.0 339.8,314.5 340.0,313.8 340.2,318.1 340.3,317.1 340.5,316.1 340.7,316.0 340.8,314.7 341.0,319.1 341.2,316.4 341.3,316.3 341.5,317.7 341.7,317.0 341.8,315.5 342.0,316.3 342.2,317.1 342.3,316.7 342.5,317.2 342.7,315.8 342.8,317.3 343.0,315.9 343.2,318.0 343.3,317.3 343.5,318.8 343.7,317.7 343.8,316.3 344.0,318.8 344.1,318.0 344.3,317.4 344.5,318.1 344.6,316.6 344.8,319.3 345.0,316.7 345.1,316.1 345.3,315.8 345.5,318.0 345.6,319.0 345.8,320.0 346.0,317.2 346.1,317.1 346.3,317.8 346.5,317.8 346.6,317.4 346.8,318.8 347.0,320.2 347.1,320.2 347.3,319.5 347.5,319.7 347.6,320.5 347.8,319.2 348.0,319.9 348.1,317.9 348.3,318.9 348.5,317.8 348.6,320.5 348.8,320.3 349.0,320.9 349.1,318.7 349.3,315.3 349.5,318.8 349.6,319.7 349.8,319.0 350.0,319.3 350.1,318.2 350.3,319.4 350.5,320.5 350.6,321.7 350.8,319.1 351.0,318.4 351.1,319.4 351.3,320.7 351.5,320.2 351.6,320.1 351.8,319.1 351.9,319.9 352.1,318.6 352.3,320.2 352.4,320.8 352.6,317.9 352.8,321.3 352.9,321.1 353.1,317.8 353.3,319.9 353.4,318.3 353.6,323.2 353.8,319.0 353.9,320.5 354.1,320.4 354.3,320.0 354.4,323.7 354.6,321.7 354.8,320.2 354.9,317.2 355.1,321.6 355.3,318.2 355.4,320.2 355.6,319.8 355.8,322.0 355.9,320.3 356.1,322.0 356.3,322.4 356.4,319.7 356.6,321.9 356.8,321.7 356.9,320.4 357.1,322.1 357.3,322.6 357.4,321.0 357.6,320.9 357.8,319.6 357.9,322.5 358.1,320.5 358.3,320.6 358.4,321.8 358.6,321.6 358.8,321.4 358.9,322.5 359.1,322.9 359.3,320.7 359.4,322.6 359.6,322.6 359.7,320.7 359.9,322.1 360.1,322.0 360.2,323.1 360.4,323.0 360.6,323.1 360.7,323.2 360.9,320.4 361.1,322.8 361.2,324.2 361.4,323.0 361.6,321.1 361.7,323.1 361.9,321.9 362.1,322.9 362.2,323.8 362.4,322.5 362.6,323.1 362.7,321.8 362.9,321.3 363.1,322.1 363.2,319.4 363.4,323.2 363.6,320.7 363.7,321.7 363.9,320.7 364.1,321.7 364.2,324.5 364.4,322.6 364.6,321.2 364.7,322.3 364.9,323.7 365.1,322.9 365.2,322.0 365.4,321.1 365.6,323.0 365.7,322.3 365.9,323.4 366.1,323.7 366.2,323.0 366.4,321.2 366.6,321.8 366.7,322.9 366.9,322.6 367.1,322.1 367.2,322.8 367.4,323.1 367.5,323.0 367.7,322.1 367.9,323.2 368.0,322.0 368.2,324.7 368.4,323.6 368.5,323.3 368.7,322.3 368.9,323.8 369.0,323.4 369.2,322.6 369.4,323.1 369.5,323.6 369.7,323.3 369.9,323.9 370.0,322.2 370.2,322.6 370.4,322.2 370.5,320.9 370.7,321.9 370.9,322.6 371.0,323.2 371.2,320.9 371.4,322.9 371.5,323.3 371.7,321.9 371.9,322.7 372.0,323.4 372.2,322.7 372.4,321.3 372.5,323.0 372.7,322.8 372.9,324.0 373.0,323.7 373.2,322.4 373.4,323.3 373.5,323.1 373.7,322.2 373.9,323.6 374.0,321.8 374.2,323.9 374.4,324.0 374.5,324.1 374.7,324.8 374.9,322.8 375.0,323.4 375.2,322.1 375.4,324.1 375.5,322.7 375.7,322.2 375.8,323.7 376.0,323.7 376.2,325.9 376.3,321.7 376.5,323.7 376.7,322.9 376.8,324.1 377.0,323.3 377.2,324.7 377.3,323.0 377.5,323.6 377.7,324.0 377.8,323.3 378.0,325.4 378.2,323.6 378.3,324.2 378.5,322.5 378.7,323.1 378.8,324.0 379.0,324.1 379.2,321.1 379.3,324.8 379.5,322.2 379.7,323.1 379.8,323.2 380.0,325.7 380.2,323.2 380.3,324.5 380.5,324.8 380.7,323.5 380.8,324.7 381.0,323.5 381.2,324.9 381.3,323.5 381.5,323.6 381.7,324.8 381.8,324.9 382.0,324.7 382.2,324.5 382.3,324.6 382.5,322.4 382.7,323.7 382.8,324.4 383.0,324.4 383.2,324.8 383.3,323.8 383.5,324.1 383.6,324.7 383.8,324.7 384.0,324.4 384.1,325.0 384.3,324.0 384.5,324.9 384.6,323.6 384.8,324.4 385.0,323.6 385.1,324.6 385.3,325.8 385.5,325.3 385.6,324.3 385.8,323.7 386.0,323.7 386.1,323.6 386.3,323.5 386.5,323.7 386.6,323.7 386.8,324.3 387.0,323.6 387.1,324.2 387.3,324.2 387.5,323.9 387.6,322.0 387.8,325.4 388.0,324.5 388.1,324.3 388.3,323.7 388.5,324.1 388.6,322.6 388.8,325.5 389.0,322.4 389.1,325.2 389.3,324.7 389.5,323.6 389.6,324.0 389.8,324.1 390.0,324.0 390.1,323.7 390.3,323.2 390.5,323.7 390.6,325.2 390.8,324.8 391.0,322.9 391.1,322.4 391.3,323.3 391.4,323.1 391.6,323.8 391.8,322.2 391.9,324.6 392.1,324.4 392.3,324.8 392.4,322.7 392.6,324.6 392.8,323.7 392.9,325.4 393.1,325.4 393.3,323.2 393.4,323.5 393.6,323.4 393.8,323.9 393.9,324.4 394.1,324.5 394.3,325.1 394.4,324.5 394.6,322.9 394.8,324.3 394.9,325.3 395.1,324.3 395.3,325.0 395.4,325.2 395.6,324.2 395.8,324.8 395.9,325.3 396.1,322.8 396.3,322.6 396.4,324.0 396.6,322.8 396.8,324.6 396.9,324.2 397.1,323.0 397.3,323.9 397.4,323.4 397.6,326.6 397.8,323.9 397.9,324.5 398.1,324.3 398.3,325.5 398.4,324.9 398.6,323.6 398.8,323.6 398.9,323.5 399.1,323.4 399.2,323.2 399.4,323.8 399.6,324.4 399.7,324.7 399.9,324.6 400.1,325.1 400.2,325.1 400.4,324.3 400.6,326.2 400.7,325.3 400.9,324.9 401.1,323.7 401.2,323.2 401.4,323.9 401.6,324.2 401.7,324.6 401.9,323.2 402.1,323.6 402.2,324.8 402.4,324.2 402.6,323.8 402.7,323.4 402.9,324.5 403.1,322.9 403.2,323.2 403.4,324.6 403.6,324.4 403.7,325.0 403.9,325.0 404.1,323.9 404.2,322.9 404.4,322.9 404.6,324.0 404.7,324.5 404.9,324.8 405.1,323.8 405.2,324.6 405.4,323.5 405.6,324.3 405.7,323.9 405.9,324.7 406.1,322.4 406.2,323.2 406.4,324.1 406.6,325.0 406.7,323.7 406.9,323.5 407.0,325.2 407.2,324.1 407.4,322.4 407.5,324.0 407.7,324.5 407.9,323.7 408.0,322.6 408.2,324.6 408.4,324.6 408.5,324.4 408.7,324.1 408.9,323.1 409.0,323.9 409.2,326.2 409.4,323.8 409.5,323.8 409.7,323.6 409.9,323.9 410.0,324.3 410.2,323.7 410.4,324.8 410.5,325.7 410.7,324.5 410.9,325.2 411.0,322.7 411.2,324.3 411.4,322.8 411.5,325.4 411.7,325.3 411.9,323.8 412.0,325.8 412.2,324.8 412.4,326.0 412.5,323.9 412.7,325.8 412.9,324.4 413.0,325.8 413.2,323.8 413.4,323.3 413.5,324.2 413.7,325.2 413.9,323.9 414.0,323.4 414.2,323.6 414.4,323.2 414.5,322.6 414.7,324.1 414.9,324.5 415.0,324.9 415.2,324.3 415.3,324.5 415.5,324.8 415.7,324.0 415.8,322.5 416.0,325.0 416.2,324.7 416.3,324.6 416.5,325.2 416.7,323.4 416.8,324.5 417.0,323.8 417.2,325.8 417.3,323.8 417.5,324.4 417.7,325.6 417.8,323.6 418.0,323.5 418.2,324.1 418.3,323.9 418.5,325.2 418.7,323.4 418.8,324.6 419.0,323.9 419.2,323.8 419.3,323.9 419.5,325.0 419.7,324.1 419.8,324.2 420.0,323.3 420.2,325.0 420.3,323.5 420.5,323.9 420.7,324.3 420.8,322.7 421.0,323.6 421.2,324.8 421.3,324.1 421.5,325.0 421.7,325.4 421.8,324.8 422.0,324.8 422.2,322.8 422.3,323.7 422.5,326.5 422.7,324.5 422.8,325.0 423.0,324.5 423.1,324.2 423.3,324.3 423.5,324.0 423.6,325.1 423.8,323.1 424.0,324.5 424.1,323.3 424.3,324.5 424.5,323.9 424.6,325.2 424.8,323.4 425.0,324.1 425.1,324.8 425.3,324.1 425.5,324.0 425.6,325.8 425.8,325.1 426.0,325.3 426.1,323.7 426.3,324.2 426.5,325.0 426.6,325.0 426.8,324.4 427.0,326.5 427.1,324.6 427.3,323.0 427.5,325.7 427.6,325.5 427.8,325.4 428.0,324.0 428.1,325.1 428.3,322.8 428.5,324.6 428.6,324.9 428.8,325.4 429.0,323.8 429.1,323.5 429.3,324.3 429.5,323.3 429.6,323.3 429.8,324.1 430.0,324.4 430.1,324.9 430.3,324.2 430.5,324.7 430.6,323.1 430.8,323.8 430.9,324.6 431.1,324.8 431.3,324.1 431.4,323.5 431.6,324.2 431.8,323.5 431.9,324.8 432.1,324.2 432.3,323.9 432.4,324.3 432.6,324.1 432.8,323.5 432.9,324.4 433.1,323.5 433.3,324.9 433.4,324.0 433.6,324.8 433.8,324.8 433.9,323.9 434.1,323.3 434.3,324.5 434.4,324.3 434.6,323.2" fill="none" stroke="#2ad42a" stroke-width="0.65" stroke-linejoin="bevel"/>
</g>
<rect x="268.80" y="196.30" width="165.80" height="132.90" fill="none" stroke="#5a5a5a" stroke-width="0.9"/>
<line x1="266.80" y1="324.91" x2="268.80" y2="324.91" stroke="#5a5a5a" stroke-width="0.8"/>
<text x="264.30" y="327.31" font-size="7.6" text-anchor="end" fill="#333" textLength="3.59" lengthAdjust="spacingAndGlyphs">0</text>
<line x1="266.80" y1="303.48" x2="268.80" y2="303.48" stroke="#5a5a5a" stroke-width="0.8"/>
<text x="264.30" y="305.88" font-size="7.6" text-anchor="end" fill="#333" textLength="7.18" lengthAdjust="spacingAndGlyphs">50</text>
<line x1="266.80" y1="282.04" x2="268.80" y2="282.04" stroke="#5a5a5a" stroke-width="0.8"/>
<text x="264.30" y="284.44" font-size="7.6" text-anchor="end" fill="#333" textLength="10.78" lengthAdjust="spacingAndGlyphs">100</text>
<line x1="266.80" y1="260.61" x2="268.80" y2="260.61" stroke="#5a5a5a" stroke-width="0.8"/>
<text x="264.30" y="263.01" font-size="7.6" text-anchor="end" fill="#333" textLength="10.78" lengthAdjust="spacingAndGlyphs">150</text>
<line x1="266.80" y1="239.17" x2="268.80" y2="239.17" stroke="#5a5a5a" stroke-width="0.8"/>
<text x="264.30" y="241.57" font-size="7.6" text-anchor="end" fill="#333" textLength="10.78" lengthAdjust="spacingAndGlyphs">200</text>
<line x1="266.80" y1="217.74" x2="268.80" y2="217.74" stroke="#5a5a5a" stroke-width="0.8"/>
<text x="264.30" y="220.14" font-size="7.6" text-anchor="end" fill="#333" textLength="10.78" lengthAdjust="spacingAndGlyphs">250</text>
<line x1="266.80" y1="196.30" x2="268.80" y2="196.30" stroke="#5a5a5a" stroke-width="0.8"/>
<text x="264.30" y="198.70" font-size="7.6" text-anchor="end" fill="#333" textLength="10.78" lengthAdjust="spacingAndGlyphs">300</text>
<line x1="267.60" y1="314.20" x2="268.80" y2="314.20" stroke="#5a5a5a" stroke-width="0.6"/>
<line x1="267.60" y1="292.76" x2="268.80" y2="292.76" stroke="#5a5a5a" stroke-width="0.6"/>
<line x1="267.60" y1="271.32" x2="268.80" y2="271.32" stroke="#5a5a5a" stroke-width="0.6"/>
<line x1="267.60" y1="249.89" x2="268.80" y2="249.89" stroke="#5a5a5a" stroke-width="0.6"/>
<line x1="267.60" y1="228.45" x2="268.80" y2="228.45" stroke="#5a5a5a" stroke-width="0.6"/>
<line x1="267.60" y1="207.02" x2="268.80" y2="207.02" stroke="#5a5a5a" stroke-width="0.6"/>
<line x1="268.80" y1="329.20" x2="268.80" y2="331.20" stroke="#5a5a5a" stroke-width="0.8"/>
<text x="268.80" y="339.10" font-size="7.6" text-anchor="middle" fill="#333" textLength="10.78" lengthAdjust="spacingAndGlyphs">550</text>
<line x1="301.96" y1="329.20" x2="301.96" y2="331.20" stroke="#5a5a5a" stroke-width="0.8"/>
<text x="301.96" y="339.10" font-size="7.6" text-anchor="middle" fill="#333" textLength="10.78" lengthAdjust="spacingAndGlyphs">600</text>
<line x1="335.12" y1="329.20" x2="335.12" y2="331.20" stroke="#5a5a5a" stroke-width="0.8"/>
<text x="335.12" y="339.10" font-size="7.6" text-anchor="middle" fill="#333" textLength="10.78" lengthAdjust="spacingAndGlyphs">650</text>
<line x1="368.28" y1="329.20" x2="368.28" y2="331.20" stroke="#5a5a5a" stroke-width="0.8"/>
<text x="368.28" y="339.10" font-size="7.6" text-anchor="middle" fill="#333" textLength="10.78" lengthAdjust="spacingAndGlyphs">700</text>
<line x1="401.44" y1="329.20" x2="401.44" y2="331.20" stroke="#5a5a5a" stroke-width="0.8"/>
<text x="401.44" y="339.10" font-size="7.6" text-anchor="middle" fill="#333" textLength="10.78" lengthAdjust="spacingAndGlyphs">750</text>
<line x1="434.60" y1="329.20" x2="434.60" y2="331.20" stroke="#5a5a5a" stroke-width="0.8"/>
<text x="434.60" y="339.10" font-size="7.6" text-anchor="middle" fill="#333" textLength="10.78" lengthAdjust="spacingAndGlyphs">800</text>
<line x1="285.38" y1="329.20" x2="285.38" y2="330.40" stroke="#5a5a5a" stroke-width="0.6"/>
<line x1="318.54" y1="329.20" x2="318.54" y2="330.40" stroke="#5a5a5a" stroke-width="0.6"/>
<line x1="351.70" y1="329.20" x2="351.70" y2="330.40" stroke="#5a5a5a" stroke-width="0.6"/>
<line x1="384.86" y1="329.20" x2="384.86" y2="330.40" stroke="#5a5a5a" stroke-width="0.6"/>
<line x1="418.02" y1="329.20" x2="418.02" y2="330.40" stroke="#5a5a5a" stroke-width="0.6"/>
<text x="352.20" y="351.00" font-size="7.1" text-anchor="middle" fill="#222">Wavelength (nm)</text>
<text x="244.80" y="258.15" font-size="7.2" text-anchor="middle" fill="#222" transform="rotate(-90 244.80 258.15)" textLength="44" lengthAdjust="spacingAndGlyphs">Intensity (a.u.)</text>
<rect x="378.00" y="196.30" width="46.20" height="27.00" fill="#fff" stroke="#aaa" stroke-width="0.5"/>
<line x1="379.70" y1="202.50" x2="393.30" y2="202.50" stroke="#f4a6a6" stroke-width="0.9"/>
<text x="396.60" y="204.30" font-size="7.3" text-anchor="start" fill="#222">Center 1</text>
<line x1="379.70" y1="210.50" x2="393.30" y2="210.50" stroke="#a6a6f0" stroke-width="0.9"/>
<text x="396.60" y="212.60" font-size="7.3" text-anchor="start" fill="#222">Center 2</text>
<line x1="379.70" y1="218.50" x2="393.30" y2="218.50" stroke="#a6f0a6" stroke-width="0.9"/>
<text x="396.60" y="220.90" font-size="7.3" text-anchor="start" fill="#222">Center 3</text>
<rect x="510.80" y="22.30" width="166.40" height="133.00" fill="none" stroke="#5a5a5a" stroke-width="0.9"/>
<rect x="610.00" y="21.30" width="4.00" height="2.00" fill="#fff"/>
<line x1="609.00" y1="24.50" x2="611.20" y2="20.10" stroke="#444" stroke-width="0.6"/>
<line x1="612.80" y1="24.50" x2="615.00" y2="20.10" stroke="#444" stroke-width="0.6"/>
<rect x="610.00" y="154.30" width="4.00" height="2.00" fill="#fff"/>
<line x1="609.00" y1="157.50" x2="611.20" y2="153.10" stroke="#444" stroke-width="0.6"/>
<line x1="612.80" y1="157.50" x2="615.00" y2="153.10" stroke="#444" stroke-width="0.6"/>
<line x1="508.80" y1="155.30" x2="510.80" y2="155.30" stroke="#5a5a5a" stroke-width="0.8"/>
<text x="506.30" y="157.70" font-size="7.6" text-anchor="end" fill="#333" textLength="3.59" lengthAdjust="spacingAndGlyphs">0</text>
<line x1="508.80" y1="128.70" x2="510.80" y2="128.70" stroke="#5a5a5a" stroke-width="0.8"/>
<text x="506.30" y="131.10" font-size="7.6" text-anchor="end" fill="#333" textLength="7.18" lengthAdjust="spacingAndGlyphs">20</text>
<line x1="508.80" y1="102.10" x2="510.80" y2="102.10" stroke="#5a5a5a" stroke-width="0.8"/>
<text x="506.30" y="104.50" font-size="7.6" text-anchor="end" fill="#333" textLength="7.18" lengthAdjust="spacingAndGlyphs">40</text>
<line x1="508.80" y1="75.50" x2="510.80" y2="75.50" stroke="#5a5a5a" stroke-width="0.8"/>
<text x="506.30" y="77.90" font-size="7.6" text-anchor="end" fill="#333" textLength="7.18" lengthAdjust="spacingAndGlyphs">60</text>
<line x1="508.80" y1="48.90" x2="510.80" y2="48.90" stroke="#5a5a5a" stroke-width="0.8"/>
<text x="506.30" y="51.30" font-size="7.6" text-anchor="end" fill="#333" textLength="7.18" lengthAdjust="spacingAndGlyphs">80</text>
<line x1="508.80" y1="22.30" x2="510.80" y2="22.30" stroke="#5a5a5a" stroke-width="0.8"/>
<text x="506.30" y="24.70" font-size="7.6" text-anchor="end" fill="#333" textLength="10.78" lengthAdjust="spacingAndGlyphs">100</text>
<line x1="509.60" y1="142.00" x2="510.80" y2="142.00" stroke="#5a5a5a" stroke-width="0.6"/>
<line x1="509.60" y1="115.40" x2="510.80" y2="115.40" stroke="#5a5a5a" stroke-width="0.6"/>
<line x1="509.60" y1="88.80" x2="510.80" y2="88.80" stroke="#5a5a5a" stroke-width="0.6"/>
<line x1="509.60" y1="62.20" x2="510.80" y2="62.20" stroke="#5a5a5a" stroke-width="0.6"/>
<line x1="509.60" y1="35.60" x2="510.80" y2="35.60" stroke="#5a5a5a" stroke-width="0.6"/>
<line x1="510.80" y1="155.30" x2="510.80" y2="157.30" stroke="#5a5a5a" stroke-width="0.8"/>
<text x="510.80" y="165.40" font-size="7.6" text-anchor="middle" fill="#333" textLength="3.59" lengthAdjust="spacingAndGlyphs">0</text>
<line x1="523.12" y1="155.30" x2="523.12" y2="156.50" stroke="#5a5a5a" stroke-width="0.6"/>
<line x1="535.44" y1="155.30" x2="535.44" y2="157.30" stroke="#5a5a5a" stroke-width="0.8"/>
<text x="535.44" y="165.40" font-size="7.6" text-anchor="middle" fill="#333" textLength="7.18" lengthAdjust="spacingAndGlyphs">50</text>
<line x1="547.75" y1="155.30" x2="547.75" y2="156.50" stroke="#5a5a5a" stroke-width="0.6"/>
<line x1="560.07" y1="155.30" x2="560.07" y2="157.30" stroke="#5a5a5a" stroke-width="0.8"/>
<text x="560.07" y="165.40" font-size="7.6" text-anchor="middle" fill="#333" textLength="10.78" lengthAdjust="spacingAndGlyphs">100</text>
<line x1="572.39" y1="155.30" x2="572.39" y2="156.50" stroke="#5a5a5a" stroke-width="0.6"/>
<line x1="584.71" y1="155.30" x2="584.71" y2="157.30" stroke="#5a5a5a" stroke-width="0.8"/>
<text x="584.71" y="165.40" font-size="7.6" text-anchor="middle" fill="#333" textLength="10.78" lengthAdjust="spacingAndGlyphs">150</text>
<line x1="597.02" y1="155.30" x2="597.02" y2="156.50" stroke="#5a5a5a" stroke-width="0.6"/>
<line x1="628.00" y1="155.30" x2="628.00" y2="157.30" stroke="#5a5a5a" stroke-width="0.8"/>
<text x="628.00" y="165.40" font-size="7.6" text-anchor="middle" fill="#333" textLength="10.78" lengthAdjust="spacingAndGlyphs">700</text>
<line x1="640.32" y1="155.30" x2="640.32" y2="156.50" stroke="#5a5a5a" stroke-width="0.6"/>
<line x1="652.63" y1="155.30" x2="652.63" y2="157.30" stroke="#5a5a5a" stroke-width="0.8"/>
<text x="652.63" y="165.40" font-size="7.6" text-anchor="middle" fill="#333" textLength="10.78" lengthAdjust="spacingAndGlyphs">750</text>
<line x1="664.95" y1="155.30" x2="664.95" y2="156.50" stroke="#5a5a5a" stroke-width="0.6"/>
<line x1="677.27" y1="155.30" x2="677.27" y2="157.30" stroke="#5a5a5a" stroke-width="0.8"/>
<text x="677.27" y="165.40" font-size="7.6" text-anchor="middle" fill="#333" textLength="10.78" lengthAdjust="spacingAndGlyphs">800</text>
<text x="594.20" y="176.30" font-size="7.1" text-anchor="middle" fill="#222">F (ions/spot)</text>
<text x="593.70" y="17.40" font-size="7.0" text-anchor="middle" fill="#222">35 keV implantation energy</text>
<text transform="translate(490.8 88.70) rotate(-90)" font-size="7.6" fill="#222" text-anchor="middle">f<tspan font-size="5.2" dy="1.8">GeV</tspan><tspan dy="-1.8"> (%)</tspan></text>
<rect x="624.70" y="22.30" width="52.50" height="10.20" fill="#fff" stroke="#aaa" stroke-width="0.5"/>
<rect x="632.0" y="25.60" width="3.6" height="3.6" rx="0.8" fill="#c4122e"/>
<text x="643.20" y="30.00" font-size="7.3" text-anchor="start" fill="#222">GeV spots</text>
<line x1="525.60" y1="95.60" x2="531.10" y2="95.60" stroke="#dca4a4" stroke-width="0.6"/>
<line x1="528.20" y1="86.70" x2="528.20" y2="104.40" stroke="#dca4a4" stroke-width="0.6"/>
<line x1="525.60" y1="94.50" x2="525.60" y2="96.70" stroke="#dca4a4" stroke-width="0.6"/>
<line x1="531.10" y1="94.50" x2="531.10" y2="96.70" stroke="#dca4a4" stroke-width="0.6"/>
<line x1="527.10" y1="86.70" x2="529.30" y2="86.70" stroke="#dca4a4" stroke-width="0.6"/>
<line x1="527.10" y1="104.40" x2="529.30" y2="104.40" stroke="#dca4a4" stroke-width="0.6"/>
<rect x="526.50" y="93.90" width="3.4" height="3.4" rx="0.9" fill="#d01424"/>
<line x1="533.30" y1="93.80" x2="540.00" y2="93.80" stroke="#dca4a4" stroke-width="0.6"/>
<line x1="536.70" y1="84.90" x2="536.70" y2="103.30" stroke="#dca4a4" stroke-width="0.6"/>
<line x1="533.30" y1="92.70" x2="533.30" y2="94.90" stroke="#dca4a4" stroke-width="0.6"/>
<line x1="540.00" y1="92.70" x2="540.00" y2="94.90" stroke="#dca4a4" stroke-width="0.6"/>
<line x1="535.60" y1="84.90" x2="537.80" y2="84.90" stroke="#dca4a4" stroke-width="0.6"/>
<line x1="535.60" y1="103.30" x2="537.80" y2="103.30" stroke="#dca4a4" stroke-width="0.6"/>
<rect x="535.00" y="92.10" width="3.4" height="3.4" rx="0.9" fill="#d01424"/>
<line x1="541.00" y1="111.10" x2="550.00" y2="111.10" stroke="#dca4a4" stroke-width="0.6"/>
<line x1="545.60" y1="103.30" x2="545.60" y2="118.90" stroke="#dca4a4" stroke-width="0.6"/>
<line x1="541.00" y1="110.00" x2="541.00" y2="112.20" stroke="#dca4a4" stroke-width="0.6"/>
<line x1="550.00" y1="110.00" x2="550.00" y2="112.20" stroke="#dca4a4" stroke-width="0.6"/>
<line x1="544.50" y1="103.30" x2="546.70" y2="103.30" stroke="#dca4a4" stroke-width="0.6"/>
<line x1="544.50" y1="118.90" x2="546.70" y2="118.90" stroke="#dca4a4" stroke-width="0.6"/>
<rect x="543.90" y="109.40" width="3.4" height="3.4" rx="0.9" fill="#d01424"/>
<line x1="557.10" y1="123.30" x2="568.40" y2="123.30" stroke="#dca4a4" stroke-width="0.6"/>
<line x1="562.90" y1="116.70" x2="562.90" y2="130.00" stroke="#dca4a4" stroke-width="0.6"/>
<line x1="557.10" y1="122.20" x2="557.10" y2="124.40" stroke="#dca4a4" stroke-width="0.6"/>
<line x1="568.40" y1="122.20" x2="568.40" y2="124.40" stroke="#dca4a4" stroke-width="0.6"/>
<line x1="561.80" y1="116.70" x2="564.00" y2="116.70" stroke="#dca4a4" stroke-width="0.6"/>
<line x1="561.80" y1="130.00" x2="564.00" y2="130.00" stroke="#dca4a4" stroke-width="0.6"/>
<rect x="561.20" y="121.60" width="3.4" height="3.4" rx="0.9" fill="#d01424"/>
<line x1="574.00" y1="130.70" x2="586.70" y2="130.70" stroke="#dca4a4" stroke-width="0.6"/>
<line x1="580.40" y1="125.10" x2="580.40" y2="136.70" stroke="#dca4a4" stroke-width="0.6"/>
<line x1="574.00" y1="129.60" x2="574.00" y2="131.80" stroke="#dca4a4" stroke-width="0.6"/>
<line x1="586.70" y1="129.60" x2="586.70" y2="131.80" stroke="#dca4a4" stroke-width="0.6"/>
<line x1="579.30" y1="125.10" x2="581.50" y2="125.10" stroke="#dca4a4" stroke-width="0.6"/>
<line x1="579.30" y1="136.70" x2="581.50" y2="136.70" stroke="#dca4a4" stroke-width="0.6"/>
<rect x="578.70" y="129.00" width="3.4" height="3.4" rx="0.9" fill="#d01424"/>
<line x1="614.70" y1="127.50" x2="641.30" y2="127.50" stroke="#dca4a4" stroke-width="0.6"/>
<line x1="628.00" y1="121.00" x2="628.00" y2="133.30" stroke="#dca4a4" stroke-width="0.6"/>
<line x1="614.70" y1="126.40" x2="614.70" y2="128.60" stroke="#dca4a4" stroke-width="0.6"/>
<line x1="641.30" y1="126.40" x2="641.30" y2="128.60" stroke="#dca4a4" stroke-width="0.6"/>
<line x1="626.90" y1="121.00" x2="629.10" y2="121.00" stroke="#dca4a4" stroke-width="0.6"/>
<line x1="626.90" y1="133.30" x2="629.10" y2="133.30" stroke="#dca4a4" stroke-width="0.6"/>
<rect x="626.30" y="125.80" width="3.4" height="3.4" rx="0.9" fill="#d01424"/>
<rect x="510.80" y="196.30" width="166.40" height="132.70" fill="none" stroke="#5a5a5a" stroke-width="0.9"/>
<rect x="596.80" y="195.30" width="4.00" height="2.00" fill="#fff"/>
<line x1="595.80" y1="198.50" x2="598.00" y2="194.10" stroke="#444" stroke-width="0.6"/>
<line x1="599.60" y1="198.50" x2="601.80" y2="194.10" stroke="#444" stroke-width="0.6"/>
<rect x="596.80" y="328.00" width="4.00" height="2.00" fill="#fff"/>
<line x1="595.80" y1="331.20" x2="598.00" y2="326.80" stroke="#444" stroke-width="0.6"/>
<line x1="599.60" y1="331.20" x2="601.80" y2="326.80" stroke="#444" stroke-width="0.6"/>
<line x1="508.80" y1="329.00" x2="510.80" y2="329.00" stroke="#5a5a5a" stroke-width="0.8"/>
<text x="506.30" y="331.40" font-size="7.6" text-anchor="end" fill="#333" textLength="3.59" lengthAdjust="spacingAndGlyphs">0</text>
<line x1="508.80" y1="302.46" x2="510.80" y2="302.46" stroke="#5a5a5a" stroke-width="0.8"/>
<text x="506.30" y="304.86" font-size="7.6" text-anchor="end" fill="#333" textLength="7.18" lengthAdjust="spacingAndGlyphs">20</text>
<line x1="508.80" y1="275.92" x2="510.80" y2="275.92" stroke="#5a5a5a" stroke-width="0.8"/>
<text x="506.30" y="278.32" font-size="7.6" text-anchor="end" fill="#333" textLength="7.18" lengthAdjust="spacingAndGlyphs">40</text>
<line x1="508.80" y1="249.38" x2="510.80" y2="249.38" stroke="#5a5a5a" stroke-width="0.8"/>
<text x="506.30" y="251.78" font-size="7.6" text-anchor="end" fill="#333" textLength="7.18" lengthAdjust="spacingAndGlyphs">60</text>
<line x1="508.80" y1="222.84" x2="510.80" y2="222.84" stroke="#5a5a5a" stroke-width="0.8"/>
<text x="506.30" y="225.24" font-size="7.6" text-anchor="end" fill="#333" textLength="7.18" lengthAdjust="spacingAndGlyphs">80</text>
<line x1="508.80" y1="196.30" x2="510.80" y2="196.30" stroke="#5a5a5a" stroke-width="0.8"/>
<text x="506.30" y="198.70" font-size="7.6" text-anchor="end" fill="#333" textLength="10.78" lengthAdjust="spacingAndGlyphs">100</text>
<line x1="509.60" y1="315.73" x2="510.80" y2="315.73" stroke="#5a5a5a" stroke-width="0.6"/>
<line x1="509.60" y1="289.19" x2="510.80" y2="289.19" stroke="#5a5a5a" stroke-width="0.6"/>
<line x1="509.60" y1="262.65" x2="510.80" y2="262.65" stroke="#5a5a5a" stroke-width="0.6"/>
<line x1="509.60" y1="236.11" x2="510.80" y2="236.11" stroke="#5a5a5a" stroke-width="0.6"/>
<line x1="509.60" y1="209.57" x2="510.80" y2="209.57" stroke="#5a5a5a" stroke-width="0.6"/>
<line x1="510.80" y1="329.00" x2="510.80" y2="331.00" stroke="#5a5a5a" stroke-width="0.8"/>
<text x="510.80" y="339.10" font-size="7.6" text-anchor="middle" fill="#333" textLength="3.59" lengthAdjust="spacingAndGlyphs">0</text>
<line x1="521.89" y1="329.00" x2="521.89" y2="330.20" stroke="#5a5a5a" stroke-width="0.6"/>
<line x1="532.98" y1="329.00" x2="532.98" y2="331.00" stroke="#5a5a5a" stroke-width="0.8"/>
<text x="532.98" y="339.10" font-size="7.6" text-anchor="middle" fill="#333" textLength="7.18" lengthAdjust="spacingAndGlyphs">50</text>
<line x1="544.07" y1="329.00" x2="544.07" y2="330.20" stroke="#5a5a5a" stroke-width="0.6"/>
<line x1="555.16" y1="329.00" x2="555.16" y2="331.00" stroke="#5a5a5a" stroke-width="0.8"/>
<text x="555.16" y="339.10" font-size="7.6" text-anchor="middle" fill="#333" textLength="10.78" lengthAdjust="spacingAndGlyphs">100</text>
<line x1="566.25" y1="329.00" x2="566.25" y2="330.20" stroke="#5a5a5a" stroke-width="0.6"/>
<line x1="577.34" y1="329.00" x2="577.34" y2="331.00" stroke="#5a5a5a" stroke-width="0.8"/>
<text x="577.34" y="339.10" font-size="7.6" text-anchor="middle" fill="#333" textLength="10.78" lengthAdjust="spacingAndGlyphs">150</text>
<line x1="588.43" y1="329.00" x2="588.43" y2="330.20" stroke="#5a5a5a" stroke-width="0.6"/>
<line x1="609.90" y1="329.00" x2="609.90" y2="331.00" stroke="#5a5a5a" stroke-width="0.8"/>
<text x="609.90" y="339.10" font-size="7.6" text-anchor="middle" fill="#333" textLength="10.78" lengthAdjust="spacingAndGlyphs">750</text>
<line x1="620.99" y1="329.00" x2="620.99" y2="330.20" stroke="#5a5a5a" stroke-width="0.6"/>
<line x1="632.08" y1="329.00" x2="632.08" y2="331.00" stroke="#5a5a5a" stroke-width="0.8"/>
<text x="632.08" y="339.10" font-size="7.6" text-anchor="middle" fill="#333" textLength="10.78" lengthAdjust="spacingAndGlyphs">800</text>
<line x1="643.17" y1="329.00" x2="643.17" y2="330.20" stroke="#5a5a5a" stroke-width="0.6"/>
<line x1="654.26" y1="329.00" x2="654.26" y2="331.00" stroke="#5a5a5a" stroke-width="0.8"/>
<text x="654.26" y="339.10" font-size="7.6" text-anchor="middle" fill="#333" textLength="10.78" lengthAdjust="spacingAndGlyphs">850</text>
<line x1="665.35" y1="329.00" x2="665.35" y2="330.20" stroke="#5a5a5a" stroke-width="0.6"/>
<line x1="676.44" y1="329.00" x2="676.44" y2="331.00" stroke="#5a5a5a" stroke-width="0.8"/>
<text x="676.44" y="339.10" font-size="7.6" text-anchor="middle" fill="#333" textLength="10.78" lengthAdjust="spacingAndGlyphs">900</text>
<text x="594.20" y="350.00" font-size="7.1" text-anchor="middle" fill="#222">F (ions/spot)</text>
<text x="593.70" y="191.40" font-size="7.0" text-anchor="middle" fill="#222">70 keV implantation energy</text>
<text transform="translate(490.8 262.55) rotate(-90)" font-size="7.6" fill="#222" text-anchor="middle">f<tspan font-size="5.2" dy="1.8">GeV</tspan><tspan dy="-1.8"> (%)</tspan></text>
<rect x="624.70" y="196.30" width="52.50" height="10.20" fill="#fff" stroke="#aaa" stroke-width="0.5"/>
<rect x="632.0" y="199.60" width="3.6" height="3.6" rx="0.8" fill="#c4122e"/>
<text x="643.20" y="204.00" font-size="7.3" text-anchor="start" fill="#222">GeV spots</text>
<line x1="526.50" y1="254.20" x2="530.70" y2="254.20" stroke="#dca4a4" stroke-width="0.6"/>
<line x1="528.60" y1="243.90" x2="528.60" y2="264.70" stroke="#dca4a4" stroke-width="0.6"/>
<line x1="526.50" y1="253.10" x2="526.50" y2="255.30" stroke="#dca4a4" stroke-width="0.6"/>
<line x1="530.70" y1="253.10" x2="530.70" y2="255.30" stroke="#dca4a4" stroke-width="0.6"/>
<line x1="527.50" y1="243.90" x2="529.70" y2="243.90" stroke="#dca4a4" stroke-width="0.6"/>
<line x1="527.50" y1="264.70" x2="529.70" y2="264.70" stroke="#dca4a4" stroke-width="0.6"/>
<rect x="526.90" y="252.50" width="3.4" height="3.4" rx="0.9" fill="#d01424"/>
<line x1="534.00" y1="269.40" x2="539.80" y2="269.40" stroke="#dca4a4" stroke-width="0.6"/>
<line x1="536.90" y1="260.60" x2="536.90" y2="278.60" stroke="#dca4a4" stroke-width="0.6"/>
<line x1="534.00" y1="268.30" x2="534.00" y2="270.50" stroke="#dca4a4" stroke-width="0.6"/>
<line x1="539.80" y1="268.30" x2="539.80" y2="270.50" stroke="#dca4a4" stroke-width="0.6"/>
<line x1="535.80" y1="260.60" x2="538.00" y2="260.60" stroke="#dca4a4" stroke-width="0.6"/>
<line x1="535.80" y1="278.60" x2="538.00" y2="278.60" stroke="#dca4a4" stroke-width="0.6"/>
<rect x="535.20" y="267.70" width="3.4" height="3.4" rx="0.9" fill="#d01424"/>
<line x1="541.40" y1="282.80" x2="550.30" y2="282.80" stroke="#dca4a4" stroke-width="0.6"/>
<line x1="545.60" y1="275.30" x2="545.60" y2="291.70" stroke="#dca4a4" stroke-width="0.6"/>
<line x1="541.40" y1="281.70" x2="541.40" y2="283.90" stroke="#dca4a4" stroke-width="0.6"/>
<line x1="550.30" y1="281.70" x2="550.30" y2="283.90" stroke="#dca4a4" stroke-width="0.6"/>
<line x1="544.50" y1="275.30" x2="546.70" y2="275.30" stroke="#dca4a4" stroke-width="0.6"/>
<line x1="544.50" y1="291.70" x2="546.70" y2="291.70" stroke="#dca4a4" stroke-width="0.6"/>
<rect x="543.90" y="281.10" width="3.4" height="3.4" rx="0.9" fill="#d01424"/>
<line x1="557.80" y1="303.10" x2="568.30" y2="303.10" stroke="#dca4a4" stroke-width="0.6"/>
<line x1="562.80" y1="297.50" x2="562.80" y2="309.20" stroke="#dca4a4" stroke-width="0.6"/>
<line x1="557.80" y1="302.00" x2="557.80" y2="304.20" stroke="#dca4a4" stroke-width="0.6"/>
<line x1="568.30" y1="302.00" x2="568.30" y2="304.20" stroke="#dca4a4" stroke-width="0.6"/>
<line x1="561.70" y1="297.50" x2="563.90" y2="297.50" stroke="#dca4a4" stroke-width="0.6"/>
<line x1="561.70" y1="309.20" x2="563.90" y2="309.20" stroke="#dca4a4" stroke-width="0.6"/>
<rect x="561.10" y="301.40" width="3.4" height="3.4" rx="0.9" fill="#d01424"/>
<line x1="575.30" y1="316.70" x2="585.60" y2="316.70" stroke="#dca4a4" stroke-width="0.6"/>
<line x1="580.00" y1="312.00" x2="580.00" y2="321.10" stroke="#dca4a4" stroke-width="0.6"/>
<line x1="575.30" y1="315.60" x2="575.30" y2="317.80" stroke="#dca4a4" stroke-width="0.6"/>
<line x1="585.60" y1="315.60" x2="585.60" y2="317.80" stroke="#dca4a4" stroke-width="0.6"/>
<line x1="578.90" y1="312.00" x2="581.10" y2="312.00" stroke="#dca4a4" stroke-width="0.6"/>
<line x1="578.90" y1="321.10" x2="581.10" y2="321.10" stroke="#dca4a4" stroke-width="0.6"/>
<rect x="578.30" y="315.00" width="3.4" height="3.4" rx="0.9" fill="#d01424"/>
<line x1="619.40" y1="307.80" x2="644.80" y2="307.80" stroke="#dca4a4" stroke-width="0.6"/>
<line x1="632.10" y1="302.50" x2="632.10" y2="313.10" stroke="#dca4a4" stroke-width="0.6"/>
<line x1="619.40" y1="306.70" x2="619.40" y2="308.90" stroke="#dca4a4" stroke-width="0.6"/>
<line x1="644.80" y1="306.70" x2="644.80" y2="308.90" stroke="#dca4a4" stroke-width="0.6"/>
<line x1="631.00" y1="302.50" x2="633.20" y2="302.50" stroke="#dca4a4" stroke-width="0.6"/>
<line x1="631.00" y1="313.10" x2="633.20" y2="313.10" stroke="#dca4a4" stroke-width="0.6"/>
<rect x="630.40" y="306.10" width="3.4" height="3.4" rx="0.9" fill="#d01424"/>
</svg></body></html>
